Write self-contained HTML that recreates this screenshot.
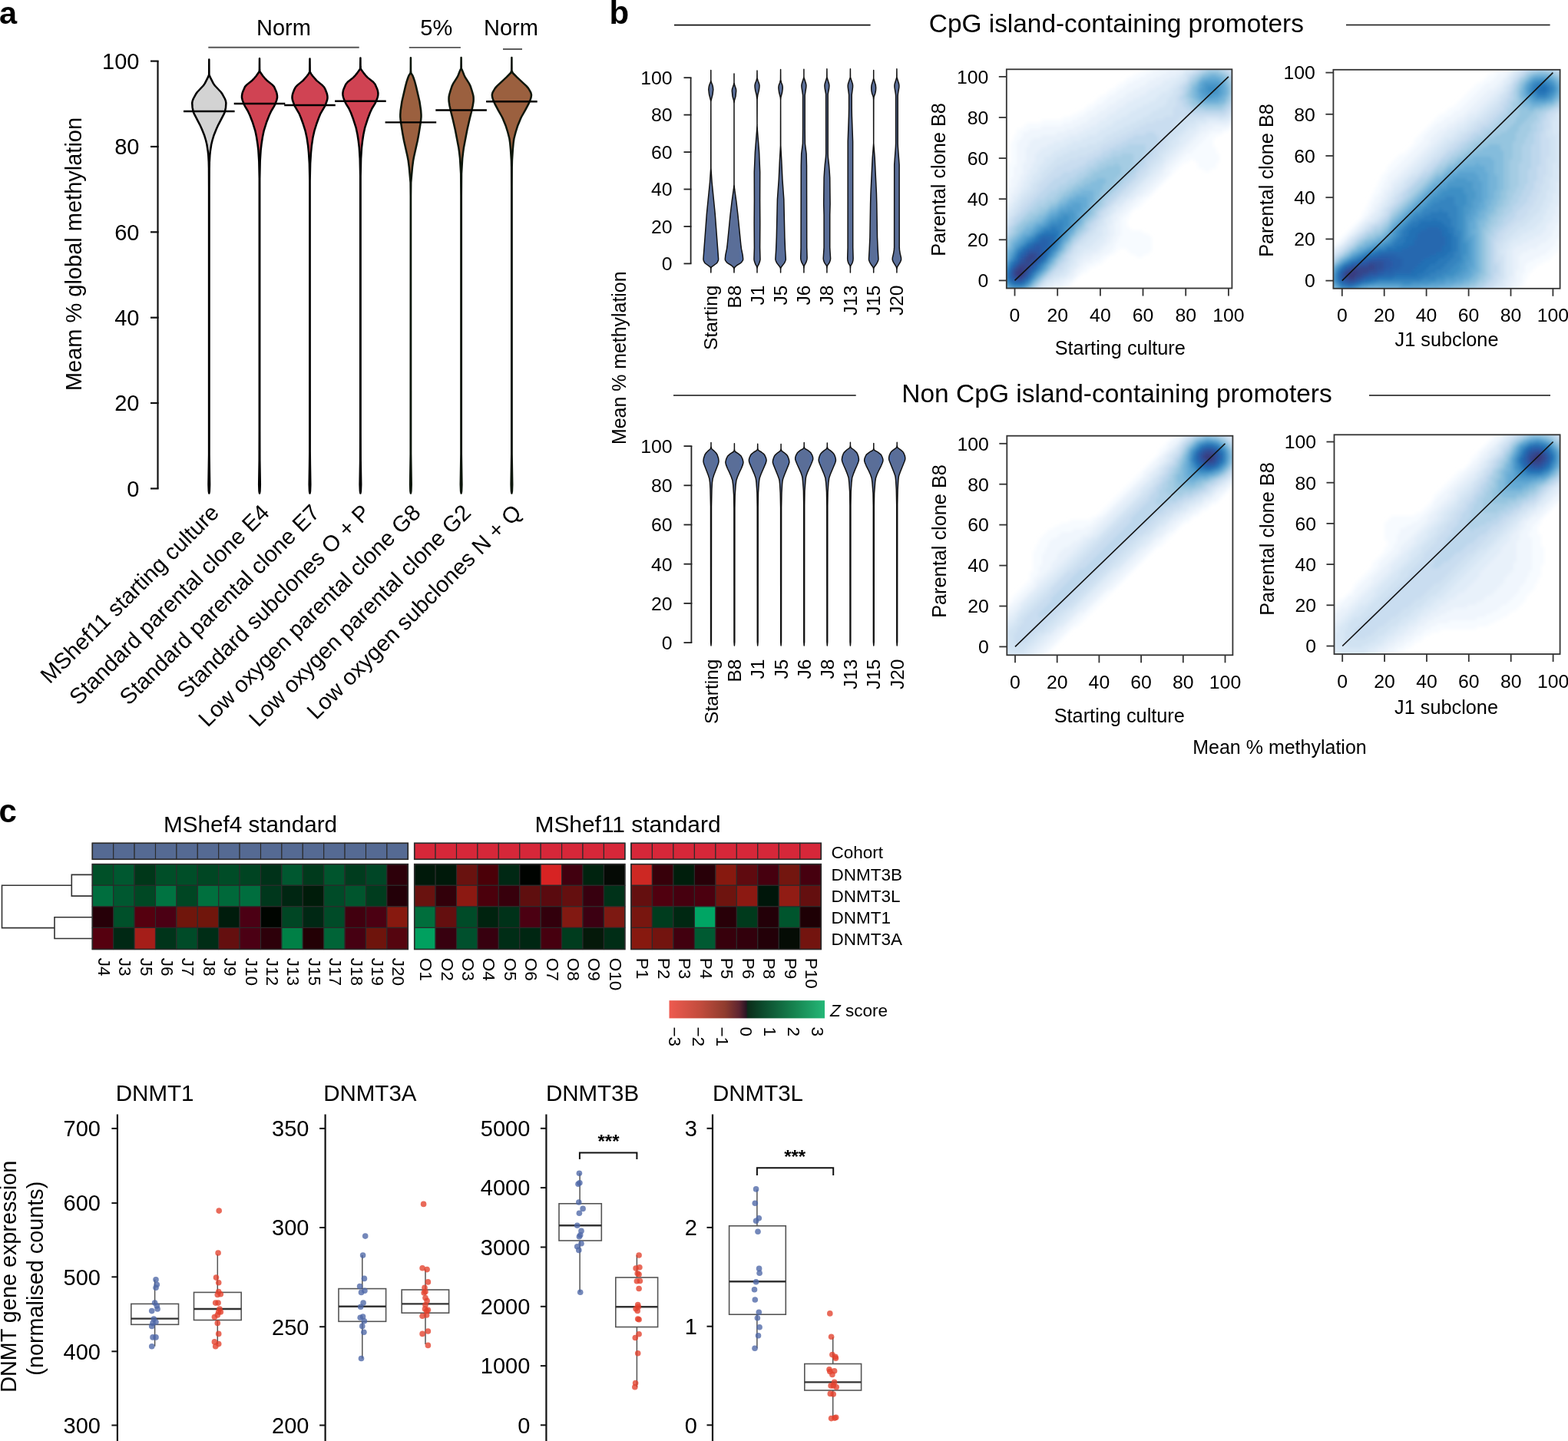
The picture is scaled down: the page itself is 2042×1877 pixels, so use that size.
<!DOCTYPE html><html><head><meta charset="utf-8"><title>Figure</title><style>html,body{margin:0;padding:0;background:#fff;}svg{display:block;}</style></head><body><svg width="2042" height="1877" viewBox="0 0 2042 1877" font-family='"Liberation Sans", Arial, Helvetica, sans-serif'><rect width="100%" height="100%" fill="#fff"/><text x="-1" y="31" font-size="41.5" font-weight="bold">a</text>
<line x1="205.5" y1="79.6" x2="205.5" y2="636.4" stroke="#111" stroke-width="2.2"/>
<line x1="196" y1="636.4" x2="206.6" y2="636.4" stroke="#111" stroke-width="2.2"/>
<text x="181.5" y="646.7" font-size="29" text-anchor="end">0</text>
<line x1="196" y1="525" x2="206.6" y2="525" stroke="#111" stroke-width="2.2"/>
<text x="181.5" y="535.3" font-size="29" text-anchor="end">20</text>
<line x1="196" y1="413.7" x2="206.6" y2="413.7" stroke="#111" stroke-width="2.2"/>
<text x="181.5" y="424" font-size="29" text-anchor="end">40</text>
<line x1="196" y1="302.3" x2="206.6" y2="302.3" stroke="#111" stroke-width="2.2"/>
<text x="181.5" y="312.6" font-size="29" text-anchor="end">60</text>
<line x1="196" y1="191" x2="206.6" y2="191" stroke="#111" stroke-width="2.2"/>
<text x="181.5" y="201.3" font-size="29" text-anchor="end">80</text>
<line x1="196" y1="79.6" x2="206.6" y2="79.6" stroke="#111" stroke-width="2.2"/>
<text x="181.5" y="89.9" font-size="29" text-anchor="end">100</text>
<text x="106" y="331" font-size="29" text-anchor="middle" transform="rotate(-90 106 331)">Meam % global methylation</text>
<line x1="271.3" y1="61.8" x2="467.7" y2="61.8" stroke="#555" stroke-width="1.9"/>
<line x1="532.8" y1="61.9" x2="599.9" y2="61.9" stroke="#555" stroke-width="1.9"/>
<line x1="655" y1="64" x2="680" y2="64" stroke="#555" stroke-width="1.9"/>
<text x="369.5" y="46.4" font-size="29" text-anchor="middle">Norm</text>
<text x="568.3" y="46.4" font-size="29" text-anchor="middle">5%</text>
<text x="665.5" y="46.4" font-size="29" text-anchor="middle">Norm</text>
<path d="M272.3,642.5 272.8,639.7 273.1,631.2 272.5,591.4 272.5,244.9 272.6,219.4 272.8,210.9 273.3,202.4 273.9,196.7 275.2,188.2 276.6,182.5 278.3,176.8 281.7,168.3 284.3,162.6 291.7,148.4 292.9,145.6 294,139.9 294.4,134.2 293.9,131.4 292.8,128.5 289.7,122.8 287.8,120 279.8,111.5 277.8,108.6 273.5,100.1 272.4,97.3 272.3,77.4 272.3,77.4 272.2,97.3 271.1,100.1 266.8,108.6 264.8,111.5 256.8,120 254.9,122.8 251.8,128.5 250.7,131.4 250.2,134.2 250.6,139.9 251.7,145.6 252.9,148.4 260.3,162.6 262.9,168.3 266.3,176.8 268,182.5 269.4,188.2 270.7,196.7 271.3,202.4 271.8,210.9 272,219.4 272.1,244.9 272.1,591.4 271.5,631.2 271.8,639.7 272.3,642.5Z" fill="#d3d3d3" stroke="#000" stroke-width="2.5" stroke-linejoin="round"/>
<line x1="239" y1="145" x2="305.6" y2="145" stroke="#000" stroke-width="2.4"/>
<path d="M338,642.5 338.5,639.7 338.8,631.1 338.3,599.8 338.2,560 338.2,232.7 338.7,210 339.6,195.7 340.6,187.2 341.9,178.7 343.7,170.1 347.3,158.7 350.6,150.2 353.3,144.5 356.7,138.8 358.2,136 359.3,133.1 360.3,130.3 361,127.4 361,124.6 360.5,121.7 359.6,118.9 357.1,113.2 354.6,110.4 347.5,104.7 344.8,101.8 342.4,99 338.4,93.3 338.1,90.4 338,76.2 338,76.2 337.9,90.4 337.6,93.3 333.6,99 331.2,101.8 328.5,104.7 321.4,110.4 318.9,113.2 316.4,118.9 315.5,121.7 315,124.6 315,127.4 315.7,130.3 316.7,133.1 317.8,136 319.3,138.8 322.7,144.5 325.4,150.2 328.7,158.7 332.3,170.1 334.1,178.7 335.4,187.2 336.4,195.7 337.3,210 337.8,232.7 337.8,560 337.7,599.8 337.2,631.1 337.5,639.7 338,642.5Z" fill="#d04353" stroke="#000" stroke-width="2.5" stroke-linejoin="round"/>
<line x1="304.7" y1="135" x2="371.3" y2="135" stroke="#000" stroke-width="2.4"/>
<path d="M403.5,642.5 404,639.7 404.3,631.1 403.9,605.5 403.7,588.5 403.6,235.8 404.1,213 405,198.8 405.8,190.3 407.5,178.9 409.4,170.4 412.1,161.8 415.2,153.3 417.6,147.6 422.6,139.1 424,136.2 426,130.5 426.5,127.7 426.4,124.9 425.8,122 423.6,116.3 422.1,113.5 419.3,110.6 412.3,104.9 407.4,99.3 405.3,96.4 403.7,93.6 403.5,76.5 403.5,76.5 403.3,93.6 401.7,96.4 399.6,99.3 394.7,104.9 387.7,110.6 384.9,113.5 383.4,116.3 381.2,122 380.6,124.9 380.5,127.7 381,130.5 383,136.2 384.4,139.1 389.4,147.6 391.8,153.3 394.9,161.8 397.6,170.4 399.5,178.9 401.2,190.3 402,198.8 402.9,213 403.4,235.8 403.3,588.5 403.1,605.5 402.7,631.1 403,639.7 403.5,642.5Z" fill="#d04353" stroke="#000" stroke-width="2.5" stroke-linejoin="round"/>
<line x1="370.2" y1="137" x2="436.8" y2="137" stroke="#000" stroke-width="2.4"/>
<path d="M469.4,642.5 469.9,639.7 470.2,631.1 469.7,599.8 469.6,562.7 469.6,229.4 470.1,206.6 471,192.3 472,183.8 473.3,175.2 475.1,166.7 478.7,155.3 481.9,146.7 484.6,141 488.1,135.3 489.6,132.5 490.7,129.6 491.7,126.8 492.3,123.9 492.4,121.1 491.9,118.2 491,115.4 488.5,109.7 486,106.8 478.9,101.1 476.2,98.3 473.8,95.4 469.8,89.7 469.5,86.9 469.4,75.5 469.4,75.5 469.2,86.9 469,89.7 465,95.4 462.6,98.3 459.9,101.1 452.8,106.8 450.3,109.7 447.8,115.4 446.9,118.2 446.4,121.1 446.5,123.9 447.1,126.8 448.1,129.6 449.2,132.5 450.7,135.3 454.2,141 456.9,146.7 460.1,155.3 463.7,166.7 465.5,175.2 466.8,183.8 467.8,192.3 468.7,206.6 469.2,229.4 469.2,562.7 469.1,599.8 468.6,631.1 468.9,639.7 469.4,642.5Z" fill="#d04353" stroke="#000" stroke-width="2.5" stroke-linejoin="round"/>
<line x1="436.1" y1="131.8" x2="502.7" y2="131.8" stroke="#000" stroke-width="2.4"/>
<path d="M534.9,642.5 535.4,639.7 535.7,631.1 535.1,591.2 535,254.9 535.2,237.8 537,217.8 538.1,209.3 539.2,203.6 543.7,183.6 545.3,175.1 548,158 548.5,152.3 548.5,149.4 548.1,143.7 546.4,132.3 541.8,112.4 540.3,106.7 538.4,101 537.2,98.1 535.3,95.3 535,92.4 534.9,75.3 534.9,75.3 534.8,92.4 534.5,95.3 532.6,98.1 531.4,101 529.5,106.7 528,112.4 523.4,132.3 521.7,143.7 521.3,149.4 521.3,152.3 521.8,158 524.5,175.1 526.1,183.6 530.6,203.6 531.7,209.3 532.8,217.8 534.6,237.8 534.8,254.9 534.7,591.2 534.1,631.1 534.4,639.7 534.9,642.5Z" fill="#9b603f" stroke="#0d160b" stroke-width="2.5" stroke-linejoin="round"/>
<line x1="501.6" y1="159.4" x2="568.2" y2="159.4" stroke="#000" stroke-width="2.4"/>
<path d="M600.6,642.5 601.1,639.7 601.4,631.1 600.8,591.2 600.8,254.7 601,226.1 602.2,206.2 603.2,197.6 604,191.9 608.4,169.1 611.6,154.9 613.8,146.3 615.7,137.7 616.6,132 616.7,129.2 616.6,126.3 616.1,123.5 614.5,117.8 612.6,112.1 611.2,109.2 605.8,100.7 604.4,97.8 602.2,92.1 600.8,89.3 600.6,75 600.6,75 600.4,89.3 599,92.1 596.8,97.8 595.4,100.7 590,109.2 588.6,112.1 586.7,117.8 585.1,123.5 584.6,126.3 584.5,129.2 584.6,132 585.5,137.7 587.4,146.3 589.6,154.9 592.8,169.1 597.2,191.9 598,197.6 599,206.2 600.2,226.1 600.4,254.7 600.4,591.2 599.8,631.1 600.1,639.7 600.6,642.5Z" fill="#9b603f" stroke="#0d160b" stroke-width="2.5" stroke-linejoin="round"/>
<line x1="567.3" y1="143.5" x2="633.9" y2="143.5" stroke="#000" stroke-width="2.4"/>
<path d="M666.4,642.5 666.9,639.7 667.2,631.1 666.6,591.2 666.6,243.3 666.7,217.6 666.9,209 667.8,194.8 668.6,186.2 669.4,180.5 671.6,172 674.3,163.4 677.8,154.9 679.2,152 684.1,143.4 688.6,134.9 690.9,129.2 691.7,126.3 692,123.5 691.3,120.6 689.8,117.8 688,114.9 685.6,112.1 673.3,100.7 667.7,95 666.5,92.1 666.4,75 666.4,75 666.2,92.1 665.1,95 659.5,100.7 647.2,112.1 644.8,114.9 643,117.8 641.5,120.6 640.8,123.5 641.1,126.3 641.9,129.2 644.2,134.9 648.7,143.4 653.6,152 655,154.9 658.5,163.4 661.2,172 663.4,180.5 664.2,186.2 665,194.8 665.9,209 666.1,217.6 666.2,243.3 666.2,591.2 665.6,631.1 665.9,639.7 666.4,642.5Z" fill="#9b603f" stroke="#0d160b" stroke-width="2.5" stroke-linejoin="round"/>
<line x1="633.1" y1="132.2" x2="699.7" y2="132.2" stroke="#000" stroke-width="2.4"/>
<text x="286.8" y="669.5" font-size="29.2" text-anchor="end" transform="rotate(-45 286.8 669.5)">MShef11 starting culture</text>
<text x="352.5" y="669.5" font-size="29.2" text-anchor="end" transform="rotate(-45 352.5 669.5)">Standard parental clone E4</text>
<text x="418" y="669.5" font-size="29.2" text-anchor="end" transform="rotate(-45 418 669.5)">Standard parental clone E7</text>
<text x="483.9" y="669.5" font-size="29.2" text-anchor="end" transform="rotate(-45 483.9 669.5)">Standard subclones O + P</text>
<text x="549.4" y="669.5" font-size="29.2" text-anchor="end" transform="rotate(-45 549.4 669.5)">Low oxygen parental clone G8</text>
<text x="615.1" y="669.5" font-size="29.2" text-anchor="end" transform="rotate(-45 615.1 669.5)">Low oxygen parental clone G2</text>
<text x="680.9" y="669.5" font-size="29.2" text-anchor="end" transform="rotate(-45 680.9 669.5)">Low oxygen subclones N + Q</text>
<defs><linearGradient id="vg" x1="0" x2="1" y1="0" y2="0"><stop offset="0" stop-color="#4f6fae"/><stop offset="0.25" stop-color="#5a6e98"/><stop offset="0.75" stop-color="#5a6e98"/><stop offset="1" stop-color="#4f6fae"/></linearGradient></defs>
<text x="793.5" y="31" font-size="42" font-weight="bold">b</text>
<line x1="878" y1="32.6" x2="1133.6" y2="32.6" stroke="#111" stroke-width="1.6"/>
<line x1="1753" y1="32.5" x2="2018.6" y2="32.5" stroke="#111" stroke-width="1.6"/>
<text x="1209.8" y="42" font-size="33.4">CpG island-containing promoters</text>
<line x1="877" y1="515" x2="1114.7" y2="515" stroke="#111" stroke-width="1.6"/>
<line x1="1783" y1="515" x2="2019" y2="515" stroke="#111" stroke-width="1.6"/>
<text x="1174.3" y="523.5" font-size="33.5">Non CpG island-containing promoters</text>
<text x="815.2" y="466.2" font-size="24.9" text-anchor="middle" transform="rotate(-90 815.2 466.2)">Mean % methylation</text>
<text x="1666.5" y="982" font-size="25" text-anchor="middle">Mean % methylation</text>
<line x1="899.6" y1="101.2" x2="899.6" y2="343.4" stroke="#222" stroke-width="1.8"/>
<line x1="890.5" y1="343.4" x2="900.5" y2="343.4" stroke="#222" stroke-width="1.8"/>
<text x="875.5" y="352.2" font-size="24.8" text-anchor="end">0</text>
<line x1="890.5" y1="295" x2="900.5" y2="295" stroke="#222" stroke-width="1.8"/>
<text x="875.5" y="303.8" font-size="24.8" text-anchor="end">20</text>
<line x1="890.5" y1="246.5" x2="900.5" y2="246.5" stroke="#222" stroke-width="1.8"/>
<text x="875.5" y="255.3" font-size="24.8" text-anchor="end">40</text>
<line x1="890.5" y1="198.1" x2="900.5" y2="198.1" stroke="#222" stroke-width="1.8"/>
<text x="875.5" y="206.9" font-size="24.8" text-anchor="end">60</text>
<line x1="890.5" y1="149.6" x2="900.5" y2="149.6" stroke="#222" stroke-width="1.8"/>
<text x="875.5" y="158.4" font-size="24.8" text-anchor="end">80</text>
<line x1="890.5" y1="101.2" x2="900.5" y2="101.2" stroke="#222" stroke-width="1.8"/>
<text x="875.5" y="110" font-size="24.8" text-anchor="end">100</text>
<path d="M925.8,355 925.9,350.2 926.1,349 926.5,347.8 933.2,343 934.2,341.8 935.3,339.4 935.6,338.1 935.6,336.9 931.2,278 927.1,237 925.9,219 925.8,132.3 926,131.1 928.1,122.7 928.8,116.7 928.4,113.1 927.8,110.7 926.3,107 925.8,104.6 925.8,91.4 925.8,91.4 925.8,104.6 925.3,107 923.8,110.7 923.2,113.1 922.8,116.7 923.5,122.7 925.6,131.1 925.8,132.3 925.7,219 924.5,237 920.4,278 916,336.9 916,338.1 916.3,339.4 917.4,341.8 918.4,343 925.1,347.8 925.5,349 925.7,350.2 925.8,355Z" fill="url(#vg)" stroke="#111" stroke-width="1.5" stroke-linejoin="round"/>
<text x="934.3" y="371.5" font-size="24.5" text-anchor="end" transform="rotate(-90 934.3 371.5)">Starting</text>
<path d="M956,355 956.1,350.3 956.4,349.1 957.1,347.9 959.8,345.5 963.8,343.2 965.3,342 967.1,339.6 967.6,338.4 967.7,337.3 967.2,332.5 965.5,324.2 965,320.7 961,280.5 958.9,262.7 956.6,246.2 956,240.2 956,134.9 956.3,131.4 958,125.5 958.7,118.4 958.5,116 956.8,111.3 956,107.7 956,95.9 956,95.9 956,107.7 955.2,111.3 953.5,116 953.3,118.4 954,125.5 955.7,131.4 956,134.9 956,240.2 955.4,246.2 953.1,262.7 951,280.5 947,320.7 946.5,324.2 944.8,332.5 944.3,337.3 944.4,338.4 944.9,339.6 946.7,342 948.2,343.2 952.2,345.5 954.9,347.9 955.6,349.1 955.9,350.3 956,355Z" fill="url(#vg)" stroke="#111" stroke-width="1.5" stroke-linejoin="round"/>
<text x="964.5" y="371.5" font-size="24.5" text-anchor="end" transform="rotate(-90 964.5 371.5)">B8</text>
<path d="M986,355 986,350.2 986.3,347.8 986.8,346.6 988.2,344.2 989.5,340.6 990,338.2 990,337 989.6,322.6 989.8,290.2 989.6,261.3 989.7,224.1 988.6,197.7 986.3,168.9 986,162.9 986.1,129.2 986.9,123.2 988.2,118.4 988.6,116 988.9,113.6 989,111.2 988.5,108.8 987.1,105.2 986.1,101.6 986,92 986,92 985.9,101.6 984.9,105.2 983.5,108.8 983,111.2 983.1,113.6 983.4,116 983.8,118.4 985.1,123.2 985.9,129.2 986,162.9 985.7,168.9 983.4,197.7 982.3,224.1 982.4,261.3 982.2,290.2 982.4,322.6 982,337 982,338.2 982.5,340.6 983.8,344.2 985.2,346.6 985.7,347.8 986,350.2 986,355Z" fill="url(#vg)" stroke="#111" stroke-width="1.5" stroke-linejoin="round"/>
<text x="994.5" y="371.5" font-size="24.5" text-anchor="end" transform="rotate(-90 994.5 371.5)">J1</text>
<path d="M1016.6,355 1016.6,351.4 1016.9,349 1017.5,347.8 1021.3,342.9 1022,341.7 1023,339.3 1023.3,338.1 1023.3,336.9 1022.6,326 1021.9,309.1 1020.8,259.6 1018.9,233.1 1017.8,208.9 1016.7,189.6 1016.6,130.4 1016.9,126.8 1018.5,120.8 1019.2,116 1019.3,113.5 1018.9,111.1 1017.5,107.5 1016.7,103.9 1016.6,90.6 1016.6,90.6 1016.5,103.9 1015.7,107.5 1014.3,111.1 1013.9,113.5 1014,116 1014.7,120.8 1016.3,126.8 1016.6,130.4 1016.5,189.6 1015.4,208.9 1014.3,233.1 1012.4,259.6 1011.3,309.1 1010.6,326 1009.9,336.9 1009.9,338.1 1010.2,339.3 1011.2,341.7 1011.9,342.9 1015.7,347.8 1016.3,349 1016.6,351.4 1016.6,355Z" fill="url(#vg)" stroke="#111" stroke-width="1.5" stroke-linejoin="round"/>
<text x="1025.1" y="371.5" font-size="24.5" text-anchor="end" transform="rotate(-90 1025.1 371.5)">J5</text>
<path d="M1046.9,355 1046.9,350.2 1047.2,346.5 1049.8,341.7 1050.9,338.1 1051.1,335.7 1050.7,322.4 1050.5,216 1050.1,200.3 1048.4,187 1048.2,167.7 1048.2,124.1 1049.7,114.5 1049.9,112.1 1049.9,110.8 1049.4,108.4 1047.1,101.2 1046.9,100 1046.9,90.3 1046.9,90.3 1046.9,100 1046.7,101.2 1044.4,108.4 1043.9,110.8 1043.9,112.1 1044.1,114.5 1045.6,124.1 1045.6,167.7 1045.4,187 1043.7,200.3 1043.3,216 1043.1,322.4 1042.7,335.7 1042.9,338.1 1044,341.7 1046.6,346.5 1046.9,350.2 1046.9,355Z" fill="url(#vg)" stroke="#111" stroke-width="1.5" stroke-linejoin="round"/>
<text x="1055.4" y="371.5" font-size="24.5" text-anchor="end" transform="rotate(-90 1055.4 371.5)">J6</text>
<path d="M1076.9,355 1076.9,350.2 1077.2,346.5 1077.9,345.3 1079.7,342.9 1080.3,341.7 1081.2,339.3 1081.6,336.8 1080.7,322.3 1080.7,279.9 1081.1,265.4 1080.7,231.5 1080.1,221.8 1079.5,214.5 1078.4,204.8 1078.2,200 1078.2,122.5 1079.6,115.2 1079.9,111.6 1079.6,109.2 1077,100.7 1076.9,89.8 1076.9,89.8 1076.8,100.7 1074.2,109.2 1073.9,111.6 1074.2,115.2 1075.6,122.5 1075.7,200 1075.4,204.8 1074.3,214.5 1073.7,221.8 1073.1,231.5 1072.7,265.4 1073.1,279.9 1073.1,322.3 1072.2,336.8 1072.6,339.3 1073.5,341.7 1074.1,342.9 1075.9,345.3 1076.6,346.5 1076.9,350.2 1076.9,355Z" fill="url(#vg)" stroke="#111" stroke-width="1.5" stroke-linejoin="round"/>
<text x="1085.4" y="371.5" font-size="24.5" text-anchor="end" transform="rotate(-90 1085.4 371.5)">J8</text>
<path d="M1107.4,355 1107.4,350.2 1107.7,346.5 1108.3,345.3 1109.8,342.9 1110.2,341.7 1110.9,339.3 1111.1,336.8 1110.7,322.3 1110.6,184.3 1109.4,151.6 1109.2,140.7 1109.2,123.7 1110.5,114 1110.6,111.6 1110.3,109.2 1107.5,100.7 1107.4,89.8 1107.4,89.8 1107.3,100.7 1104.5,109.2 1104.2,111.6 1104.3,114 1105.6,123.7 1105.6,140.7 1105.4,151.6 1104.2,184.3 1104.1,322.3 1103.7,336.8 1103.9,339.3 1104.6,341.7 1105,342.9 1106.5,345.3 1107.1,346.5 1107.4,350.2 1107.4,355Z" fill="url(#vg)" stroke="#111" stroke-width="1.5" stroke-linejoin="round"/>
<text x="1115.9" y="371.5" font-size="24.5" text-anchor="end" transform="rotate(-90 1115.9 371.5)">J13</text>
<path d="M1137.7,355 1137.7,351.4 1138,349 1138.6,347.8 1141.2,344.2 1142.6,341.8 1143.6,339.4 1143.9,338.1 1143.9,336.9 1143.2,324.9 1142.5,309.3 1141.8,265.9 1141.4,251.5 1139.2,205.7 1137.7,186.5 1137.8,129.9 1138.1,126.3 1139.8,121.5 1140.5,117.9 1140.7,114.3 1140.3,110.7 1137.7,102.2 1137.7,91.4 1137.7,91.4 1137.7,102.2 1135.1,110.7 1134.7,114.3 1134.9,117.9 1135.6,121.5 1137.3,126.3 1137.6,129.9 1137.7,186.5 1136.2,205.7 1134,251.5 1133.6,265.9 1132.9,309.3 1132.2,324.9 1131.5,336.9 1131.5,338.1 1131.8,339.4 1132.8,341.8 1134.2,344.2 1136.8,347.8 1137.4,349 1137.7,351.4 1137.7,355Z" fill="url(#vg)" stroke="#111" stroke-width="1.5" stroke-linejoin="round"/>
<text x="1146.2" y="371.5" font-size="24.5" text-anchor="end" transform="rotate(-90 1146.2 371.5)">J15</text>
<path d="M1167.9,355 1167.9,351.4 1168.2,348.9 1168.6,347.7 1172.3,341.7 1173.3,339.3 1173.6,338 1173.5,335.6 1172.3,330.8 1171.5,325.9 1171.2,322.3 1171.1,214.5 1169.4,191.5 1169.2,186.7 1169.2,124.9 1169.4,122.5 1170.8,114 1170.9,111.6 1170.6,109.2 1168,100.7 1167.9,89.8 1167.9,89.8 1167.8,100.7 1165.2,109.2 1164.9,111.6 1165,114 1166.4,122.5 1166.6,124.9 1166.6,186.7 1166.4,191.5 1164.7,214.5 1164.6,322.3 1164.3,325.9 1163.5,330.8 1162.3,335.6 1162.2,338 1162.5,339.3 1163.5,341.7 1167.2,347.7 1167.6,348.9 1167.9,351.4 1167.9,355Z" fill="url(#vg)" stroke="#111" stroke-width="1.5" stroke-linejoin="round"/>
<text x="1176.4" y="371.5" font-size="24.5" text-anchor="end" transform="rotate(-90 1176.4 371.5)">J20</text>
<line x1="900.4" y1="581.1" x2="900.4" y2="837.1" stroke="#222" stroke-width="1.8"/>
<line x1="890.5" y1="837.1" x2="901.3" y2="837.1" stroke="#222" stroke-width="1.8"/>
<text x="875.5" y="845.9" font-size="24.8" text-anchor="end">0</text>
<line x1="890.5" y1="785.9" x2="901.3" y2="785.9" stroke="#222" stroke-width="1.8"/>
<text x="875.5" y="794.7" font-size="24.8" text-anchor="end">20</text>
<line x1="890.5" y1="734.7" x2="901.3" y2="734.7" stroke="#222" stroke-width="1.8"/>
<text x="875.5" y="743.5" font-size="24.8" text-anchor="end">40</text>
<line x1="890.5" y1="683.5" x2="901.3" y2="683.5" stroke="#222" stroke-width="1.8"/>
<text x="875.5" y="692.3" font-size="24.8" text-anchor="end">60</text>
<line x1="890.5" y1="632.3" x2="901.3" y2="632.3" stroke="#222" stroke-width="1.8"/>
<text x="875.5" y="641.1" font-size="24.8" text-anchor="end">80</text>
<line x1="890.5" y1="581.1" x2="901.3" y2="581.1" stroke="#222" stroke-width="1.8"/>
<text x="875.5" y="589.9" font-size="24.8" text-anchor="end">100</text>
<path d="M926,841 926.4,836.2 926.5,659.8 927,636.9 927.5,628.4 928.2,623.6 929.7,618.8 935.3,604.3 935.9,601.9 936,600.7 935.6,597 934,592.2 932.3,589.8 930,587.4 927.1,585 926.4,583.7 926,581.3 926,576.5 926,576.5 926,581.3 925.6,583.7 924.9,585 922,587.4 919.7,589.8 918,592.2 916.4,597 916,600.7 916.1,601.9 916.7,604.3 922.3,618.8 923.8,623.6 924.5,628.4 925,636.9 925.5,659.8 925.6,836.2 926,841Z" fill="url(#vg)" stroke="#111" stroke-width="1.5" stroke-linejoin="round"/>
<text x="934.5" y="858.5" font-size="24.5" text-anchor="end" transform="rotate(-90 934.5 858.5)">Starting</text>
<path d="M956.4,841 956.8,836.2 956.9,661.9 957.2,645 958.1,631.8 958.9,625.8 960.5,621 963.1,615 965.4,610.2 967.3,605.4 967.9,602.9 967.9,601.7 967.1,598.1 965.4,594.5 964.4,593.3 961.5,590.9 957.7,588.5 956.8,587.3 956.4,584.9 956.4,577.7 956.4,577.7 956.4,584.9 956,587.3 955.1,588.5 951.3,590.9 948.4,593.3 947.4,594.5 945.7,598.1 944.9,601.7 944.9,602.9 945.5,605.4 947.4,610.2 949.7,615 952.3,621 953.9,625.8 954.7,631.8 955.6,645 955.9,661.9 956,836.2 956.4,841Z" fill="url(#vg)" stroke="#111" stroke-width="1.5" stroke-linejoin="round"/>
<text x="964.9" y="858.5" font-size="24.5" text-anchor="end" transform="rotate(-90 964.9 858.5)">B8</text>
<path d="M986.7,841 987.1,836.2 987.2,659.8 987.5,641.8 988.4,628.6 988.8,625 989.3,622.6 991,617.8 997.2,603.4 997.9,601 998.1,599.8 998,598.6 997.4,596.2 995.7,592.6 994.7,591.4 991.7,589 987.8,586.6 987,585.4 986.8,584.2 986.7,578.2 986.7,578.2 986.6,584.2 986.4,585.4 985.6,586.6 981.7,589 978.7,591.4 977.7,592.6 976,596.2 975.4,598.6 975.4,599.8 975.5,601 976.2,603.4 982.4,617.8 984.1,622.6 984.6,625 985,628.6 985.9,641.8 986.2,659.8 986.3,836.2 986.7,841Z" fill="url(#vg)" stroke="#111" stroke-width="1.5" stroke-linejoin="round"/>
<text x="995.2" y="858.5" font-size="24.5" text-anchor="end" transform="rotate(-90 995.2 858.5)">J1</text>
<path d="M1017.1,841 1017.5,836.2 1017.6,661.2 1018,642 1018.7,630 1019.1,626.4 1019.6,624 1021.3,619.3 1027.1,604.9 1027.8,602.5 1027.8,601.3 1027.5,598.9 1026.7,596.5 1025.7,594.1 1024.9,592.9 1022.4,590.5 1020.9,589.3 1019,588.1 1017.7,586.9 1017.1,584.5 1017.1,578.5 1017.1,578.5 1017.1,584.5 1016.5,586.9 1015.2,588.1 1013.3,589.3 1011.8,590.5 1009.3,592.9 1008.5,594.1 1007.5,596.5 1006.7,598.9 1006.4,601.3 1006.4,602.5 1007.1,604.9 1012.9,619.3 1014.6,624 1015.1,626.4 1015.5,630 1016.2,642 1016.6,661.2 1016.7,836.2 1017.1,841Z" fill="url(#vg)" stroke="#111" stroke-width="1.5" stroke-linejoin="round"/>
<text x="1025.6" y="858.5" font-size="24.5" text-anchor="end" transform="rotate(-90 1025.6 858.5)">J5</text>
<path d="M1047.2,841 1047.6,836.2 1047.7,657.4 1048,639.3 1049,626 1049.4,622.4 1049.9,620 1051.6,615.1 1056.5,604.3 1057.9,600.7 1058.7,598.2 1058.7,597 1058.6,595.8 1057.9,593.4 1056,589.8 1053.2,587.4 1051.5,586.2 1049.2,585 1047.7,583.7 1047.2,581.3 1047.2,576.5 1047.2,576.5 1047.2,581.3 1046.7,583.7 1045.2,585 1042.9,586.2 1041.2,587.4 1038.4,589.8 1036.5,593.4 1035.8,595.8 1035.7,597 1035.7,598.2 1036.5,600.7 1037.9,604.3 1042.8,615.1 1044.5,620 1045,622.4 1045.4,626 1046.4,639.3 1046.7,657.4 1046.8,836.2 1047.2,841Z" fill="url(#vg)" stroke="#111" stroke-width="1.5" stroke-linejoin="round"/>
<text x="1055.7" y="858.5" font-size="24.5" text-anchor="end" transform="rotate(-90 1055.7 858.5)">J6</text>
<path d="M1077.3,841 1077.7,836.2 1077.8,659 1078.1,640.9 1078.9,628.8 1079.7,622.8 1081.3,618 1087.4,603.5 1088.2,601.1 1088.4,599.9 1088.4,598.7 1088,596.3 1087.2,593.9 1086.1,591.5 1084,589.1 1081.1,586.6 1079.1,585.4 1077.9,584.2 1077.3,581.8 1077.3,577 1077.3,577 1077.3,581.8 1076.7,584.2 1075.5,585.4 1073.5,586.6 1070.6,589.1 1068.5,591.5 1067.4,593.9 1066.6,596.3 1066.2,598.7 1066.2,599.9 1066.4,601.1 1067.2,603.5 1073.3,618 1074.9,622.8 1075.7,628.8 1076.5,640.9 1076.8,659 1076.9,836.2 1077.3,841Z" fill="url(#vg)" stroke="#111" stroke-width="1.5" stroke-linejoin="round"/>
<text x="1085.8" y="858.5" font-size="24.5" text-anchor="end" transform="rotate(-90 1085.8 858.5)">J8</text>
<path d="M1107.4,841 1107.8,836.2 1107.9,658.5 1108.2,640.4 1109,628.3 1109.7,622.2 1111.3,617.4 1113.7,611.4 1115.9,606.5 1117.8,601.7 1118.4,599.3 1118.4,598.1 1117.8,594.4 1116.4,590.8 1115.7,589.6 1112.1,586 1108.6,583.6 1107.8,582.3 1107.4,579.9 1107.4,576.3 1107.4,576.3 1107.4,579.9 1107,582.3 1106.2,583.6 1102.7,586 1099.1,589.6 1098.4,590.8 1097,594.4 1096.4,598.1 1096.4,599.3 1097,601.7 1098.9,606.5 1101.1,611.4 1103.5,617.4 1105.1,622.2 1105.8,628.3 1106.6,640.4 1106.9,658.5 1107,836.2 1107.4,841Z" fill="url(#vg)" stroke="#111" stroke-width="1.5" stroke-linejoin="round"/>
<text x="1115.9" y="858.5" font-size="24.5" text-anchor="end" transform="rotate(-90 1115.9 858.5)">J13</text>
<path d="M1137.8,841 1138.2,836.2 1138.3,659.2 1138.6,642.4 1139.7,628 1140.4,623.1 1142,618.3 1144.7,612.3 1147.7,606.3 1149.2,602.7 1149.9,600.3 1149.9,599.1 1149.8,597.9 1149,595.5 1147.8,593 1146.9,591.8 1143.8,589.4 1141.9,588.2 1139.5,587 1138.2,585.8 1137.8,583.4 1137.8,577.4 1137.8,577.4 1137.8,583.4 1137.4,585.8 1136.1,587 1133.7,588.2 1131.8,589.4 1128.7,591.8 1127.8,593 1126.6,595.5 1125.8,597.9 1125.7,599.1 1125.7,600.3 1126.4,602.7 1127.9,606.3 1130.9,612.3 1133.6,618.3 1135.2,623.1 1135.9,628 1137,642.4 1137.3,659.2 1137.4,836.2 1137.8,841Z" fill="url(#vg)" stroke="#111" stroke-width="1.5" stroke-linejoin="round"/>
<text x="1146.3" y="858.5" font-size="24.5" text-anchor="end" transform="rotate(-90 1146.3 858.5)">J15</text>
<path d="M1168.2,841 1168.6,836.2 1168.7,657.3 1169.1,637.9 1169.8,625.9 1170.2,622.2 1170.6,619.8 1172.3,615 1178.1,600.5 1178.8,598.1 1178.8,596.8 1178.7,595.6 1178.2,593.2 1176.6,589.6 1175.7,588.4 1174.4,587.2 1171.4,584.8 1169.5,583.6 1168.6,582.3 1168.2,579.9 1168.2,576.3 1168.2,576.3 1168.2,579.9 1167.8,582.3 1166.9,583.6 1165,584.8 1162,587.2 1160.7,588.4 1159.8,589.6 1158.2,593.2 1157.7,595.6 1157.6,596.8 1157.6,598.1 1158.3,600.5 1164.1,615 1165.8,619.8 1166.2,622.2 1166.6,625.9 1167.3,637.9 1167.7,657.3 1167.8,836.2 1168.2,841Z" fill="url(#vg)" stroke="#111" stroke-width="1.5" stroke-linejoin="round"/>
<text x="1176.7" y="858.5" font-size="24.5" text-anchor="end" transform="rotate(-90 1176.7 858.5)">J20</text>
<defs><filter id="bl" x="-5%" y="-5%" width="110%" height="110%"><feGaussianBlur stdDeviation="2"/></filter></defs>
<clipPath id="cu1"><rect x="1310.8" y="90.3" width="293.6" height="285.2"/></clipPath><g clip-path="url(#cu1)"><g filter="url(#bl)"><path fill="#f7fbff" d="M1492 88h16v4h-16zM1484 92h16v4h-16zM1476 96h16v4h-16zM1468 100h16v4h-16zM1464 104h12v4h-12zM1456 108h12v4h-12zM1452 112h12v4h-12zM1444 116h12v4h-12zM1440 120h12v4h-12zM1432 124h12v4h-12zM1428 128h12v4h-12zM1424 132h12v4h-12zM1416 136h12v4h-12zM1412 140h12v4h-12zM1404 144h12v4h-12zM1396 148h16v4h-16zM1384 152h20v4h-20zM1356 156h40v4h-40zM1336 160h48v4h-48zM1604 160h4v4h-4zM1332 164h24v4h-24zM1600 164h8v4h-8zM1324 168h16v4h-16zM1592 168h8v4h-8zM1324 172h8v4h-8zM1576 172h16v4h-16zM1320 176h12v4h-12zM1572 176h12v4h-12zM1320 180h8v4h-8zM1568 180h12v4h-12zM1316 184h8v4h-8zM1564 184h16v4h-16zM1316 188h8v4h-8zM1560 188h20v4h-20zM1316 192h8v4h-8zM1556 192h28v4h-28zM1316 196h8v4h-8zM1552 196h32v4h-32zM1316 200h8v4h-8zM1544 200h44v4h-44zM1316 204h8v4h-8zM1540 204h48v4h-48zM1316 208h8v4h-8zM1536 208h12v4h-12zM1556 208h32v4h-32zM1312 212h12v4h-12zM1532 212h8v4h-8zM1560 212h24v4h-24zM1312 216h8v4h-8zM1528 216h8v4h-8zM1560 216h24v4h-24zM1312 220h8v4h-8zM1524 220h8v4h-8zM1568 220h8v4h-8zM1312 224h8v4h-8zM1524 224h4v4h-4zM1312 228h8v4h-8zM1520 228h4v4h-4zM1312 232h4v4h-4zM1516 232h4v4h-4zM1308 236h8v4h-8zM1512 236h4v4h-4zM1308 240h8v4h-8zM1508 240h4v4h-4zM1308 244h4v4h-4zM1504 244h4v4h-4zM1308 248h4v4h-4zM1500 248h4v4h-4zM1496 252h4v4h-4zM1488 256h8v4h-8zM1484 260h8v4h-8zM1480 264h8v4h-8zM1476 268h8v4h-8zM1472 272h4v4h-4zM1468 276h4v4h-4zM1464 280h8v4h-8zM1460 284h8v4h-8zM1460 288h8v4h-8zM1460 292h8v4h-8zM1460 296h12v4h-12zM1460 300h28v4h-28zM1460 304h36v4h-36zM1456 308h44v4h-44zM1456 312h44v4h-44zM1452 316h48v4h-48zM1452 320h48v4h-48zM1448 324h8v4h-8zM1468 324h32v4h-32zM1444 328h8v4h-8zM1472 328h24v4h-24zM1436 332h8v4h-8zM1480 332h8v4h-8zM1432 336h8v4h-8zM1424 340h12v4h-12zM1416 344h12v4h-12zM1412 348h8v4h-8zM1408 352h8v4h-8zM1404 356h4v4h-4zM1400 360h4v4h-4zM1396 364h4v4h-4zM1392 368h4v4h-4zM1384 372h8v4h-8zM1376 376h8v4h-8z"/><path fill="#f0f6fd" d="M1508 88h24v4h-24zM1500 92h20v4h-20zM1492 96h20v4h-20zM1484 100h20v4h-20zM1476 104h20v4h-20zM1468 108h24v4h-24zM1464 112h20v4h-20zM1456 116h20v4h-20zM1452 120h16v4h-16zM1444 124h20v4h-20zM1440 128h16v4h-16zM1436 132h16v4h-16zM1428 136h16v4h-16zM1424 140h16v4h-16zM1416 144h16v4h-16zM1412 148h16v4h-16zM1404 152h16v4h-16zM1396 156h20v4h-20zM1604 156h4v4h-4zM1384 160h24v4h-24zM1600 160h4v4h-4zM1356 164h44v4h-44zM1580 164h20v4h-20zM1340 168h48v4h-48zM1572 168h20v4h-20zM1332 172h44v4h-44zM1564 172h12v4h-12zM1332 176h24v4h-24zM1560 176h12v4h-12zM1328 180h16v4h-16zM1556 180h12v4h-12zM1324 184h16v4h-16zM1552 184h12v4h-12zM1324 188h16v4h-16zM1548 188h12v4h-12zM1324 192h12v4h-12zM1544 192h12v4h-12zM1324 196h12v4h-12zM1540 196h12v4h-12zM1324 200h12v4h-12zM1536 200h8v4h-8zM1324 204h12v4h-12zM1532 204h8v4h-8zM1324 208h12v4h-12zM1528 208h8v4h-8zM1324 212h8v4h-8zM1524 212h8v4h-8zM1320 216h12v4h-12zM1520 216h8v4h-8zM1320 220h12v4h-12zM1516 220h8v4h-8zM1320 224h12v4h-12zM1516 224h8v4h-8zM1320 228h8v4h-8zM1512 228h8v4h-8zM1316 232h12v4h-12zM1508 232h8v4h-8zM1316 236h8v4h-8zM1504 236h8v4h-8zM1316 240h8v4h-8zM1500 240h8v4h-8zM1312 244h8v4h-8zM1496 244h8v4h-8zM1312 248h8v4h-8zM1492 248h8v4h-8zM1308 252h8v4h-8zM1488 252h8v4h-8zM1308 256h8v4h-8zM1480 256h8v4h-8zM1308 260h4v4h-4zM1476 260h8v4h-8zM1472 264h8v4h-8zM1468 268h8v4h-8zM1464 272h8v4h-8zM1460 276h8v4h-8zM1456 280h8v4h-8zM1456 284h4v4h-4zM1452 288h8v4h-8zM1452 292h8v4h-8zM1452 296h8v4h-8zM1452 300h8v4h-8zM1452 304h8v4h-8zM1448 308h8v4h-8zM1448 312h8v4h-8zM1444 316h8v4h-8zM1440 320h12v4h-12zM1436 324h12v4h-12zM1432 328h12v4h-12zM1424 332h12v4h-12zM1420 336h12v4h-12zM1412 340h12v4h-12zM1408 344h8v4h-8zM1404 348h8v4h-8zM1400 352h8v4h-8zM1400 356h4v4h-4zM1396 360h4v4h-4zM1388 364h8v4h-8zM1384 368h8v4h-8zM1372 372h12v4h-12zM1360 376h16v4h-16z"/><path fill="#e8f1fa" d="M1532 88h12v4h-12zM1520 92h20v4h-20zM1512 96h20v4h-20zM1504 100h20v4h-20zM1496 104h20v4h-20zM1492 108h20v4h-20zM1484 112h20v4h-20zM1476 116h20v4h-20zM1468 120h24v4h-24zM1464 124h20v4h-20zM1456 128h20v4h-20zM1452 132h16v4h-16zM1444 136h20v4h-20zM1440 140h16v4h-16zM1432 144h20v4h-20zM1428 148h16v4h-16zM1420 152h20v4h-20zM1604 152h4v4h-4zM1416 156h16v4h-16zM1600 156h4v4h-4zM1408 160h20v4h-20zM1572 160h28v4h-28zM1400 164h20v4h-20zM1564 164h16v4h-16zM1388 168h24v4h-24zM1560 168h12v4h-12zM1376 172h28v4h-28zM1556 172h8v4h-8zM1356 176h36v4h-36zM1552 176h8v4h-8zM1344 180h40v4h-40zM1548 180h8v4h-8zM1340 184h32v4h-32zM1544 184h8v4h-8zM1340 188h24v4h-24zM1540 188h8v4h-8zM1336 192h20v4h-20zM1536 192h8v4h-8zM1336 196h16v4h-16zM1532 196h8v4h-8zM1336 200h12v4h-12zM1528 200h8v4h-8zM1336 204h12v4h-12zM1524 204h8v4h-8zM1336 208h12v4h-12zM1520 208h8v4h-8zM1332 212h12v4h-12zM1516 212h8v4h-8zM1332 216h12v4h-12zM1516 216h4v4h-4zM1332 220h8v4h-8zM1512 220h4v4h-4zM1332 224h8v4h-8zM1508 224h8v4h-8zM1328 228h8v4h-8zM1504 228h8v4h-8zM1328 232h8v4h-8zM1500 232h8v4h-8zM1324 236h8v4h-8zM1496 236h8v4h-8zM1324 240h8v4h-8zM1492 240h8v4h-8zM1320 244h8v4h-8zM1488 244h8v4h-8zM1320 248h8v4h-8zM1484 248h8v4h-8zM1316 252h8v4h-8zM1480 252h8v4h-8zM1316 256h4v4h-4zM1476 256h4v4h-4zM1312 260h8v4h-8zM1468 260h8v4h-8zM1308 264h8v4h-8zM1464 264h8v4h-8zM1308 268h4v4h-4zM1460 268h8v4h-8zM1308 272h4v4h-4zM1456 272h8v4h-8zM1452 276h8v4h-8zM1448 280h8v4h-8zM1448 284h8v4h-8zM1448 288h4v4h-4zM1444 292h8v4h-8zM1444 296h8v4h-8zM1444 300h8v4h-8zM1444 304h8v4h-8zM1440 308h8v4h-8zM1440 312h8v4h-8zM1436 316h8v4h-8zM1432 320h8v4h-8zM1428 324h8v4h-8zM1420 328h12v4h-12zM1412 332h12v4h-12zM1408 336h12v4h-12zM1404 340h8v4h-8zM1404 344h4v4h-4zM1400 348h4v4h-4zM1396 352h4v4h-4zM1392 356h8v4h-8zM1388 360h8v4h-8zM1380 364h8v4h-8zM1372 368h12v4h-12zM1364 372h8v4h-8zM1356 376h4v4h-4z"/><path fill="#e0ecf8" d="M1544 88h8v4h-8zM1540 92h4v4h-4zM1532 96h8v4h-8zM1524 100h12v4h-12zM1516 104h16v4h-16zM1512 108h16v4h-16zM1504 112h20v4h-20zM1496 116h24v4h-24zM1492 120h20v4h-20zM1484 124h24v4h-24zM1476 128h28v4h-28zM1468 132h28v4h-28zM1464 136h24v4h-24zM1456 140h24v4h-24zM1452 144h20v4h-20zM1444 148h24v4h-24zM1604 148h4v4h-4zM1440 152h20v4h-20zM1600 152h4v4h-4zM1432 156h20v4h-20zM1572 156h28v4h-28zM1428 160h20v4h-20zM1560 160h12v4h-12zM1420 164h20v4h-20zM1556 164h8v4h-8zM1412 168h20v4h-20zM1548 168h12v4h-12zM1404 172h24v4h-24zM1544 172h12v4h-12zM1392 176h24v4h-24zM1540 176h12v4h-12zM1384 180h24v4h-24zM1536 180h12v4h-12zM1372 184h24v4h-24zM1536 184h8v4h-8zM1364 188h24v4h-24zM1532 188h8v4h-8zM1356 192h24v4h-24zM1528 192h8v4h-8zM1352 196h20v4h-20zM1524 196h8v4h-8zM1348 200h20v4h-20zM1520 200h8v4h-8zM1348 204h12v4h-12zM1516 204h8v4h-8zM1348 208h12v4h-12zM1516 208h4v4h-4zM1344 212h12v4h-12zM1512 212h4v4h-4zM1344 216h8v4h-8zM1508 216h8v4h-8zM1340 220h12v4h-12zM1504 220h8v4h-8zM1340 224h8v4h-8zM1500 224h8v4h-8zM1336 228h8v4h-8zM1496 228h8v4h-8zM1336 232h8v4h-8zM1492 232h8v4h-8zM1332 236h8v4h-8zM1488 236h8v4h-8zM1332 240h8v4h-8zM1484 240h8v4h-8zM1328 244h8v4h-8zM1480 244h8v4h-8zM1328 248h4v4h-4zM1476 248h8v4h-8zM1324 252h4v4h-4zM1472 252h8v4h-8zM1320 256h8v4h-8zM1468 256h8v4h-8zM1320 260h4v4h-4zM1464 260h4v4h-4zM1316 264h4v4h-4zM1460 264h4v4h-4zM1312 268h8v4h-8zM1452 268h8v4h-8zM1312 272h4v4h-4zM1452 272h4v4h-4zM1308 276h4v4h-4zM1448 276h4v4h-4zM1308 280h4v4h-4zM1444 280h4v4h-4zM1440 284h8v4h-8zM1440 288h8v4h-8zM1440 292h4v4h-4zM1436 296h8v4h-8zM1436 300h8v4h-8zM1436 304h8v4h-8zM1432 308h8v4h-8zM1428 312h12v4h-12zM1424 316h12v4h-12zM1420 320h12v4h-12zM1412 324h16v4h-16zM1408 328h12v4h-12zM1404 332h8v4h-8zM1400 336h8v4h-8zM1400 340h4v4h-4zM1396 344h8v4h-8zM1392 348h8v4h-8zM1392 352h4v4h-4zM1388 356h4v4h-4zM1380 360h8v4h-8zM1372 364h8v4h-8zM1364 368h8v4h-8zM1356 372h8v4h-8zM1352 376h4v4h-4z"/><path fill="#d8e7f5" d="M1552 88h4v4h-4zM1604 88h4v4h-4zM1544 92h8v4h-8zM1540 96h4v4h-4zM1536 100h8v4h-8zM1532 104h8v4h-8zM1528 108h8v4h-8zM1524 112h8v4h-8zM1520 116h8v4h-8zM1512 120h16v4h-16zM1508 124h16v4h-16zM1504 128h16v4h-16zM1496 132h24v4h-24zM1488 136h28v4h-28zM1480 140h28v4h-28zM1472 144h28v4h-28zM1604 144h4v4h-4zM1468 148h28v4h-28zM1600 148h4v4h-4zM1460 152h28v4h-28zM1568 152h20v4h-20zM1592 152h8v4h-8zM1452 156h28v4h-28zM1556 156h16v4h-16zM1448 160h24v4h-24zM1548 160h12v4h-12zM1440 164h24v4h-24zM1544 164h12v4h-12zM1432 168h24v4h-24zM1540 168h8v4h-8zM1428 172h20v4h-20zM1536 172h8v4h-8zM1416 176h24v4h-24zM1532 176h8v4h-8zM1408 180h28v4h-28zM1528 180h8v4h-8zM1396 184h32v4h-32zM1524 184h12v4h-12zM1388 188h28v4h-28zM1524 188h8v4h-8zM1380 192h24v4h-24zM1520 192h8v4h-8zM1372 196h20v4h-20zM1516 196h8v4h-8zM1368 200h16v4h-16zM1512 200h8v4h-8zM1360 204h16v4h-16zM1512 204h4v4h-4zM1360 208h12v4h-12zM1508 208h8v4h-8zM1356 212h12v4h-12zM1504 212h8v4h-8zM1352 216h12v4h-12zM1500 216h8v4h-8zM1352 220h8v4h-8zM1496 220h8v4h-8zM1348 224h8v4h-8zM1496 224h4v4h-4zM1344 228h12v4h-12zM1492 228h4v4h-4zM1344 232h8v4h-8zM1488 232h4v4h-4zM1340 236h8v4h-8zM1484 236h4v4h-4zM1340 240h4v4h-4zM1480 240h4v4h-4zM1336 244h8v4h-8zM1476 244h4v4h-4zM1332 248h8v4h-8zM1472 248h4v4h-4zM1328 252h8v4h-8zM1468 252h4v4h-4zM1328 256h4v4h-4zM1460 256h8v4h-8zM1324 260h4v4h-4zM1456 260h8v4h-8zM1320 264h8v4h-8zM1452 264h8v4h-8zM1320 268h4v4h-4zM1448 268h4v4h-4zM1316 272h4v4h-4zM1444 272h8v4h-8zM1312 276h8v4h-8zM1444 276h4v4h-4zM1312 280h4v4h-4zM1440 280h4v4h-4zM1308 284h4v4h-4zM1436 284h4v4h-4zM1308 288h4v4h-4zM1436 288h4v4h-4zM1432 292h8v4h-8zM1428 296h8v4h-8zM1428 300h8v4h-8zM1424 304h12v4h-12zM1420 308h12v4h-12zM1416 312h12v4h-12zM1412 316h12v4h-12zM1404 320h16v4h-16zM1404 324h8v4h-8zM1400 328h8v4h-8zM1396 332h8v4h-8zM1396 336h4v4h-4zM1392 340h8v4h-8zM1392 344h4v4h-4zM1388 348h4v4h-4zM1384 352h8v4h-8zM1380 356h8v4h-8zM1372 360h8v4h-8zM1364 364h8v4h-8zM1360 368h4v4h-4z"/><path fill="#d0e2f2" d="M1556 88h4v4h-4zM1600 88h4v4h-4zM1552 92h4v4h-4zM1604 92h4v4h-4zM1544 96h4v4h-4zM1544 100h4v4h-4zM1540 104h4v4h-4zM1536 108h4v4h-4zM1532 112h4v4h-4zM1528 116h8v4h-8zM1528 120h8v4h-8zM1524 124h8v4h-8zM1520 128h12v4h-12zM1520 132h12v4h-12zM1516 136h16v4h-16zM1604 136h4v4h-4zM1508 140h20v4h-20zM1604 140h4v4h-4zM1500 144h28v4h-28zM1600 144h4v4h-4zM1496 148h32v4h-32zM1596 148h4v4h-4zM1488 152h28v4h-28zM1536 152h32v4h-32zM1588 152h4v4h-4zM1480 156h24v4h-24zM1532 156h24v4h-24zM1472 160h20v4h-20zM1528 160h20v4h-20zM1464 164h20v4h-20zM1528 164h16v4h-16zM1456 168h20v4h-20zM1524 168h16v4h-16zM1448 172h20v4h-20zM1524 172h12v4h-12zM1440 176h20v4h-20zM1520 176h12v4h-12zM1436 180h16v4h-16zM1520 180h8v4h-8zM1428 184h16v4h-16zM1516 184h8v4h-8zM1416 188h20v4h-20zM1516 188h8v4h-8zM1404 192h28v4h-28zM1512 192h8v4h-8zM1392 196h32v4h-32zM1508 196h8v4h-8zM1384 200h32v4h-32zM1508 200h4v4h-4zM1376 204h28v4h-28zM1504 204h8v4h-8zM1372 208h20v4h-20zM1500 208h8v4h-8zM1368 212h16v4h-16zM1496 212h8v4h-8zM1364 216h12v4h-12zM1496 216h4v4h-4zM1360 220h12v4h-12zM1492 220h4v4h-4zM1356 224h12v4h-12zM1488 224h8v4h-8zM1356 228h8v4h-8zM1484 228h8v4h-8zM1352 232h8v4h-8zM1480 232h8v4h-8zM1348 236h8v4h-8zM1476 236h8v4h-8zM1344 240h8v4h-8zM1472 240h8v4h-8zM1344 244h8v4h-8zM1468 244h8v4h-8zM1340 248h8v4h-8zM1464 248h8v4h-8zM1336 252h8v4h-8zM1460 252h8v4h-8zM1332 256h8v4h-8zM1456 256h4v4h-4zM1328 260h8v4h-8zM1452 260h4v4h-4zM1328 264h4v4h-4zM1448 264h4v4h-4zM1324 268h4v4h-4zM1444 268h4v4h-4zM1320 272h8v4h-8zM1440 272h4v4h-4zM1320 276h4v4h-4zM1436 276h8v4h-8zM1316 280h4v4h-4zM1436 280h4v4h-4zM1312 284h4v4h-4zM1432 284h4v4h-4zM1312 288h4v4h-4zM1428 288h8v4h-8zM1308 292h4v4h-4zM1428 292h4v4h-4zM1424 296h4v4h-4zM1420 300h8v4h-8zM1416 304h8v4h-8zM1412 308h8v4h-8zM1408 312h8v4h-8zM1404 316h8v4h-8zM1400 320h4v4h-4zM1396 324h8v4h-8zM1396 328h4v4h-4zM1392 332h4v4h-4zM1392 336h4v4h-4zM1388 340h4v4h-4zM1384 344h8v4h-8zM1384 348h4v4h-4zM1376 352h8v4h-8zM1372 356h8v4h-8zM1368 360h4v4h-4zM1360 364h4v4h-4zM1356 368h4v4h-4zM1352 372h4v4h-4zM1348 376h4v4h-4z"/><path fill="#c9ddf0" d="M1560 88h4v4h-4zM1596 88h4v4h-4zM1556 92h4v4h-4zM1600 92h4v4h-4zM1548 96h4v4h-4zM1604 96h4v4h-4zM1544 104h4v4h-4zM1540 108h4v4h-4zM1536 112h4v4h-4zM1536 116h4v4h-4zM1536 120h4v4h-4zM1532 124h4v4h-4zM1532 128h4v4h-4zM1532 132h8v4h-8zM1604 132h4v4h-4zM1532 136h8v4h-8zM1528 140h16v4h-16zM1600 140h4v4h-4zM1528 144h24v4h-24zM1596 144h4v4h-4zM1528 148h68v4h-68zM1516 152h20v4h-20zM1504 156h28v4h-28zM1492 160h36v4h-36zM1484 164h44v4h-44zM1476 168h48v4h-48zM1468 172h24v4h-24zM1504 172h20v4h-20zM1460 176h16v4h-16zM1508 176h12v4h-12zM1452 180h16v4h-16zM1508 180h12v4h-12zM1444 184h16v4h-16zM1508 184h8v4h-8zM1436 188h16v4h-16zM1504 188h12v4h-12zM1432 192h12v4h-12zM1504 192h8v4h-8zM1424 196h12v4h-12zM1500 196h8v4h-8zM1416 200h16v4h-16zM1500 200h8v4h-8zM1404 204h20v4h-20zM1496 204h8v4h-8zM1392 208h24v4h-24zM1492 208h8v4h-8zM1384 212h28v4h-28zM1492 212h4v4h-4zM1376 216h28v4h-28zM1488 216h8v4h-8zM1372 220h24v4h-24zM1484 220h8v4h-8zM1368 224h16v4h-16zM1480 224h8v4h-8zM1364 228h16v4h-16zM1480 228h4v4h-4zM1360 232h12v4h-12zM1476 232h4v4h-4zM1356 236h12v4h-12zM1472 236h4v4h-4zM1352 240h12v4h-12zM1468 240h4v4h-4zM1352 244h8v4h-8zM1464 244h4v4h-4zM1348 248h8v4h-8zM1460 248h4v4h-4zM1344 252h8v4h-8zM1456 252h4v4h-4zM1340 256h8v4h-8zM1452 256h4v4h-4zM1336 260h8v4h-8zM1448 260h4v4h-4zM1332 264h8v4h-8zM1444 264h4v4h-4zM1328 268h8v4h-8zM1440 268h4v4h-4zM1328 272h4v4h-4zM1436 272h4v4h-4zM1324 276h4v4h-4zM1432 276h4v4h-4zM1320 280h4v4h-4zM1432 280h4v4h-4zM1316 284h4v4h-4zM1428 284h4v4h-4zM1316 288h4v4h-4zM1424 288h4v4h-4zM1312 292h4v4h-4zM1420 292h8v4h-8zM1308 296h4v4h-4zM1420 296h4v4h-4zM1308 300h4v4h-4zM1416 300h4v4h-4zM1412 304h4v4h-4zM1408 308h4v4h-4zM1404 312h4v4h-4zM1400 316h4v4h-4zM1396 320h4v4h-4zM1392 328h4v4h-4zM1388 332h4v4h-4zM1388 336h4v4h-4zM1384 340h4v4h-4zM1380 344h4v4h-4zM1376 348h8v4h-8zM1372 352h4v4h-4zM1368 356h4v4h-4zM1364 360h4v4h-4zM1344 376h4v4h-4z"/><path fill="#bdd7ec" d="M1564 88h8v4h-8zM1588 88h8v4h-8zM1560 92h4v4h-4zM1596 92h4v4h-4zM1552 96h4v4h-4zM1600 96h4v4h-4zM1548 100h4v4h-4zM1604 100h4v4h-4zM1604 104h4v4h-4zM1544 108h4v4h-4zM1540 112h4v4h-4zM1540 116h4v4h-4zM1540 120h4v4h-4zM1536 124h4v4h-4zM1604 124h4v4h-4zM1536 128h8v4h-8zM1604 128h4v4h-4zM1540 132h4v4h-4zM1540 136h8v4h-8zM1600 136h4v4h-4zM1544 140h8v4h-8zM1596 140h4v4h-4zM1552 144h44v4h-44zM1492 172h12v4h-12zM1476 176h32v4h-32zM1468 180h40v4h-40zM1460 184h48v4h-48zM1452 188h16v4h-16zM1492 188h12v4h-12zM1444 192h16v4h-16zM1492 192h12v4h-12zM1436 196h12v4h-12zM1492 196h8v4h-8zM1432 200h12v4h-12zM1488 200h12v4h-12zM1424 204h12v4h-12zM1488 204h8v4h-8zM1416 208h12v4h-12zM1484 208h8v4h-8zM1412 212h12v4h-12zM1484 212h8v4h-8zM1404 216h12v4h-12zM1480 216h8v4h-8zM1396 220h16v4h-16zM1480 220h4v4h-4zM1384 224h20v4h-20zM1476 224h4v4h-4zM1380 228h20v4h-20zM1472 228h8v4h-8zM1372 232h20v4h-20zM1468 232h8v4h-8zM1368 236h20v4h-20zM1464 236h8v4h-8zM1364 240h16v4h-16zM1460 240h8v4h-8zM1360 244h16v4h-16zM1456 244h8v4h-8zM1356 248h12v4h-12zM1452 248h8v4h-8zM1352 252h12v4h-12zM1448 252h8v4h-8zM1348 256h12v4h-12zM1444 256h8v4h-8zM1344 260h8v4h-8zM1440 260h8v4h-8zM1340 264h8v4h-8zM1440 264h4v4h-4zM1336 268h8v4h-8zM1436 268h4v4h-4zM1332 272h8v4h-8zM1432 272h4v4h-4zM1328 276h8v4h-8zM1428 276h4v4h-4zM1324 280h8v4h-8zM1428 280h4v4h-4zM1320 284h8v4h-8zM1424 284h4v4h-4zM1320 288h4v4h-4zM1420 288h4v4h-4zM1316 292h4v4h-4zM1416 292h4v4h-4zM1312 296h4v4h-4zM1416 296h4v4h-4zM1312 300h4v4h-4zM1412 300h4v4h-4zM1308 304h4v4h-4zM1408 304h4v4h-4zM1404 308h4v4h-4zM1400 312h4v4h-4zM1396 316h4v4h-4zM1392 324h4v4h-4zM1388 328h4v4h-4zM1384 332h4v4h-4zM1384 336h4v4h-4zM1380 340h4v4h-4zM1376 344h4v4h-4zM1372 348h4v4h-4zM1368 352h4v4h-4zM1364 356h4v4h-4zM1360 360h4v4h-4zM1356 364h4v4h-4zM1352 368h4v4h-4zM1348 372h4v4h-4z"/><path fill="#b1d2e8" d="M1572 88h16v4h-16zM1564 92h4v4h-4zM1592 92h4v4h-4zM1556 96h4v4h-4zM1552 100h4v4h-4zM1600 100h4v4h-4zM1548 104h4v4h-4zM1604 108h4v4h-4zM1544 112h4v4h-4zM1604 112h4v4h-4zM1544 116h4v4h-4zM1604 116h4v4h-4zM1604 120h4v4h-4zM1540 124h4v4h-4zM1544 128h4v4h-4zM1544 132h4v4h-4zM1600 132h4v4h-4zM1548 136h4v4h-4zM1596 136h4v4h-4zM1552 140h16v4h-16zM1592 140h4v4h-4zM1468 188h24v4h-24zM1460 192h32v4h-32zM1448 196h44v4h-44zM1444 200h16v4h-16zM1476 200h12v4h-12zM1436 204h12v4h-12zM1476 204h12v4h-12zM1428 208h12v4h-12zM1476 208h8v4h-8zM1424 212h8v4h-8zM1476 212h8v4h-8zM1416 216h12v4h-12zM1472 216h8v4h-8zM1412 220h8v4h-8zM1472 220h8v4h-8zM1404 224h12v4h-12zM1468 224h8v4h-8zM1400 228h12v4h-12zM1464 228h8v4h-8zM1392 232h12v4h-12zM1460 232h8v4h-8zM1388 236h12v4h-12zM1460 236h4v4h-4zM1380 240h12v4h-12zM1456 240h4v4h-4zM1376 244h12v4h-12zM1452 244h4v4h-4zM1368 248h12v4h-12zM1448 248h4v4h-4zM1364 252h12v4h-12zM1444 252h4v4h-4zM1360 256h12v4h-12zM1440 256h4v4h-4zM1352 260h12v4h-12zM1436 260h4v4h-4zM1348 264h12v4h-12zM1436 264h4v4h-4zM1344 268h8v4h-8zM1432 268h4v4h-4zM1340 272h8v4h-8zM1428 272h4v4h-4zM1336 276h4v4h-4zM1332 280h4v4h-4zM1424 280h4v4h-4zM1328 284h4v4h-4zM1420 284h4v4h-4zM1324 288h4v4h-4zM1416 288h4v4h-4zM1320 292h4v4h-4zM1412 292h4v4h-4zM1316 296h4v4h-4zM1412 296h4v4h-4zM1316 300h4v4h-4zM1408 300h4v4h-4zM1312 304h4v4h-4zM1404 304h4v4h-4zM1308 308h4v4h-4zM1400 308h4v4h-4zM1396 312h4v4h-4zM1392 320h4v4h-4zM1388 324h4v4h-4zM1380 336h4v4h-4zM1376 340h4v4h-4zM1340 376h4v4h-4z"/><path fill="#a4cce3" d="M1568 92h4v4h-4zM1588 92h4v4h-4zM1560 96h4v4h-4zM1596 96h4v4h-4zM1556 100h4v4h-4zM1552 104h4v4h-4zM1600 104h4v4h-4zM1548 108h4v4h-4zM1548 112h4v4h-4zM1544 120h4v4h-4zM1544 124h4v4h-4zM1600 124h4v4h-4zM1548 128h4v4h-4zM1600 128h4v4h-4zM1548 132h4v4h-4zM1596 132h4v4h-4zM1552 136h8v4h-8zM1592 136h4v4h-4zM1568 140h24v4h-24zM1460 200h16v4h-16zM1448 204h28v4h-28zM1440 208h36v4h-36zM1432 212h20v4h-20zM1456 212h20v4h-20zM1428 216h12v4h-12zM1460 216h12v4h-12zM1420 220h12v4h-12zM1460 220h12v4h-12zM1416 224h8v4h-8zM1460 224h8v4h-8zM1412 228h8v4h-8zM1456 228h8v4h-8zM1404 232h8v4h-8zM1452 232h8v4h-8zM1400 236h8v4h-8zM1452 236h8v4h-8zM1392 240h8v4h-8zM1448 240h8v4h-8zM1388 244h8v4h-8zM1444 244h8v4h-8zM1380 248h8v4h-8zM1440 248h8v4h-8zM1376 252h8v4h-8zM1436 252h8v4h-8zM1372 256h8v4h-8zM1436 256h4v4h-4zM1364 260h12v4h-12zM1432 260h4v4h-4zM1360 264h8v4h-8zM1432 264h4v4h-4zM1352 268h12v4h-12zM1428 268h4v4h-4zM1348 272h8v4h-8zM1424 272h4v4h-4zM1340 276h12v4h-12zM1424 276h4v4h-4zM1336 280h8v4h-8zM1420 280h4v4h-4zM1332 284h8v4h-8zM1416 284h4v4h-4zM1328 288h4v4h-4zM1412 288h4v4h-4zM1324 292h4v4h-4zM1320 296h4v4h-4zM1408 296h4v4h-4zM1320 300h4v4h-4zM1404 300h4v4h-4zM1316 304h4v4h-4zM1400 304h4v4h-4zM1312 308h4v4h-4zM1396 308h4v4h-4zM1308 312h4v4h-4zM1308 316h4v4h-4zM1392 316h4v4h-4zM1388 320h4v4h-4zM1384 328h4v4h-4zM1380 332h4v4h-4zM1376 336h4v4h-4zM1372 344h4v4h-4zM1368 348h4v4h-4zM1364 352h4v4h-4zM1360 356h4v4h-4zM1356 360h4v4h-4zM1352 364h4v4h-4zM1348 368h4v4h-4zM1344 372h4v4h-4z"/><path fill="#95c5df" d="M1572 92h16v4h-16zM1564 96h4v4h-4zM1592 96h4v4h-4zM1560 100h4v4h-4zM1596 100h4v4h-4zM1556 104h4v4h-4zM1552 108h4v4h-4zM1600 108h4v4h-4zM1600 112h4v4h-4zM1548 116h4v4h-4zM1600 116h4v4h-4zM1548 120h4v4h-4zM1600 120h4v4h-4zM1548 124h4v4h-4zM1552 128h4v4h-4zM1596 128h4v4h-4zM1552 132h8v4h-8zM1560 136h32v4h-32zM1452 212h4v4h-4zM1440 216h20v4h-20zM1432 220h28v4h-28zM1424 224h36v4h-36zM1420 228h36v4h-36zM1412 232h16v4h-16zM1440 232h12v4h-12zM1408 236h12v4h-12zM1440 236h12v4h-12zM1400 240h12v4h-12zM1436 240h12v4h-12zM1396 244h8v4h-8zM1436 244h8v4h-8zM1388 248h8v4h-8zM1432 248h8v4h-8zM1384 252h8v4h-8zM1432 252h4v4h-4zM1380 256h4v4h-4zM1428 256h8v4h-8zM1376 260h4v4h-4zM1428 260h4v4h-4zM1368 264h8v4h-8zM1424 264h8v4h-8zM1364 268h4v4h-4zM1424 268h4v4h-4zM1356 272h8v4h-8zM1420 272h4v4h-4zM1352 276h8v4h-8zM1420 276h4v4h-4zM1344 280h8v4h-8zM1416 280h4v4h-4zM1340 284h8v4h-8zM1412 284h4v4h-4zM1332 288h8v4h-8zM1328 292h8v4h-8zM1408 292h4v4h-4zM1324 296h8v4h-8zM1404 296h4v4h-4zM1324 300h4v4h-4zM1400 300h4v4h-4zM1320 304h4v4h-4zM1316 308h4v4h-4zM1312 312h4v4h-4zM1392 312h4v4h-4zM1312 316h4v4h-4zM1388 316h4v4h-4zM1308 320h4v4h-4zM1384 324h4v4h-4zM1380 328h4v4h-4zM1372 340h4v4h-4zM1368 344h4v4h-4zM1308 376h4v4h-4zM1336 376h4v4h-4z"/><path fill="#84bcdc" d="M1568 96h8v4h-8zM1584 96h8v4h-8zM1592 100h4v4h-4zM1596 104h4v4h-4zM1556 108h4v4h-4zM1596 108h4v4h-4zM1552 112h4v4h-4zM1552 116h4v4h-4zM1552 120h4v4h-4zM1552 124h4v4h-4zM1596 124h4v4h-4zM1556 128h4v4h-4zM1560 132h8v4h-8zM1588 132h8v4h-8zM1428 232h12v4h-12zM1420 236h20v4h-20zM1412 240h24v4h-24zM1404 244h32v4h-32zM1396 248h12v4h-12zM1424 248h8v4h-8zM1392 252h8v4h-8zM1424 252h8v4h-8zM1384 256h8v4h-8zM1424 256h4v4h-4zM1380 260h8v4h-8zM1424 260h4v4h-4zM1376 264h4v4h-4zM1420 264h4v4h-4zM1368 268h8v4h-8zM1420 268h4v4h-4zM1364 272h4v4h-4zM1416 272h4v4h-4zM1360 276h4v4h-4zM1416 276h4v4h-4zM1352 280h8v4h-8zM1412 280h4v4h-4zM1348 284h8v4h-8zM1408 284h4v4h-4zM1340 288h8v4h-8zM1408 288h4v4h-4zM1336 292h8v4h-8zM1404 292h4v4h-4zM1332 296h4v4h-4zM1400 296h4v4h-4zM1328 300h4v4h-4zM1324 304h4v4h-4zM1396 304h4v4h-4zM1320 308h4v4h-4zM1392 308h4v4h-4zM1316 312h4v4h-4zM1312 320h4v4h-4zM1384 320h4v4h-4zM1308 324h4v4h-4zM1308 328h4v4h-4zM1376 332h4v4h-4zM1372 336h4v4h-4zM1364 348h4v4h-4zM1360 352h4v4h-4zM1356 356h4v4h-4zM1352 360h4v4h-4zM1348 364h4v4h-4zM1344 368h4v4h-4zM1340 372h4v4h-4zM1312 376h4v4h-4zM1332 376h4v4h-4z"/><path fill="#74b3d8" d="M1576 96h8v4h-8zM1564 100h8v4h-8zM1588 100h4v4h-4zM1560 104h4v4h-4zM1592 104h4v4h-4zM1556 112h4v4h-4zM1596 112h4v4h-4zM1556 116h4v4h-4zM1596 116h4v4h-4zM1556 120h4v4h-4zM1596 120h4v4h-4zM1556 124h4v4h-4zM1592 124h4v4h-4zM1560 128h4v4h-4zM1588 128h8v4h-8zM1568 132h20v4h-20zM1408 248h16v4h-16zM1400 252h24v4h-24zM1392 256h8v4h-8zM1416 256h8v4h-8zM1388 260h4v4h-4zM1416 260h8v4h-8zM1380 264h8v4h-8zM1416 264h4v4h-4zM1376 268h4v4h-4zM1416 268h4v4h-4zM1368 272h8v4h-8zM1412 272h4v4h-4zM1364 276h4v4h-4zM1412 276h4v4h-4zM1360 280h4v4h-4zM1408 280h4v4h-4zM1356 284h4v4h-4zM1348 288h8v4h-8zM1404 288h4v4h-4zM1344 292h4v4h-4zM1400 292h4v4h-4zM1336 296h8v4h-8zM1332 300h8v4h-8zM1396 300h4v4h-4zM1328 304h4v4h-4zM1392 304h4v4h-4zM1324 308h4v4h-4zM1320 312h4v4h-4zM1388 312h4v4h-4zM1316 316h4v4h-4zM1384 316h4v4h-4zM1316 320h4v4h-4zM1312 324h4v4h-4zM1380 324h4v4h-4zM1376 328h4v4h-4zM1308 332h4v4h-4zM1308 336h4v4h-4zM1368 340h4v4h-4zM1364 344h4v4h-4zM1308 372h4v4h-4zM1316 376h4v4h-4zM1328 376h4v4h-4z"/><path fill="#65aad4" d="M1572 100h16v4h-16zM1564 104h4v4h-4zM1588 104h4v4h-4zM1560 108h4v4h-4zM1592 108h4v4h-4zM1560 112h4v4h-4zM1592 112h4v4h-4zM1592 116h4v4h-4zM1560 120h4v4h-4zM1592 120h4v4h-4zM1560 124h4v4h-4zM1588 124h4v4h-4zM1564 128h24v4h-24zM1400 256h16v4h-16zM1392 260h24v4h-24zM1388 264h8v4h-8zM1408 264h8v4h-8zM1380 268h8v4h-8zM1408 268h8v4h-8zM1376 272h4v4h-4zM1408 272h4v4h-4zM1368 276h8v4h-8zM1404 276h8v4h-8zM1364 280h4v4h-4zM1404 280h4v4h-4zM1360 284h4v4h-4zM1404 284h4v4h-4zM1356 288h4v4h-4zM1400 288h4v4h-4zM1348 292h4v4h-4zM1344 296h4v4h-4zM1396 296h4v4h-4zM1340 300h4v4h-4zM1392 300h4v4h-4zM1332 304h8v4h-8zM1328 308h4v4h-4zM1388 308h4v4h-4zM1324 312h4v4h-4zM1384 312h4v4h-4zM1320 316h4v4h-4zM1380 320h4v4h-4zM1316 324h4v4h-4zM1312 328h4v4h-4zM1312 332h4v4h-4zM1372 332h4v4h-4zM1368 336h4v4h-4zM1308 340h4v4h-4zM1360 348h4v4h-4zM1356 352h4v4h-4zM1352 356h4v4h-4zM1348 360h4v4h-4zM1344 364h4v4h-4zM1336 372h4v4h-4zM1320 376h8v4h-8z"/><path fill="#58a1cf" d="M1568 104h20v4h-20zM1564 108h4v4h-4zM1588 108h4v4h-4zM1564 112h4v4h-4zM1588 112h4v4h-4zM1560 116h4v4h-4zM1588 116h4v4h-4zM1564 120h4v4h-4zM1588 120h4v4h-4zM1564 124h8v4h-8zM1580 124h8v4h-8zM1396 264h12v4h-12zM1388 268h20v4h-20zM1380 272h12v4h-12zM1396 272h12v4h-12zM1376 276h4v4h-4zM1400 276h4v4h-4zM1368 280h8v4h-8zM1400 280h4v4h-4zM1364 284h4v4h-4zM1400 284h4v4h-4zM1360 288h4v4h-4zM1396 288h4v4h-4zM1352 292h8v4h-8zM1396 292h4v4h-4zM1348 296h4v4h-4zM1392 296h4v4h-4zM1344 300h4v4h-4zM1388 300h4v4h-4zM1340 304h4v4h-4zM1388 304h4v4h-4zM1332 308h4v4h-4zM1384 308h4v4h-4zM1328 312h4v4h-4zM1324 316h4v4h-4zM1380 316h4v4h-4zM1320 320h4v4h-4zM1376 324h4v4h-4zM1316 328h4v4h-4zM1372 328h4v4h-4zM1312 336h4v4h-4zM1364 340h4v4h-4zM1308 344h4v4h-4zM1360 344h4v4h-4zM1308 368h4v4h-4zM1340 368h4v4h-4zM1312 372h4v4h-4z"/><path fill="#4b98c9" d="M1568 108h20v4h-20zM1568 112h4v4h-4zM1584 112h4v4h-4zM1564 116h8v4h-8zM1584 116h4v4h-4zM1568 120h20v4h-20zM1572 124h8v4h-8zM1392 272h4v4h-4zM1380 276h20v4h-20zM1376 280h8v4h-8zM1392 280h8v4h-8zM1368 284h8v4h-8zM1392 284h8v4h-8zM1364 288h4v4h-4zM1392 288h4v4h-4zM1360 292h4v4h-4zM1392 292h4v4h-4zM1352 296h4v4h-4zM1388 296h4v4h-4zM1348 300h4v4h-4zM1344 304h4v4h-4zM1384 304h4v4h-4zM1336 308h4v4h-4zM1332 312h4v4h-4zM1380 312h4v4h-4zM1328 316h4v4h-4zM1324 320h4v4h-4zM1376 320h4v4h-4zM1320 324h4v4h-4zM1316 332h4v4h-4zM1368 332h4v4h-4zM1364 336h4v4h-4zM1356 348h4v4h-4zM1352 352h4v4h-4zM1348 356h4v4h-4zM1316 372h4v4h-4zM1332 372h4v4h-4z"/><path fill="#3e8ec4" d="M1572 112h12v4h-12zM1572 116h12v4h-12zM1384 280h8v4h-8zM1376 284h16v4h-16zM1368 288h12v4h-12zM1384 288h8v4h-8zM1364 292h4v4h-4zM1384 292h8v4h-8zM1356 296h4v4h-4zM1384 296h4v4h-4zM1352 300h4v4h-4zM1384 300h4v4h-4zM1380 304h4v4h-4zM1340 308h4v4h-4zM1380 308h4v4h-4zM1336 312h4v4h-4zM1332 316h4v4h-4zM1376 316h4v4h-4zM1372 324h4v4h-4zM1320 328h4v4h-4zM1368 328h4v4h-4zM1316 336h4v4h-4zM1312 340h4v4h-4zM1360 340h4v4h-4zM1356 344h4v4h-4zM1308 348h4v4h-4zM1308 352h4v4h-4zM1344 360h4v4h-4zM1308 364h4v4h-4zM1340 364h4v4h-4zM1312 368h4v4h-4zM1336 368h4v4h-4zM1320 372h12v4h-12z"/><path fill="#3484bf" d="M1380 288h4v4h-4zM1368 292h16v4h-16zM1360 296h8v4h-8zM1376 296h8v4h-8zM1356 300h4v4h-4zM1380 300h4v4h-4zM1348 304h4v4h-4zM1344 308h4v4h-4zM1376 308h4v4h-4zM1340 312h4v4h-4zM1376 312h4v4h-4zM1328 320h4v4h-4zM1372 320h4v4h-4zM1324 324h4v4h-4zM1368 324h4v4h-4zM1320 332h4v4h-4zM1364 332h4v4h-4zM1312 344h4v4h-4zM1352 348h4v4h-4zM1348 352h4v4h-4zM1308 356h4v4h-4zM1344 356h4v4h-4zM1308 360h4v4h-4z"/><path fill="#2979b9" d="M1368 296h8v4h-8zM1360 300h20v4h-20zM1352 304h4v4h-4zM1376 304h4v4h-4zM1348 308h4v4h-4zM1344 312h4v4h-4zM1372 312h4v4h-4zM1336 316h4v4h-4zM1372 316h4v4h-4zM1332 320h4v4h-4zM1368 320h4v4h-4zM1328 324h4v4h-4zM1324 328h4v4h-4zM1364 328h4v4h-4zM1320 336h4v4h-4zM1360 336h4v4h-4zM1316 340h4v4h-4zM1356 340h4v4h-4zM1352 344h4v4h-4zM1312 348h4v4h-4zM1340 360h4v4h-4zM1312 364h4v4h-4zM1336 364h4v4h-4zM1316 368h4v4h-4zM1332 368h4v4h-4z"/><path fill="#226fb4" d="M1356 304h20v4h-20zM1352 308h4v4h-4zM1372 308h4v4h-4zM1348 312h4v4h-4zM1340 316h4v4h-4zM1368 316h4v4h-4zM1336 320h4v4h-4zM1364 324h4v4h-4zM1324 332h4v4h-4zM1360 332h4v4h-4zM1316 344h4v4h-4zM1348 348h4v4h-4zM1312 352h4v4h-4zM1344 352h4v4h-4zM1312 360h4v4h-4zM1320 368h12v4h-12z"/><path fill="#2568af" d="M1356 308h16v4h-16zM1352 312h4v4h-4zM1364 312h8v4h-8zM1344 316h4v4h-4zM1364 316h4v4h-4zM1340 320h4v4h-4zM1364 320h4v4h-4zM1332 324h4v4h-4zM1360 324h4v4h-4zM1328 328h4v4h-4zM1360 328h4v4h-4zM1324 336h4v4h-4zM1356 336h4v4h-4zM1320 340h4v4h-4zM1352 340h4v4h-4zM1348 344h4v4h-4zM1312 356h4v4h-4zM1340 356h4v4h-4zM1316 364h4v4h-4zM1332 364h4v4h-4z"/><path fill="#2761aa" d="M1356 312h8v4h-8zM1348 316h16v4h-16zM1344 320h4v4h-4zM1356 320h8v4h-8zM1336 324h4v4h-4zM1356 324h4v4h-4zM1332 328h4v4h-4zM1356 328h4v4h-4zM1328 332h4v4h-4zM1356 332h4v4h-4zM1352 336h4v4h-4zM1324 340h4v4h-4zM1320 344h4v4h-4zM1316 348h4v4h-4zM1344 348h4v4h-4zM1340 352h4v4h-4zM1336 360h4v4h-4zM1320 364h4v4h-4z"/><path fill="#2b59a5" d="M1348 320h8v4h-8zM1340 324h16v4h-16zM1336 328h4v4h-4zM1352 328h4v4h-4zM1332 332h4v4h-4zM1352 332h4v4h-4zM1328 336h4v4h-4zM1348 340h4v4h-4zM1344 344h4v4h-4zM1340 348h4v4h-4zM1316 352h4v4h-4zM1316 356h4v4h-4zM1336 356h4v4h-4zM1316 360h4v4h-4zM1332 360h4v4h-4zM1324 364h8v4h-8z"/><path fill="#2f4f98" d="M1340 328h12v4h-12zM1336 332h4v4h-4zM1348 332h4v4h-4zM1332 336h4v4h-4zM1344 336h8v4h-8zM1328 340h8v4h-8zM1340 340h8v4h-8zM1324 344h4v4h-4zM1340 344h4v4h-4zM1320 348h4v4h-4zM1336 352h4v4h-4zM1320 360h4v4h-4z"/><path fill="#34458b" d="M1340 332h8v4h-8zM1336 336h8v4h-8zM1336 340h4v4h-4zM1328 344h12v4h-12zM1324 348h4v4h-4zM1332 348h8v4h-8zM1320 352h4v4h-4zM1332 352h4v4h-4zM1320 356h4v4h-4zM1332 356h4v4h-4zM1324 360h8v4h-8z"/><path fill="#383b7e" d="M1328 348h4v4h-4zM1324 352h8v4h-8zM1324 356h8v4h-8z"/></g></g>
<rect x="1310.8" y="90.3" width="293.6" height="285.2" fill="none" stroke="#333" stroke-width="1.8"/>
<line x1="1321.5" y1="365.4" x2="1599.9" y2="99.9" stroke="#111" stroke-width="1.6"/>
<line x1="1321.5" y1="375.5" x2="1321.5" y2="385.5" stroke="#333" stroke-width="1.8"/>
<line x1="1300.8" y1="365.4" x2="1310.8" y2="365.4" stroke="#333" stroke-width="1.8"/>
<text x="1321.5" y="419.3" font-size="24.8" text-anchor="middle">0</text>
<text x="1287.3" y="374.2" font-size="24.8" text-anchor="end">0</text>
<line x1="1377.2" y1="375.5" x2="1377.2" y2="385.5" stroke="#333" stroke-width="1.8"/>
<line x1="1300.8" y1="312.3" x2="1310.8" y2="312.3" stroke="#333" stroke-width="1.8"/>
<text x="1377.2" y="419.3" font-size="24.8" text-anchor="middle">20</text>
<text x="1287.3" y="321.1" font-size="24.8" text-anchor="end">20</text>
<line x1="1432.9" y1="375.5" x2="1432.9" y2="385.5" stroke="#333" stroke-width="1.8"/>
<line x1="1300.8" y1="259.2" x2="1310.8" y2="259.2" stroke="#333" stroke-width="1.8"/>
<text x="1432.9" y="419.3" font-size="24.8" text-anchor="middle">40</text>
<text x="1287.3" y="268" font-size="24.8" text-anchor="end">40</text>
<line x1="1488.5" y1="375.5" x2="1488.5" y2="385.5" stroke="#333" stroke-width="1.8"/>
<line x1="1300.8" y1="206.1" x2="1310.8" y2="206.1" stroke="#333" stroke-width="1.8"/>
<text x="1488.5" y="419.3" font-size="24.8" text-anchor="middle">60</text>
<text x="1287.3" y="214.9" font-size="24.8" text-anchor="end">60</text>
<line x1="1544.2" y1="375.5" x2="1544.2" y2="385.5" stroke="#333" stroke-width="1.8"/>
<line x1="1300.8" y1="153" x2="1310.8" y2="153" stroke="#333" stroke-width="1.8"/>
<text x="1544.2" y="419.3" font-size="24.8" text-anchor="middle">80</text>
<text x="1287.3" y="161.8" font-size="24.8" text-anchor="end">80</text>
<line x1="1599.9" y1="375.5" x2="1599.9" y2="385.5" stroke="#333" stroke-width="1.8"/>
<line x1="1300.8" y1="99.9" x2="1310.8" y2="99.9" stroke="#333" stroke-width="1.8"/>
<text x="1599.9" y="419.3" font-size="24.8" text-anchor="middle">100</text>
<text x="1287.3" y="108.7" font-size="24.8" text-anchor="end">100</text>
<text x="1230.5" y="234" font-size="25.3" text-anchor="middle" transform="rotate(-90 1230.5 234)">Parental clone B8</text>
<text x="1458.8" y="462.3" font-size="25.3" text-anchor="middle">Starting culture</text>
<clipPath id="cu2"><rect x="1736.4" y="90.8" width="295.2" height="285"/></clipPath><g clip-path="url(#cu2)"><g filter="url(#bl)"><path fill="#f7fbff" d="M1950 88h12v4h-12zM1946 92h12v4h-12zM1938 96h12v4h-12zM1934 100h12v4h-12zM1930 104h12v4h-12zM1922 108h12v4h-12zM1918 112h12v4h-12zM1914 116h12v4h-12zM1910 120h12v4h-12zM1906 124h12v4h-12zM1902 128h12v4h-12zM1898 132h12v4h-12zM1894 136h12v4h-12zM1886 140h16v4h-16zM1882 144h12v4h-12zM1874 148h16v4h-16zM1870 152h12v4h-12zM1866 156h12v4h-12zM1862 160h8v4h-8zM1858 164h8v4h-8zM1854 168h8v4h-8zM1850 172h8v4h-8zM1846 176h8v4h-8zM1842 180h12v4h-12zM1842 184h8v4h-8zM1838 188h8v4h-8zM1834 192h8v4h-8zM1830 196h8v4h-8zM1822 200h12v4h-12zM1818 204h12v4h-12zM1814 208h12v4h-12zM1810 212h12v4h-12zM1806 216h12v4h-12zM1806 220h8v4h-8zM1802 224h8v4h-8zM1798 228h8v4h-8zM1798 232h8v4h-8zM1794 236h8v4h-8zM1794 240h8v4h-8zM1790 244h8v4h-8zM1790 248h8v4h-8zM1786 252h8v4h-8zM1786 256h4v4h-4zM1782 260h8v4h-8zM1782 264h4v4h-4zM1778 268h8v4h-8zM1778 272h4v4h-4zM1774 276h8v4h-8zM1774 280h4v4h-4zM1770 284h4v4h-4zM1766 288h4v4h-4zM1762 292h4v4h-4zM1758 296h4v4h-4zM1754 300h4v4h-4zM1750 304h4v4h-4zM1746 308h4v4h-4zM2030 308h4v4h-4zM1742 312h4v4h-4zM2026 312h8v4h-8zM1738 316h4v4h-4zM2026 316h8v4h-8zM2022 320h12v4h-12zM2018 324h12v4h-12zM2014 328h12v4h-12zM2006 332h16v4h-16zM1998 336h20v4h-20zM1990 340h20v4h-20zM1986 344h16v4h-16zM1986 348h12v4h-12zM1986 352h8v4h-8zM1982 356h8v4h-8zM1982 360h8v4h-8zM1982 364h4v4h-4zM1978 368h8v4h-8zM1978 372h4v4h-4zM1974 376h8v4h-8z"/><path fill="#f0f6fd" d="M1962 88h8v4h-8zM1958 92h8v4h-8zM1950 96h12v4h-12zM1946 100h12v4h-12zM1942 104h12v4h-12zM1934 108h16v4h-16zM1930 112h16v4h-16zM1926 116h12v4h-12zM1922 120h12v4h-12zM1918 124h12v4h-12zM1914 128h12v4h-12zM1910 132h12v4h-12zM1906 136h12v4h-12zM1902 140h12v4h-12zM1894 144h16v4h-16zM1890 148h16v4h-16zM1882 152h16v4h-16zM1878 156h16v4h-16zM1870 160h16v4h-16zM1866 164h16v4h-16zM1862 168h12v4h-12zM1858 172h12v4h-12zM1854 176h12v4h-12zM1854 180h8v4h-8zM1850 184h12v4h-12zM1846 188h12v4h-12zM1842 192h12v4h-12zM1838 196h12v4h-12zM1834 200h12v4h-12zM1830 204h12v4h-12zM1826 208h12v4h-12zM1822 212h12v4h-12zM1818 216h12v4h-12zM1814 220h12v4h-12zM1810 224h12v4h-12zM1806 228h12v4h-12zM1806 232h8v4h-8zM1802 236h8v4h-8zM1802 240h8v4h-8zM1798 244h8v4h-8zM1798 248h4v4h-4zM1794 252h8v4h-8zM1790 256h8v4h-8zM1790 260h8v4h-8zM1786 264h8v4h-8zM1786 268h4v4h-4zM1782 272h8v4h-8zM1782 276h4v4h-4zM1778 280h4v4h-4zM1774 284h4v4h-4zM2030 284h4v4h-4zM1770 288h4v4h-4zM2030 288h4v4h-4zM1766 292h4v4h-4zM2026 292h8v4h-8zM1762 296h4v4h-4zM2026 296h8v4h-8zM1758 300h4v4h-4zM2022 300h12v4h-12zM1754 304h4v4h-4zM2022 304h12v4h-12zM1750 308h4v4h-4zM2018 308h12v4h-12zM1746 312h4v4h-4zM2014 312h12v4h-12zM1742 316h4v4h-4zM2006 316h20v4h-20zM1734 320h8v4h-8zM2002 320h20v4h-20zM1990 324h28v4h-28zM1982 328h32v4h-32zM1978 332h28v4h-28zM1978 336h20v4h-20zM1978 340h12v4h-12zM1978 344h8v4h-8zM1978 348h8v4h-8zM1974 352h12v4h-12zM1974 356h8v4h-8zM1974 360h8v4h-8zM1974 364h8v4h-8zM1970 368h8v4h-8zM1970 372h8v4h-8zM1966 376h8v4h-8z"/><path fill="#e8f1fa" d="M1970 88h8v4h-8zM1966 92h4v4h-4zM1962 96h4v4h-4zM1958 100h4v4h-4zM1954 104h4v4h-4zM1950 108h8v4h-8zM1946 112h8v4h-8zM1938 116h12v4h-12zM1934 120h12v4h-12zM1930 124h12v4h-12zM1926 128h12v4h-12zM1922 132h12v4h-12zM1918 136h12v4h-12zM1914 140h12v4h-12zM1910 144h12v4h-12zM1906 148h8v4h-8zM1898 152h12v4h-12zM1894 156h12v4h-12zM1886 160h12v4h-12zM1882 164h12v4h-12zM1874 168h12v4h-12zM1870 172h12v4h-12zM1866 176h12v4h-12zM1862 180h12v4h-12zM1862 184h8v4h-8zM1858 188h8v4h-8zM1854 192h8v4h-8zM1850 196h8v4h-8zM1846 200h8v4h-8zM1842 204h8v4h-8zM1838 208h8v4h-8zM1834 212h8v4h-8zM1830 216h8v4h-8zM1826 220h8v4h-8zM1822 224h8v4h-8zM1818 228h8v4h-8zM1814 232h8v4h-8zM1810 236h8v4h-8zM1810 240h4v4h-4zM1806 244h8v4h-8zM1802 248h8v4h-8zM1802 252h4v4h-4zM1798 256h8v4h-8zM2030 256h4v4h-4zM1798 260h4v4h-4zM2030 260h4v4h-4zM1794 264h4v4h-4zM2030 264h4v4h-4zM1790 268h8v4h-8zM2026 268h8v4h-8zM1790 272h4v4h-4zM2026 272h8v4h-8zM1786 276h4v4h-4zM2026 276h8v4h-8zM1782 280h4v4h-4zM2022 280h12v4h-12zM1778 284h8v4h-8zM2022 284h8v4h-8zM1774 288h4v4h-4zM2018 288h12v4h-12zM1770 292h4v4h-4zM2014 292h12v4h-12zM1766 296h4v4h-4zM2014 296h12v4h-12zM1762 300h4v4h-4zM2010 300h12v4h-12zM1758 304h4v4h-4zM2006 304h16v4h-16zM1754 308h4v4h-4zM1998 308h20v4h-20zM1750 312h4v4h-4zM1990 312h24v4h-24zM1746 316h4v4h-4zM1982 316h24v4h-24zM1974 320h28v4h-28zM1734 324h4v4h-4zM1970 324h20v4h-20zM1970 328h12v4h-12zM1970 332h8v4h-8zM1970 336h8v4h-8zM1970 340h8v4h-8zM1970 344h8v4h-8zM1970 348h8v4h-8zM1970 352h4v4h-4zM1970 356h4v4h-4zM1966 360h8v4h-8zM1966 364h8v4h-8zM1962 368h8v4h-8zM1962 372h8v4h-8zM1958 376h8v4h-8z"/><path fill="#e0ecf8" d="M1978 88h4v4h-4zM1970 92h4v4h-4zM1966 96h4v4h-4zM1962 100h4v4h-4zM1958 104h8v4h-8zM1958 108h4v4h-4zM1954 112h4v4h-4zM1950 116h8v4h-8zM1946 120h8v4h-8zM1942 124h8v4h-8zM1938 128h8v4h-8zM1934 132h8v4h-8zM1930 136h8v4h-8zM1926 140h8v4h-8zM1922 144h8v4h-8zM1914 148h12v4h-12zM2030 148h4v4h-4zM1910 152h12v4h-12zM2030 152h4v4h-4zM1906 156h8v4h-8zM2030 156h4v4h-4zM1898 160h12v4h-12zM2030 160h4v4h-4zM1894 164h12v4h-12zM2030 164h4v4h-4zM1886 168h12v4h-12zM2030 168h4v4h-4zM1882 172h12v4h-12zM1878 176h12v4h-12zM1874 180h8v4h-8zM1870 184h8v4h-8zM1866 188h8v4h-8zM1862 192h8v4h-8zM1858 196h8v4h-8zM1854 200h8v4h-8zM1850 204h8v4h-8zM1846 208h8v4h-8zM1842 212h8v4h-8zM1838 216h8v4h-8zM1834 220h8v4h-8zM2030 220h4v4h-4zM1830 224h8v4h-8zM2030 224h4v4h-4zM1826 228h8v4h-8zM2030 228h4v4h-4zM1822 232h8v4h-8zM2030 232h4v4h-4zM1818 236h8v4h-8zM2026 236h8v4h-8zM1814 240h8v4h-8zM2026 240h8v4h-8zM1814 244h4v4h-4zM2026 244h8v4h-8zM1810 248h4v4h-4zM2026 248h8v4h-8zM1806 252h8v4h-8zM2022 252h12v4h-12zM1806 256h4v4h-4zM2022 256h8v4h-8zM1802 260h4v4h-4zM2022 260h8v4h-8zM1798 264h8v4h-8zM2018 264h12v4h-12zM1798 268h4v4h-4zM2018 268h8v4h-8zM1794 272h4v4h-4zM2014 272h12v4h-12zM1790 276h8v4h-8zM2014 276h12v4h-12zM1786 280h8v4h-8zM2010 280h12v4h-12zM1786 284h4v4h-4zM2010 284h12v4h-12zM1778 288h4v4h-4zM2006 288h12v4h-12zM1774 292h4v4h-4zM2002 292h12v4h-12zM1770 296h4v4h-4zM1998 296h16v4h-16zM1766 300h4v4h-4zM1990 300h20v4h-20zM1762 304h4v4h-4zM1982 304h24v4h-24zM1978 308h20v4h-20zM1970 312h20v4h-20zM1966 316h16v4h-16zM1742 320h4v4h-4zM1966 320h8v4h-8zM1738 324h4v4h-4zM1962 324h8v4h-8zM1734 328h4v4h-4zM1962 328h8v4h-8zM1962 332h8v4h-8zM1962 336h8v4h-8zM1962 340h8v4h-8zM1962 344h8v4h-8zM1962 348h8v4h-8zM1962 352h8v4h-8zM1962 356h8v4h-8zM1962 360h4v4h-4zM1958 364h8v4h-8zM1958 368h4v4h-4zM1954 372h8v4h-8zM1950 376h8v4h-8z"/><path fill="#d8e7f5" d="M1982 88h4v4h-4zM2030 88h4v4h-4zM1974 92h4v4h-4zM1970 96h4v4h-4zM1966 100h4v4h-4zM1966 104h4v4h-4zM1962 108h4v4h-4zM1958 112h4v4h-4zM1958 116h4v4h-4zM1954 120h4v4h-4zM1950 124h4v4h-4zM1946 128h8v4h-8zM1942 132h8v4h-8zM1938 136h8v4h-8zM1934 140h8v4h-8zM1930 144h8v4h-8zM2030 144h4v4h-4zM1926 148h8v4h-8zM2026 148h4v4h-4zM1922 152h8v4h-8zM2026 152h4v4h-4zM1914 156h8v4h-8zM2022 156h8v4h-8zM1910 160h8v4h-8zM2022 160h8v4h-8zM1906 164h8v4h-8zM2022 164h8v4h-8zM1898 168h12v4h-12zM2022 168h8v4h-8zM1894 172h8v4h-8zM2022 172h12v4h-12zM1890 176h8v4h-8zM2026 176h8v4h-8zM1882 180h12v4h-12zM2026 180h8v4h-8zM1878 184h8v4h-8zM2026 184h8v4h-8zM1874 188h8v4h-8zM2026 188h8v4h-8zM1870 192h8v4h-8zM2026 192h8v4h-8zM1866 196h8v4h-8zM2026 196h8v4h-8zM1862 200h8v4h-8zM2026 200h8v4h-8zM1858 204h8v4h-8zM2026 204h8v4h-8zM1854 208h8v4h-8zM2026 208h8v4h-8zM1850 212h8v4h-8zM2022 212h12v4h-12zM1846 216h8v4h-8zM2022 216h12v4h-12zM1842 220h8v4h-8zM2022 220h8v4h-8zM1838 224h8v4h-8zM2022 224h8v4h-8zM1834 228h4v4h-4zM2022 228h8v4h-8zM1830 232h4v4h-4zM2018 232h12v4h-12zM1826 236h4v4h-4zM2018 236h8v4h-8zM1822 240h8v4h-8zM2018 240h8v4h-8zM1818 244h8v4h-8zM2018 244h8v4h-8zM1814 248h8v4h-8zM2014 248h12v4h-12zM1814 252h4v4h-4zM2014 252h8v4h-8zM1810 256h4v4h-4zM2014 256h8v4h-8zM1806 260h8v4h-8zM2010 260h12v4h-12zM1806 264h4v4h-4zM2010 264h8v4h-8zM1802 268h4v4h-4zM2006 268h12v4h-12zM1798 272h4v4h-4zM2006 272h8v4h-8zM1798 276h4v4h-4zM2002 276h12v4h-12zM1794 280h4v4h-4zM1998 280h12v4h-12zM1790 284h4v4h-4zM1994 284h16v4h-16zM1782 288h8v4h-8zM1990 288h16v4h-16zM1778 292h4v4h-4zM1986 292h16v4h-16zM1774 296h4v4h-4zM1978 296h20v4h-20zM1770 300h4v4h-4zM1974 300h16v4h-16zM1970 304h12v4h-12zM1758 308h4v4h-4zM1966 308h12v4h-12zM1754 312h4v4h-4zM1962 312h8v4h-8zM1750 316h4v4h-4zM1958 316h8v4h-8zM1746 320h4v4h-4zM1958 320h8v4h-8zM1742 324h4v4h-4zM1954 324h8v4h-8zM1738 328h4v4h-4zM1954 328h8v4h-8zM1958 332h4v4h-4zM1958 336h4v4h-4zM1958 340h4v4h-4zM1958 344h4v4h-4zM1958 348h4v4h-4zM1958 352h4v4h-4zM1958 356h4v4h-4zM1958 360h4v4h-4zM1954 364h4v4h-4zM1950 368h8v4h-8zM1946 372h8v4h-8zM1942 376h8v4h-8z"/><path fill="#d0e2f2" d="M1986 88h4v4h-4zM2026 88h4v4h-4zM1978 92h4v4h-4zM1974 96h4v4h-4zM1970 100h4v4h-4zM1966 108h4v4h-4zM1962 112h4v4h-4zM1962 116h4v4h-4zM1958 120h4v4h-4zM1954 124h8v4h-8zM1954 128h4v4h-4zM1950 132h4v4h-4zM1946 136h8v4h-8zM1942 140h8v4h-8zM2030 140h4v4h-4zM1938 144h8v4h-8zM2026 144h4v4h-4zM1934 148h8v4h-8zM2022 148h4v4h-4zM1930 152h8v4h-8zM2018 152h8v4h-8zM1922 156h12v4h-12zM2018 156h4v4h-4zM1918 160h8v4h-8zM2018 160h4v4h-4zM1914 164h8v4h-8zM2018 164h4v4h-4zM1910 168h8v4h-8zM2014 168h8v4h-8zM1902 172h8v4h-8zM2014 172h8v4h-8zM1898 176h8v4h-8zM2014 176h12v4h-12zM1894 180h8v4h-8zM2018 180h8v4h-8zM1886 184h8v4h-8zM2018 184h8v4h-8zM1882 188h8v4h-8zM2018 188h8v4h-8zM1878 192h8v4h-8zM2018 192h8v4h-8zM1874 196h8v4h-8zM2018 196h8v4h-8zM1870 200h8v4h-8zM2018 200h8v4h-8zM1866 204h8v4h-8zM2014 204h12v4h-12zM1862 208h4v4h-4zM2014 208h12v4h-12zM1858 212h4v4h-4zM2014 212h8v4h-8zM1854 216h4v4h-4zM2014 216h8v4h-8zM1850 220h4v4h-4zM2014 220h8v4h-8zM1846 224h4v4h-4zM2014 224h8v4h-8zM1838 228h8v4h-8zM2010 228h12v4h-12zM1834 232h8v4h-8zM2010 232h8v4h-8zM1830 236h8v4h-8zM2010 236h8v4h-8zM1830 240h4v4h-4zM2006 240h12v4h-12zM1826 244h4v4h-4zM2006 244h12v4h-12zM1822 248h4v4h-4zM2006 248h8v4h-8zM1818 252h4v4h-4zM2002 252h12v4h-12zM1814 256h4v4h-4zM2002 256h12v4h-12zM1814 260h4v4h-4zM1998 260h12v4h-12zM1810 264h4v4h-4zM1998 264h12v4h-12zM1806 268h4v4h-4zM1994 268h12v4h-12zM1802 272h4v4h-4zM1990 272h16v4h-16zM1802 276h4v4h-4zM1990 276h12v4h-12zM1798 280h4v4h-4zM1986 280h12v4h-12zM1794 284h4v4h-4zM1982 284h12v4h-12zM1790 288h4v4h-4zM1974 288h16v4h-16zM1782 292h4v4h-4zM1970 292h16v4h-16zM1778 296h4v4h-4zM1966 296h12v4h-12zM1774 300h4v4h-4zM1962 300h12v4h-12zM1766 304h4v4h-4zM1958 304h12v4h-12zM1762 308h4v4h-4zM1958 308h8v4h-8zM1758 312h4v4h-4zM1954 312h8v4h-8zM1754 316h4v4h-4zM1950 316h8v4h-8zM1750 320h4v4h-4zM1950 320h8v4h-8zM1746 324h4v4h-4zM1950 324h4v4h-4zM1950 328h4v4h-4zM1734 332h4v4h-4zM1950 332h8v4h-8zM1950 336h8v4h-8zM1954 340h4v4h-4zM1954 344h4v4h-4zM1954 348h4v4h-4zM1954 352h4v4h-4zM1954 356h4v4h-4zM1950 360h8v4h-8zM1950 364h4v4h-4zM1946 368h4v4h-4zM1942 372h4v4h-4zM1938 376h4v4h-4z"/><path fill="#c9ddf0" d="M1990 88h8v4h-8zM2022 88h4v4h-4zM1982 92h4v4h-4zM2030 92h4v4h-4zM1978 96h4v4h-4zM1974 100h4v4h-4zM1970 104h4v4h-4zM1966 112h4v4h-4zM1966 116h4v4h-4zM1962 120h4v4h-4zM1962 124h4v4h-4zM1958 128h4v4h-4zM1954 132h8v4h-8zM1954 136h4v4h-4zM1950 140h8v4h-8zM2026 140h4v4h-4zM1946 144h8v4h-8zM2018 144h8v4h-8zM1942 148h8v4h-8zM2014 148h8v4h-8zM1938 152h8v4h-8zM2014 152h4v4h-4zM1934 156h8v4h-8zM2010 156h8v4h-8zM1926 160h12v4h-12zM2010 160h8v4h-8zM1922 164h8v4h-8zM2010 164h8v4h-8zM1918 168h8v4h-8zM2010 168h4v4h-4zM1910 172h8v4h-8zM2006 172h8v4h-8zM1906 176h8v4h-8zM2006 176h8v4h-8zM1902 180h8v4h-8zM2006 180h12v4h-12zM1894 184h8v4h-8zM2006 184h12v4h-12zM1890 188h8v4h-8zM2006 188h12v4h-12zM1886 192h8v4h-8zM2006 192h12v4h-12zM1882 196h4v4h-4zM2006 196h12v4h-12zM1878 200h4v4h-4zM2006 200h12v4h-12zM1874 204h4v4h-4zM2006 204h8v4h-8zM1866 208h8v4h-8zM2006 208h8v4h-8zM1862 212h8v4h-8zM2006 212h8v4h-8zM1858 216h8v4h-8zM2002 216h12v4h-12zM1854 220h8v4h-8zM2002 220h12v4h-12zM1850 224h4v4h-4zM2002 224h12v4h-12zM1846 228h4v4h-4zM2002 228h8v4h-8zM1842 232h4v4h-4zM2002 232h8v4h-8zM1838 236h4v4h-4zM1998 236h12v4h-12zM1834 240h4v4h-4zM1998 240h8v4h-8zM1830 244h4v4h-4zM1998 244h8v4h-8zM1826 248h4v4h-4zM1994 248h12v4h-12zM1822 252h4v4h-4zM1994 252h8v4h-8zM1818 256h8v4h-8zM1990 256h12v4h-12zM1818 260h4v4h-4zM1990 260h8v4h-8zM1814 264h4v4h-4zM1986 264h12v4h-12zM1810 268h4v4h-4zM1982 268h12v4h-12zM1806 272h4v4h-4zM1978 272h12v4h-12zM1806 276h4v4h-4zM1974 276h16v4h-16zM1802 280h4v4h-4zM1974 280h12v4h-12zM1798 284h4v4h-4zM1970 284h12v4h-12zM1794 288h4v4h-4zM1966 288h8v4h-8zM1786 292h4v4h-4zM1962 292h8v4h-8zM1782 296h4v4h-4zM1958 296h8v4h-8zM1954 300h8v4h-8zM1770 304h4v4h-4zM1950 304h8v4h-8zM1766 308h4v4h-4zM1950 308h8v4h-8zM1762 312h4v4h-4zM1946 312h8v4h-8zM1758 316h4v4h-4zM1946 316h4v4h-4zM1946 320h4v4h-4zM1946 324h4v4h-4zM1742 328h4v4h-4zM1946 328h4v4h-4zM1738 332h4v4h-4zM1946 332h4v4h-4zM1734 336h4v4h-4zM1946 336h4v4h-4zM1946 340h8v4h-8zM1950 344h4v4h-4zM1950 348h4v4h-4zM1950 352h4v4h-4zM1946 356h8v4h-8zM1946 360h4v4h-4zM1942 364h8v4h-8zM1938 368h8v4h-8zM1934 372h8v4h-8zM1930 376h8v4h-8z"/><path fill="#bdd7ec" d="M1998 88h24v4h-24zM1986 92h4v4h-4zM2026 92h4v4h-4zM1982 96h4v4h-4zM1974 104h4v4h-4zM1970 108h4v4h-4zM1970 112h4v4h-4zM1966 120h4v4h-4zM1966 124h4v4h-4zM1962 128h8v4h-8zM1962 132h4v4h-4zM1958 136h8v4h-8zM2030 136h4v4h-4zM1958 140h4v4h-4zM2022 140h4v4h-4zM1954 144h8v4h-8zM2014 144h4v4h-4zM1950 148h8v4h-8zM2010 148h4v4h-4zM1946 152h8v4h-8zM2006 152h8v4h-8zM1942 156h8v4h-8zM2006 156h4v4h-4zM1938 160h8v4h-8zM2002 160h8v4h-8zM1930 164h12v4h-12zM2002 164h8v4h-8zM1926 168h8v4h-8zM2002 168h8v4h-8zM1918 172h12v4h-12zM1998 172h8v4h-8zM1914 176h8v4h-8zM1998 176h8v4h-8zM1910 180h8v4h-8zM1998 180h8v4h-8zM1902 184h8v4h-8zM1998 184h8v4h-8zM1898 188h8v4h-8zM1994 188h12v4h-12zM1894 192h8v4h-8zM1994 192h12v4h-12zM1886 196h8v4h-8zM1994 196h12v4h-12zM1882 200h8v4h-8zM1994 200h12v4h-12zM1878 204h8v4h-8zM1994 204h12v4h-12zM1874 208h4v4h-4zM1994 208h12v4h-12zM1870 212h4v4h-4zM1994 212h12v4h-12zM1866 216h4v4h-4zM1994 216h8v4h-8zM1862 220h4v4h-4zM1990 220h12v4h-12zM1854 224h8v4h-8zM1990 224h12v4h-12zM1850 228h8v4h-8zM1990 228h12v4h-12zM1846 232h4v4h-4zM1990 232h12v4h-12zM1842 236h4v4h-4zM1990 236h8v4h-8zM1838 240h4v4h-4zM1986 240h12v4h-12zM1834 244h4v4h-4zM1986 244h12v4h-12zM1830 248h4v4h-4zM1982 248h12v4h-12zM1826 252h8v4h-8zM1982 252h12v4h-12zM1826 256h4v4h-4zM1978 256h12v4h-12zM1822 260h4v4h-4zM1978 260h12v4h-12zM1818 264h4v4h-4zM1974 264h12v4h-12zM1814 268h4v4h-4zM1970 268h12v4h-12zM1810 272h4v4h-4zM1970 272h8v4h-8zM1966 276h8v4h-8zM1806 280h4v4h-4zM1962 280h12v4h-12zM1802 284h4v4h-4zM1958 284h12v4h-12zM1798 288h4v4h-4zM1958 288h8v4h-8zM1790 292h8v4h-8zM1954 292h8v4h-8zM1786 296h4v4h-4zM1950 296h8v4h-8zM1778 300h8v4h-8zM1946 300h8v4h-8zM1774 304h4v4h-4zM1946 304h4v4h-4zM1770 308h4v4h-4zM1942 308h8v4h-8zM1942 312h4v4h-4zM1942 316h4v4h-4zM1754 320h4v4h-4zM1942 320h4v4h-4zM1750 324h4v4h-4zM1942 324h4v4h-4zM1746 328h4v4h-4zM1942 328h4v4h-4zM1942 332h4v4h-4zM1942 336h4v4h-4zM1942 340h4v4h-4zM1942 344h8v4h-8zM1942 348h8v4h-8zM1942 352h8v4h-8zM1942 356h4v4h-4zM1942 360h4v4h-4zM1938 364h4v4h-4zM1934 368h4v4h-4zM1930 372h4v4h-4zM1922 376h8v4h-8z"/><path fill="#b1d2e8" d="M1990 92h4v4h-4zM2022 92h4v4h-4zM2030 96h4v4h-4zM1978 100h4v4h-4zM1974 108h4v4h-4zM1970 116h4v4h-4zM1970 120h4v4h-4zM1970 124h4v4h-4zM1970 128h4v4h-4zM1966 132h4v4h-4zM2030 132h4v4h-4zM1966 136h4v4h-4zM2026 136h4v4h-4zM1962 140h8v4h-8zM2018 140h4v4h-4zM1962 144h4v4h-4zM2006 144h8v4h-8zM1958 148h8v4h-8zM2002 148h8v4h-8zM1954 152h8v4h-8zM2002 152h4v4h-4zM1950 156h8v4h-8zM1998 156h8v4h-8zM1946 160h8v4h-8zM1994 160h8v4h-8zM1942 164h8v4h-8zM1994 164h8v4h-8zM1934 168h12v4h-12zM1994 168h8v4h-8zM1930 172h8v4h-8zM1990 172h8v4h-8zM1922 176h12v4h-12zM1990 176h8v4h-8zM1918 180h8v4h-8zM1986 180h12v4h-12zM1910 184h8v4h-8zM1986 184h12v4h-12zM1906 188h8v4h-8zM1982 188h12v4h-12zM1902 192h8v4h-8zM1982 192h12v4h-12zM1894 196h8v4h-8zM1982 196h12v4h-12zM1890 200h8v4h-8zM1982 200h12v4h-12zM1886 204h4v4h-4zM1982 204h12v4h-12zM1878 208h8v4h-8zM1982 208h12v4h-12zM1874 212h8v4h-8zM1978 212h16v4h-16zM1870 216h4v4h-4zM1978 216h16v4h-16zM1866 220h4v4h-4zM1978 220h12v4h-12zM1862 224h4v4h-4zM1978 224h12v4h-12zM1858 228h4v4h-4zM1978 228h12v4h-12zM1850 232h8v4h-8zM1978 232h12v4h-12zM1846 236h8v4h-8zM1978 236h12v4h-12zM1842 240h8v4h-8zM1978 240h8v4h-8zM1838 244h8v4h-8zM1974 244h12v4h-12zM1834 248h8v4h-8zM1974 248h8v4h-8zM1834 252h4v4h-4zM1970 252h12v4h-12zM1830 256h4v4h-4zM1970 256h8v4h-8zM1826 260h4v4h-4zM1966 260h12v4h-12zM1822 264h4v4h-4zM1966 264h8v4h-8zM1818 268h4v4h-4zM1962 268h8v4h-8zM1814 272h4v4h-4zM1958 272h12v4h-12zM1810 276h4v4h-4zM1958 276h8v4h-8zM1954 280h8v4h-8zM1806 284h4v4h-4zM1950 284h8v4h-8zM1802 288h4v4h-4zM1950 288h8v4h-8zM1798 292h4v4h-4zM1946 292h8v4h-8zM1790 296h8v4h-8zM1942 296h8v4h-8zM1786 300h4v4h-4zM1942 300h4v4h-4zM1778 304h4v4h-4zM1938 304h8v4h-8zM1774 308h4v4h-4zM1938 308h4v4h-4zM1766 312h4v4h-4zM1938 312h4v4h-4zM1762 316h4v4h-4zM1938 316h4v4h-4zM1758 320h4v4h-4zM1938 320h4v4h-4zM1754 324h4v4h-4zM1938 324h4v4h-4zM1938 328h4v4h-4zM1742 332h4v4h-4zM1938 332h4v4h-4zM1738 336h4v4h-4zM1938 336h4v4h-4zM1734 340h4v4h-4zM1938 340h4v4h-4zM1938 344h4v4h-4zM1938 348h4v4h-4zM1938 352h4v4h-4zM1938 356h4v4h-4zM1934 360h8v4h-8zM1934 364h4v4h-4zM1926 368h8v4h-8zM1922 372h8v4h-8zM1910 376h12v4h-12z"/><path fill="#a4cce3" d="M1994 92h8v4h-8zM2014 92h8v4h-8zM1986 96h4v4h-4zM2026 96h4v4h-4zM1982 100h4v4h-4zM2030 100h4v4h-4zM1978 104h4v4h-4zM1974 112h4v4h-4zM1974 116h4v4h-4zM1974 120h4v4h-4zM1974 124h4v4h-4zM1974 128h4v4h-4zM1970 132h8v4h-8zM2026 132h4v4h-4zM1970 136h8v4h-8zM2022 136h4v4h-4zM1970 140h8v4h-8zM2010 140h8v4h-8zM1966 144h12v4h-12zM1998 144h8v4h-8zM1966 148h12v4h-12zM1994 148h8v4h-8zM1962 152h12v4h-12zM1990 152h12v4h-12zM1958 156h16v4h-16zM1986 156h12v4h-12zM1954 160h16v4h-16zM1982 160h12v4h-12zM1950 164h16v4h-16zM1978 164h16v4h-16zM1946 168h16v4h-16zM1978 168h16v4h-16zM1938 172h16v4h-16zM1974 172h16v4h-16zM1934 176h12v4h-12zM1974 176h16v4h-16zM1926 180h12v4h-12zM1974 180h12v4h-12zM1918 184h12v4h-12zM1970 184h16v4h-16zM1914 188h8v4h-8zM1970 188h12v4h-12zM1910 192h8v4h-8zM1970 192h12v4h-12zM1902 196h8v4h-8zM1970 196h12v4h-12zM1898 200h8v4h-8zM1970 200h12v4h-12zM1890 204h8v4h-8zM1970 204h12v4h-12zM1886 208h8v4h-8zM1966 208h16v4h-16zM1882 212h4v4h-4zM1966 212h12v4h-12zM1874 216h8v4h-8zM1966 216h12v4h-12zM1870 220h8v4h-8zM1966 220h12v4h-12zM1866 224h4v4h-4zM1966 224h12v4h-12zM1862 228h4v4h-4zM1966 228h12v4h-12zM1858 232h4v4h-4zM1966 232h12v4h-12zM1854 236h4v4h-4zM1966 236h12v4h-12zM1850 240h4v4h-4zM1966 240h12v4h-12zM1846 244h4v4h-4zM1966 244h8v4h-8zM1842 248h4v4h-4zM1962 248h12v4h-12zM1838 252h4v4h-4zM1962 252h8v4h-8zM1834 256h4v4h-4zM1962 256h8v4h-8zM1830 260h4v4h-4zM1958 260h8v4h-8zM1826 264h4v4h-4zM1958 264h8v4h-8zM1822 268h4v4h-4zM1954 268h8v4h-8zM1818 272h4v4h-4zM1950 272h8v4h-8zM1814 276h4v4h-4zM1950 276h8v4h-8zM1810 280h4v4h-4zM1946 280h8v4h-8zM1942 284h8v4h-8zM1806 288h4v4h-4zM1942 288h8v4h-8zM1802 292h4v4h-4zM1938 292h8v4h-8zM1798 296h4v4h-4zM1938 296h4v4h-4zM1790 300h8v4h-8zM1934 300h8v4h-8zM1782 304h8v4h-8zM1934 304h4v4h-4zM1778 308h4v4h-4zM1934 308h4v4h-4zM1770 312h4v4h-4zM1934 312h4v4h-4zM1766 316h4v4h-4zM1934 316h4v4h-4zM1762 320h4v4h-4zM1934 320h4v4h-4zM1934 324h4v4h-4zM1750 328h4v4h-4zM1934 328h4v4h-4zM1746 332h4v4h-4zM1934 332h4v4h-4zM1934 336h4v4h-4zM1934 340h4v4h-4zM1934 344h4v4h-4zM1934 348h4v4h-4zM1934 352h4v4h-4zM1934 356h4v4h-4zM1930 360h4v4h-4zM1926 364h8v4h-8zM1922 368h4v4h-4zM1914 372h8v4h-8zM1734 376h4v4h-4zM1898 376h12v4h-12z"/><path fill="#95c5df" d="M2002 92h12v4h-12zM1990 96h4v4h-4zM2022 96h4v4h-4zM1986 100h4v4h-4zM1982 104h4v4h-4zM1978 108h4v4h-4zM1978 112h4v4h-4zM1978 128h4v4h-4zM2030 128h4v4h-4zM1978 132h4v4h-4zM1978 136h4v4h-4zM2014 136h8v4h-8zM1978 140h12v4h-12zM1998 140h12v4h-12zM1978 144h20v4h-20zM1978 148h16v4h-16zM1974 152h16v4h-16zM1974 156h12v4h-12zM1970 160h12v4h-12zM1966 164h12v4h-12zM1962 168h16v4h-16zM1954 172h20v4h-20zM1946 176h28v4h-28zM1938 180h36v4h-36zM1930 184h40v4h-40zM1922 188h16v4h-16zM1954 188h16v4h-16zM1918 192h12v4h-12zM1954 192h16v4h-16zM1910 196h12v4h-12zM1958 196h12v4h-12zM1906 200h8v4h-8zM1958 200h12v4h-12zM1898 204h8v4h-8zM1958 204h12v4h-12zM1894 208h4v4h-4zM1958 208h8v4h-8zM1886 212h8v4h-8zM1958 212h8v4h-8zM1882 216h4v4h-4zM1958 216h8v4h-8zM1878 220h4v4h-4zM1958 220h8v4h-8zM1870 224h8v4h-8zM1958 224h8v4h-8zM1866 228h4v4h-4zM1958 228h8v4h-8zM1862 232h4v4h-4zM1958 232h8v4h-8zM1858 236h4v4h-4zM1958 236h8v4h-8zM1854 240h4v4h-4zM1958 240h8v4h-8zM1850 244h4v4h-4zM1958 244h8v4h-8zM1846 248h4v4h-4zM1954 248h8v4h-8zM1842 252h4v4h-4zM1954 252h8v4h-8zM1838 256h4v4h-4zM1954 256h8v4h-8zM1834 260h4v4h-4zM1950 260h8v4h-8zM1830 264h4v4h-4zM1950 264h8v4h-8zM1826 268h4v4h-4zM1946 268h8v4h-8zM1822 272h4v4h-4zM1946 272h4v4h-4zM1818 276h4v4h-4zM1942 276h8v4h-8zM1814 280h4v4h-4zM1938 280h8v4h-8zM1810 284h4v4h-4zM1938 284h4v4h-4zM1934 288h8v4h-8zM1806 292h4v4h-4zM1934 292h4v4h-4zM1802 296h4v4h-4zM1930 296h8v4h-8zM1798 300h4v4h-4zM1930 300h4v4h-4zM1790 304h8v4h-8zM1930 304h4v4h-4zM1782 308h8v4h-8zM1930 308h4v4h-4zM1774 312h4v4h-4zM1930 312h4v4h-4zM1770 316h4v4h-4zM1930 316h4v4h-4zM1930 320h4v4h-4zM1758 324h4v4h-4zM1930 324h4v4h-4zM1754 328h4v4h-4zM1930 328h4v4h-4zM1930 332h4v4h-4zM1742 336h4v4h-4zM1930 336h4v4h-4zM1738 340h4v4h-4zM1930 340h4v4h-4zM1734 344h4v4h-4zM1930 344h4v4h-4zM1930 348h4v4h-4zM1930 352h4v4h-4zM1926 356h8v4h-8zM1926 360h4v4h-4zM1922 364h4v4h-4zM1914 368h8v4h-8zM1902 372h12v4h-12zM1790 376h4v4h-4zM1882 376h16v4h-16z"/><path fill="#84bcdc" d="M1994 96h4v4h-4zM2018 96h4v4h-4zM2026 100h4v4h-4zM2030 104h4v4h-4zM1982 108h4v4h-4zM1978 116h4v4h-4zM1978 120h4v4h-4zM1978 124h4v4h-4zM2030 124h4v4h-4zM1982 128h4v4h-4zM2026 128h4v4h-4zM1982 132h4v4h-4zM2022 132h4v4h-4zM1982 136h12v4h-12zM2006 136h8v4h-8zM1990 140h8v4h-8zM1938 188h16v4h-16zM1930 192h24v4h-24zM1922 196h36v4h-36zM1914 200h44v4h-44zM1906 204h12v4h-12zM1942 204h16v4h-16zM1898 208h12v4h-12zM1946 208h12v4h-12zM1894 212h8v4h-8zM1946 212h12v4h-12zM1886 216h8v4h-8zM1946 216h12v4h-12zM1882 220h4v4h-4zM1946 220h12v4h-12zM1878 224h4v4h-4zM1946 224h12v4h-12zM1870 228h8v4h-8zM1950 228h8v4h-8zM1866 232h4v4h-4zM1950 232h8v4h-8zM1862 236h4v4h-4zM1950 236h8v4h-8zM1858 240h4v4h-4zM1950 240h8v4h-8zM1854 244h4v4h-4zM1950 244h8v4h-8zM1850 248h4v4h-4zM1946 248h8v4h-8zM1846 252h4v4h-4zM1946 252h8v4h-8zM1842 256h4v4h-4zM1946 256h8v4h-8zM1838 260h4v4h-4zM1942 260h8v4h-8zM1834 264h4v4h-4zM1942 264h8v4h-8zM1830 268h4v4h-4zM1938 268h8v4h-8zM1826 272h4v4h-4zM1938 272h8v4h-8zM1822 276h4v4h-4zM1934 276h8v4h-8zM1818 280h4v4h-4zM1934 280h4v4h-4zM1814 284h4v4h-4zM1930 284h8v4h-8zM1810 288h4v4h-4zM1926 288h8v4h-8zM1926 292h8v4h-8zM1806 296h4v4h-4zM1926 296h4v4h-4zM1802 300h4v4h-4zM1926 300h4v4h-4zM1798 304h4v4h-4zM1926 304h4v4h-4zM1790 308h4v4h-4zM1926 308h4v4h-4zM1778 312h8v4h-8zM1926 312h4v4h-4zM1774 316h4v4h-4zM1926 316h4v4h-4zM1766 320h4v4h-4zM1926 320h4v4h-4zM1762 324h4v4h-4zM1926 324h4v4h-4zM1926 328h4v4h-4zM1750 332h4v4h-4zM1926 332h4v4h-4zM1926 336h4v4h-4zM1926 340h4v4h-4zM1926 344h4v4h-4zM1926 348h4v4h-4zM1926 352h4v4h-4zM1922 356h4v4h-4zM1918 360h8v4h-8zM1914 364h8v4h-8zM1906 368h8v4h-8zM1734 372h4v4h-4zM1890 372h12v4h-12zM1738 376h4v4h-4zM1778 376h12v4h-12zM1794 376h28v4h-28zM1854 376h28v4h-28z"/><path fill="#74b3d8" d="M1998 96h20v4h-20zM1990 100h4v4h-4zM2022 100h4v4h-4zM1986 104h4v4h-4zM2026 104h4v4h-4zM2030 108h4v4h-4zM1982 112h4v4h-4zM2030 112h4v4h-4zM1982 116h4v4h-4zM2030 116h4v4h-4zM1982 120h4v4h-4zM2030 120h4v4h-4zM1982 124h4v4h-4zM2026 124h4v4h-4zM1986 128h4v4h-4zM2022 128h4v4h-4zM1986 132h8v4h-8zM2014 132h8v4h-8zM1994 136h12v4h-12zM1918 204h24v4h-24zM1910 208h36v4h-36zM1902 212h20v4h-20zM1926 212h20v4h-20zM1894 216h12v4h-12zM1934 216h12v4h-12zM1886 220h12v4h-12zM1934 220h12v4h-12zM1882 224h8v4h-8zM1938 224h8v4h-8zM1878 228h4v4h-4zM1938 228h12v4h-12zM1870 232h8v4h-8zM1938 232h12v4h-12zM1866 236h8v4h-8zM1938 236h12v4h-12zM1862 240h4v4h-4zM1938 240h12v4h-12zM1858 244h4v4h-4zM1938 244h12v4h-12zM1854 248h4v4h-4zM1938 248h8v4h-8zM1850 252h4v4h-4zM1938 252h8v4h-8zM1846 256h4v4h-4zM1938 256h8v4h-8zM1842 260h4v4h-4zM1934 260h8v4h-8zM1838 264h4v4h-4zM1934 264h8v4h-8zM1834 268h4v4h-4zM1934 268h4v4h-4zM1830 272h4v4h-4zM1930 272h8v4h-8zM1826 276h4v4h-4zM1926 276h8v4h-8zM1822 280h4v4h-4zM1926 280h8v4h-8zM1818 284h4v4h-4zM1922 284h8v4h-8zM1814 288h4v4h-4zM1922 288h4v4h-4zM1810 292h4v4h-4zM1922 292h4v4h-4zM1922 296h4v4h-4zM1806 300h4v4h-4zM1918 300h8v4h-8zM1802 304h4v4h-4zM1922 304h4v4h-4zM1794 308h8v4h-8zM1922 308h4v4h-4zM1786 312h8v4h-8zM1922 312h4v4h-4zM1778 316h8v4h-8zM1922 316h4v4h-4zM1770 320h8v4h-8zM1922 320h4v4h-4zM1766 324h4v4h-4zM1922 324h4v4h-4zM1758 328h4v4h-4zM1922 328h4v4h-4zM1754 332h4v4h-4zM1922 332h4v4h-4zM1746 336h4v4h-4zM1922 336h4v4h-4zM1742 340h4v4h-4zM1922 340h4v4h-4zM1922 344h4v4h-4zM1734 348h4v4h-4zM1922 348h4v4h-4zM1918 352h8v4h-8zM1918 356h4v4h-4zM1914 360h4v4h-4zM1906 364h8v4h-8zM1894 368h12v4h-12zM1874 372h16v4h-16zM1742 376h4v4h-4zM1770 376h8v4h-8zM1822 376h32v4h-32z"/><path fill="#65aad4" d="M1994 100h4v4h-4zM2018 100h4v4h-4zM1990 104h4v4h-4zM1986 108h4v4h-4zM2026 108h4v4h-4zM2026 120h4v4h-4zM1986 124h4v4h-4zM1990 128h4v4h-4zM1994 132h20v4h-20zM1922 212h4v4h-4zM1906 216h28v4h-28zM1898 220h36v4h-36zM1890 224h8v4h-8zM1922 224h16v4h-16zM1882 228h8v4h-8zM1926 228h12v4h-12zM1878 232h8v4h-8zM1926 232h12v4h-12zM1874 236h4v4h-4zM1930 236h8v4h-8zM1866 240h8v4h-8zM1930 240h8v4h-8zM1862 244h8v4h-8zM1930 244h8v4h-8zM1858 248h4v4h-4zM1930 248h8v4h-8zM1854 252h4v4h-4zM1930 252h8v4h-8zM1850 256h4v4h-4zM1930 256h8v4h-8zM1846 260h4v4h-4zM1930 260h4v4h-4zM1842 264h4v4h-4zM1926 264h8v4h-8zM1838 268h4v4h-4zM1926 268h8v4h-8zM1834 272h4v4h-4zM1922 272h8v4h-8zM1830 276h4v4h-4zM1922 276h4v4h-4zM1826 280h4v4h-4zM1918 280h8v4h-8zM1822 284h4v4h-4zM1918 284h4v4h-4zM1818 288h4v4h-4zM1914 288h8v4h-8zM1814 292h4v4h-4zM1914 292h8v4h-8zM1810 296h4v4h-4zM1914 296h8v4h-8zM1914 300h4v4h-4zM1806 304h4v4h-4zM1914 304h8v4h-8zM1802 308h4v4h-4zM1918 308h4v4h-4zM1794 312h8v4h-8zM1918 312h4v4h-4zM1786 316h4v4h-4zM1918 316h4v4h-4zM1778 320h4v4h-4zM1918 320h4v4h-4zM1770 324h4v4h-4zM1918 324h4v4h-4zM1762 328h4v4h-4zM1918 328h4v4h-4zM1918 332h4v4h-4zM1750 336h4v4h-4zM1918 336h4v4h-4zM1918 340h4v4h-4zM1738 344h4v4h-4zM1918 344h4v4h-4zM1914 348h8v4h-8zM1734 352h4v4h-4zM1914 352h4v4h-4zM1910 356h8v4h-8zM1906 360h8v4h-8zM1898 364h8v4h-8zM1734 368h4v4h-4zM1882 368h12v4h-12zM1738 372h4v4h-4zM1782 372h40v4h-40zM1850 372h24v4h-24zM1766 376h4v4h-4z"/><path fill="#58a1cf" d="M1998 100h8v4h-8zM2010 100h8v4h-8zM2022 104h4v4h-4zM1986 112h4v4h-4zM2026 112h4v4h-4zM1986 116h4v4h-4zM2026 116h4v4h-4zM1986 120h4v4h-4zM1990 124h4v4h-4zM2022 124h4v4h-4zM1994 128h4v4h-4zM2014 128h8v4h-8zM1898 224h24v4h-24zM1890 228h36v4h-36zM1886 232h8v4h-8zM1910 232h16v4h-16zM1878 236h8v4h-8zM1918 236h12v4h-12zM1874 240h8v4h-8zM1918 240h12v4h-12zM1870 244h4v4h-4zM1918 244h12v4h-12zM1862 248h8v4h-8zM1922 248h8v4h-8zM1858 252h8v4h-8zM1922 252h8v4h-8zM1854 256h8v4h-8zM1922 256h8v4h-8zM1850 260h8v4h-8zM1918 260h12v4h-12zM1846 264h8v4h-8zM1918 264h8v4h-8zM1842 268h4v4h-4zM1918 268h8v4h-8zM1838 272h4v4h-4zM1914 272h8v4h-8zM1834 276h4v4h-4zM1914 276h8v4h-8zM1830 280h4v4h-4zM1910 280h8v4h-8zM1826 284h4v4h-4zM1910 284h8v4h-8zM1822 288h4v4h-4zM1910 288h4v4h-4zM1818 292h4v4h-4zM1910 292h4v4h-4zM1814 296h4v4h-4zM1910 296h4v4h-4zM1810 300h4v4h-4zM1910 300h4v4h-4zM1810 304h4v4h-4zM1910 304h4v4h-4zM1806 308h4v4h-4zM1910 308h8v4h-8zM1802 312h4v4h-4zM1914 312h4v4h-4zM1790 316h8v4h-8zM1914 316h4v4h-4zM1782 320h4v4h-4zM1914 320h4v4h-4zM1774 324h4v4h-4zM1914 324h4v4h-4zM1766 328h4v4h-4zM1914 328h4v4h-4zM1758 332h4v4h-4zM1914 332h4v4h-4zM1914 336h4v4h-4zM1746 340h4v4h-4zM1910 340h8v4h-8zM1910 344h8v4h-8zM1910 348h4v4h-4zM1906 352h8v4h-8zM1734 356h4v4h-4zM1902 356h8v4h-8zM1734 360h4v4h-4zM1894 360h12v4h-12zM1734 364h4v4h-4zM1882 364h16v4h-16zM1862 368h20v4h-20zM1774 372h8v4h-8zM1822 372h28v4h-28zM1746 376h8v4h-8zM1758 376h8v4h-8z"/><path fill="#4b98c9" d="M2006 100h4v4h-4zM1994 104h4v4h-4zM2018 104h4v4h-4zM1990 108h4v4h-4zM2022 108h4v4h-4zM1990 112h4v4h-4zM1990 120h4v4h-4zM2022 120h4v4h-4zM1994 124h4v4h-4zM2018 124h4v4h-4zM1998 128h16v4h-16zM1894 232h16v4h-16zM1886 236h32v4h-32zM1882 240h36v4h-36zM1874 244h12v4h-12zM1906 244h12v4h-12zM1870 248h8v4h-8zM1906 248h16v4h-16zM1866 252h8v4h-8zM1910 252h12v4h-12zM1862 256h4v4h-4zM1910 256h12v4h-12zM1858 260h4v4h-4zM1910 260h8v4h-8zM1854 264h4v4h-4zM1910 264h8v4h-8zM1846 268h8v4h-8zM1906 268h12v4h-12zM1842 272h8v4h-8zM1906 272h8v4h-8zM1838 276h4v4h-4zM1906 276h8v4h-8zM1834 280h4v4h-4zM1906 280h4v4h-4zM1830 284h4v4h-4zM1906 284h4v4h-4zM1826 288h4v4h-4zM1906 288h4v4h-4zM1822 292h4v4h-4zM1906 292h4v4h-4zM1818 296h4v4h-4zM1906 296h4v4h-4zM1814 300h4v4h-4zM1906 300h4v4h-4zM1814 304h4v4h-4zM1906 304h4v4h-4zM1810 308h4v4h-4zM1906 308h4v4h-4zM1806 312h4v4h-4zM1906 312h8v4h-8zM1798 316h4v4h-4zM1910 316h4v4h-4zM1786 320h8v4h-8zM1910 320h4v4h-4zM1778 324h4v4h-4zM1910 324h4v4h-4zM1770 328h4v4h-4zM1910 328h4v4h-4zM1762 332h4v4h-4zM1906 332h8v4h-8zM1754 336h4v4h-4zM1906 336h8v4h-8zM1906 340h4v4h-4zM1742 344h4v4h-4zM1902 344h8v4h-8zM1738 348h4v4h-4zM1902 348h8v4h-8zM1898 352h8v4h-8zM1894 356h8v4h-8zM1882 360h12v4h-12zM1870 364h12v4h-12zM1738 368h4v4h-4zM1790 368h36v4h-36zM1838 368h24v4h-24zM1742 372h4v4h-4zM1770 372h4v4h-4zM1754 376h4v4h-4z"/><path fill="#3e8ec4" d="M1998 104h20v4h-20zM1994 108h4v4h-4zM2018 108h4v4h-4zM2022 112h4v4h-4zM1990 116h4v4h-4zM2022 116h4v4h-4zM1994 120h4v4h-4zM2018 120h4v4h-4zM1998 124h4v4h-4zM2014 124h4v4h-4zM1886 244h20v4h-20zM1878 248h28v4h-28zM1874 252h36v4h-36zM1866 256h16v4h-16zM1894 256h16v4h-16zM1862 260h12v4h-12zM1894 260h16v4h-16zM1858 264h8v4h-8zM1894 264h16v4h-16zM1854 268h8v4h-8zM1898 268h8v4h-8zM1850 272h4v4h-4zM1898 272h8v4h-8zM1842 276h8v4h-8zM1898 276h8v4h-8zM1838 280h4v4h-4zM1898 280h8v4h-8zM1834 284h4v4h-4zM1898 284h8v4h-8zM1830 288h4v4h-4zM1898 288h8v4h-8zM1826 292h4v4h-4zM1898 292h8v4h-8zM1822 296h4v4h-4zM1898 296h8v4h-8zM1818 300h4v4h-4zM1902 300h4v4h-4zM1818 304h4v4h-4zM1902 304h4v4h-4zM1814 308h4v4h-4zM1902 308h4v4h-4zM1810 312h4v4h-4zM1902 312h4v4h-4zM1802 316h8v4h-8zM1902 316h8v4h-8zM1794 320h8v4h-8zM1902 320h8v4h-8zM1782 324h8v4h-8zM1902 324h8v4h-8zM1774 328h4v4h-4zM1902 328h8v4h-8zM1766 332h4v4h-4zM1902 332h4v4h-4zM1758 336h4v4h-4zM1902 336h4v4h-4zM1750 340h4v4h-4zM1898 340h8v4h-8zM1894 344h8v4h-8zM1890 348h12v4h-12zM1738 352h4v4h-4zM1886 352h12v4h-12zM1878 356h16v4h-16zM1870 360h12v4h-12zM1850 364h20v4h-20zM1782 368h8v4h-8zM1826 368h12v4h-12zM1766 372h4v4h-4z"/><path fill="#3484bf" d="M1998 108h4v4h-4zM2014 108h4v4h-4zM1994 112h4v4h-4zM2018 112h4v4h-4zM1994 116h4v4h-4zM2018 116h4v4h-4zM1998 120h4v4h-4zM2014 120h4v4h-4zM2002 124h12v4h-12zM1882 256h12v4h-12zM1874 260h20v4h-20zM1866 264h28v4h-28zM1862 268h36v4h-36zM1854 272h20v4h-20zM1878 272h20v4h-20zM1850 276h12v4h-12zM1886 276h12v4h-12zM1842 280h12v4h-12zM1886 280h12v4h-12zM1838 284h8v4h-8zM1890 284h8v4h-8zM1834 288h4v4h-4zM1890 288h8v4h-8zM1830 292h4v4h-4zM1890 292h8v4h-8zM1826 296h4v4h-4zM1894 296h4v4h-4zM1822 300h4v4h-4zM1894 300h8v4h-8zM1822 304h4v4h-4zM1894 304h8v4h-8zM1818 308h4v4h-4zM1898 308h4v4h-4zM1814 312h4v4h-4zM1898 312h4v4h-4zM1810 316h4v4h-4zM1898 316h4v4h-4zM1802 320h4v4h-4zM1898 320h4v4h-4zM1790 324h4v4h-4zM1898 324h4v4h-4zM1778 328h4v4h-4zM1894 328h8v4h-8zM1770 332h4v4h-4zM1894 332h8v4h-8zM1762 336h4v4h-4zM1890 336h12v4h-12zM1754 340h4v4h-4zM1886 340h12v4h-12zM1746 344h4v4h-4zM1882 344h12v4h-12zM1742 348h4v4h-4zM1878 348h12v4h-12zM1870 352h16v4h-16zM1738 356h4v4h-4zM1862 356h16v4h-16zM1738 360h4v4h-4zM1854 360h16v4h-16zM1738 364h4v4h-4zM1794 364h56v4h-56zM1742 368h4v4h-4zM1774 368h8v4h-8zM1746 372h8v4h-8zM1762 372h4v4h-4z"/><path fill="#2979b9" d="M2002 108h12v4h-12zM1998 112h8v4h-8zM2014 112h4v4h-4zM1998 116h4v4h-4zM2014 116h4v4h-4zM2002 120h12v4h-12zM1874 272h4v4h-4zM1862 276h24v4h-24zM1854 280h32v4h-32zM1846 284h20v4h-20zM1870 284h20v4h-20zM1838 288h12v4h-12zM1878 288h12v4h-12zM1834 292h12v4h-12zM1882 292h8v4h-8zM1830 296h8v4h-8zM1886 296h8v4h-8zM1826 300h8v4h-8zM1886 300h8v4h-8zM1826 304h8v4h-8zM1890 304h4v4h-4zM1822 308h8v4h-8zM1890 308h8v4h-8zM1818 312h12v4h-12zM1890 312h8v4h-8zM1814 316h12v4h-12zM1890 316h8v4h-8zM1806 320h12v4h-12zM1890 320h8v4h-8zM1794 324h12v4h-12zM1890 324h8v4h-8zM1782 328h8v4h-8zM1886 328h8v4h-8zM1774 332h4v4h-4zM1882 332h12v4h-12zM1766 336h4v4h-4zM1874 336h16v4h-16zM1870 340h16v4h-16zM1862 344h20v4h-20zM1858 348h20v4h-20zM1854 352h16v4h-16zM1846 356h16v4h-16zM1814 360h40v4h-40zM1786 364h8v4h-8zM1770 368h4v4h-4zM1754 372h8v4h-8z"/><path fill="#226fb4" d="M2006 112h8v4h-8zM2002 116h12v4h-12zM1866 284h4v4h-4zM1850 288h28v4h-28zM1846 292h36v4h-36zM1838 296h20v4h-20zM1874 296h12v4h-12zM1834 300h16v4h-16zM1878 300h8v4h-8zM1834 304h12v4h-12zM1878 304h12v4h-12zM1830 308h16v4h-16zM1882 308h8v4h-8zM1830 312h12v4h-12zM1882 312h8v4h-8zM1826 316h16v4h-16zM1882 316h8v4h-8zM1818 320h16v4h-16zM1878 320h12v4h-12zM1806 324h20v4h-20zM1878 324h12v4h-12zM1790 328h8v4h-8zM1870 328h16v4h-16zM1778 332h8v4h-8zM1862 332h20v4h-20zM1770 336h4v4h-4zM1854 336h20v4h-20zM1758 340h4v4h-4zM1850 340h20v4h-20zM1750 344h4v4h-4zM1846 344h16v4h-16zM1746 348h4v4h-4zM1842 348h16v4h-16zM1742 352h4v4h-4zM1838 352h16v4h-16zM1818 356h28v4h-28zM1794 360h20v4h-20zM1742 364h4v4h-4zM1778 364h8v4h-8zM1746 368h4v4h-4zM1766 368h4v4h-4z"/><path fill="#2568af" d="M1858 296h16v4h-16zM1850 300h28v4h-28zM1846 304h32v4h-32zM1846 308h36v4h-36zM1842 312h40v4h-40zM1842 316h40v4h-40zM1834 320h44v4h-44zM1826 324h52v4h-52zM1798 328h72v4h-72zM1786 332h8v4h-8zM1818 332h44v4h-44zM1774 336h4v4h-4zM1826 336h28v4h-28zM1762 340h8v4h-8zM1826 340h24v4h-24zM1754 344h4v4h-4zM1826 344h20v4h-20zM1822 348h20v4h-20zM1814 352h24v4h-24zM1742 356h4v4h-4zM1802 356h16v4h-16zM1742 360h4v4h-4zM1786 360h8v4h-8zM1774 364h4v4h-4zM1750 368h4v4h-4zM1762 368h4v4h-4z"/><path fill="#2761aa" d="M1794 332h24v4h-24zM1778 336h8v4h-8zM1810 336h16v4h-16zM1770 340h4v4h-4zM1814 340h12v4h-12zM1758 344h4v4h-4zM1814 344h12v4h-12zM1750 348h4v4h-4zM1810 348h12v4h-12zM1746 352h4v4h-4zM1802 352h12v4h-12zM1794 356h8v4h-8zM1778 360h8v4h-8zM1746 364h4v4h-4zM1770 364h4v4h-4zM1754 368h8v4h-8z"/><path fill="#2b59a5" d="M1786 336h24v4h-24zM1774 340h8v4h-8zM1802 340h12v4h-12zM1762 344h8v4h-8zM1802 344h12v4h-12zM1754 348h4v4h-4zM1802 348h8v4h-8zM1794 352h8v4h-8zM1746 356h4v4h-4zM1782 356h12v4h-12zM1746 360h4v4h-4zM1774 360h4v4h-4zM1750 364h4v4h-4zM1766 364h4v4h-4z"/><path fill="#2f4f98" d="M1782 340h20v4h-20zM1770 344h12v4h-12zM1790 344h12v4h-12zM1758 348h4v4h-4zM1790 348h12v4h-12zM1750 352h4v4h-4zM1782 352h12v4h-12zM1774 356h8v4h-8zM1750 360h4v4h-4zM1766 360h8v4h-8zM1754 364h12v4h-12z"/><path fill="#34458b" d="M1782 344h8v4h-8zM1762 348h28v4h-28zM1754 352h8v4h-8zM1766 352h16v4h-16zM1750 356h4v4h-4zM1766 356h8v4h-8zM1754 360h4v4h-4zM1762 360h4v4h-4z"/><path fill="#383b7e" d="M1762 352h4v4h-4zM1754 356h12v4h-12zM1758 360h4v4h-4z"/></g></g>
<rect x="1736.4" y="90.8" width="295.2" height="285" fill="none" stroke="#333" stroke-width="1.8"/>
<line x1="1747.8" y1="365.6" x2="2022.4" y2="94.6" stroke="#111" stroke-width="1.6"/>
<line x1="1747.8" y1="375.8" x2="1747.8" y2="385.8" stroke="#333" stroke-width="1.8"/>
<line x1="1726.4" y1="365.6" x2="1736.4" y2="365.6" stroke="#333" stroke-width="1.8"/>
<text x="1747.8" y="419.3" font-size="24.8" text-anchor="middle">0</text>
<text x="1712.9" y="374.4" font-size="24.8" text-anchor="end">0</text>
<line x1="1802.7" y1="375.8" x2="1802.7" y2="385.8" stroke="#333" stroke-width="1.8"/>
<line x1="1726.4" y1="311.4" x2="1736.4" y2="311.4" stroke="#333" stroke-width="1.8"/>
<text x="1802.7" y="419.3" font-size="24.8" text-anchor="middle">20</text>
<text x="1712.9" y="320.2" font-size="24.8" text-anchor="end">20</text>
<line x1="1857.6" y1="375.8" x2="1857.6" y2="385.8" stroke="#333" stroke-width="1.8"/>
<line x1="1726.4" y1="257.2" x2="1736.4" y2="257.2" stroke="#333" stroke-width="1.8"/>
<text x="1857.6" y="419.3" font-size="24.8" text-anchor="middle">40</text>
<text x="1712.9" y="266" font-size="24.8" text-anchor="end">40</text>
<line x1="1912.6" y1="375.8" x2="1912.6" y2="385.8" stroke="#333" stroke-width="1.8"/>
<line x1="1726.4" y1="203" x2="1736.4" y2="203" stroke="#333" stroke-width="1.8"/>
<text x="1912.6" y="419.3" font-size="24.8" text-anchor="middle">60</text>
<text x="1712.9" y="211.8" font-size="24.8" text-anchor="end">60</text>
<line x1="1967.5" y1="375.8" x2="1967.5" y2="385.8" stroke="#333" stroke-width="1.8"/>
<line x1="1726.4" y1="148.8" x2="1736.4" y2="148.8" stroke="#333" stroke-width="1.8"/>
<text x="1967.5" y="419.3" font-size="24.8" text-anchor="middle">80</text>
<text x="1712.9" y="157.6" font-size="24.8" text-anchor="end">80</text>
<line x1="2022.4" y1="375.8" x2="2022.4" y2="385.8" stroke="#333" stroke-width="1.8"/>
<line x1="1726.4" y1="94.6" x2="1736.4" y2="94.6" stroke="#333" stroke-width="1.8"/>
<text x="2022.4" y="419.3" font-size="24.8" text-anchor="middle">100</text>
<text x="1712.9" y="103.4" font-size="24.8" text-anchor="end">100</text>
<text x="1657.5" y="235" font-size="25.3" text-anchor="middle" transform="rotate(-90 1657.5 235)">Parental clone B8</text>
<text x="1884" y="450.5" font-size="25.3" text-anchor="middle">J1 subclone</text>
<clipPath id="cl1"><rect x="1311.3" y="567.7" width="294.1" height="285.6"/></clipPath><g clip-path="url(#cl1)"><g filter="url(#bl)"><path fill="#f7fbff" d="M1529 565h4v4h-4zM1525 569h4v4h-4zM1521 573h4v4h-4zM1517 577h4v4h-4zM1513 581h8v4h-8zM1509 585h8v4h-8zM1509 589h4v4h-4zM1505 593h4v4h-4zM1501 597h4v4h-4zM1497 601h4v4h-4zM1493 605h4v4h-4zM1489 609h4v4h-4zM1485 613h4v4h-4zM1481 617h8v4h-8zM1477 621h8v4h-8zM1473 625h8v4h-8zM1469 629h8v4h-8zM1605 629h4v4h-4zM1465 633h8v4h-8zM1601 633h4v4h-4zM1461 637h8v4h-8zM1597 637h4v4h-4zM1457 641h8v4h-8zM1593 641h4v4h-4zM1453 645h8v4h-8zM1589 645h4v4h-4zM1449 649h8v4h-8zM1585 649h4v4h-4zM1445 653h8v4h-8zM1577 653h8v4h-8zM1441 657h8v4h-8zM1573 657h4v4h-4zM1437 661h8v4h-8zM1565 661h8v4h-8zM1433 665h8v4h-8zM1561 665h4v4h-4zM1429 669h8v4h-8zM1553 669h8v4h-8zM1421 673h8v4h-8zM1549 673h4v4h-4zM1393 677h32v4h-32zM1541 677h8v4h-8zM1381 681h40v4h-40zM1537 681h4v4h-4zM1373 685h40v4h-40zM1533 685h4v4h-4zM1365 689h32v4h-32zM1529 689h4v4h-4zM1361 693h20v4h-20zM1521 693h8v4h-8zM1357 697h20v4h-20zM1517 697h8v4h-8zM1353 701h16v4h-16zM1513 701h8v4h-8zM1353 705h12v4h-12zM1509 705h8v4h-8zM1349 709h16v4h-16zM1505 709h8v4h-8zM1349 713h12v4h-12zM1501 713h4v4h-4zM1345 717h16v4h-16zM1497 717h4v4h-4zM1345 721h12v4h-12zM1493 721h4v4h-4zM1345 725h12v4h-12zM1489 725h4v4h-4zM1345 729h12v4h-12zM1485 729h4v4h-4zM1345 733h12v4h-12zM1481 733h4v4h-4zM1345 737h8v4h-8zM1477 737h4v4h-4zM1345 741h8v4h-8zM1473 741h4v4h-4zM1341 745h12v4h-12zM1469 745h4v4h-4zM1341 749h8v4h-8zM1465 749h4v4h-4zM1341 753h4v4h-4zM1461 753h4v4h-4zM1337 757h8v4h-8zM1457 757h4v4h-4zM1333 761h8v4h-8zM1453 761h4v4h-4zM1329 765h8v4h-8zM1449 765h4v4h-4zM1325 769h8v4h-8zM1441 769h8v4h-8zM1321 773h8v4h-8zM1437 773h8v4h-8zM1317 777h8v4h-8zM1433 777h8v4h-8zM1317 781h4v4h-4zM1429 781h8v4h-8zM1313 785h4v4h-4zM1425 785h8v4h-8zM1309 789h4v4h-4zM1421 789h8v4h-8zM1417 793h8v4h-8zM1413 797h8v4h-8zM1409 801h8v4h-8zM1405 805h8v4h-8zM1401 809h8v4h-8zM1397 813h8v4h-8zM1393 817h4v4h-4zM1389 821h4v4h-4zM1385 825h4v4h-4zM1381 829h4v4h-4zM1377 833h4v4h-4zM1373 837h4v4h-4zM1369 841h4v4h-4zM1365 845h4v4h-4zM1361 849h4v4h-4zM1357 853h4v4h-4z"/><path fill="#f0f6fd" d="M1533 565h8v4h-8zM1529 569h8v4h-8zM1525 573h8v4h-8zM1521 577h8v4h-8zM1521 581h4v4h-4zM1517 585h4v4h-4zM1513 589h4v4h-4zM1509 593h4v4h-4zM1505 597h4v4h-4zM1501 601h8v4h-8zM1497 605h8v4h-8zM1493 609h8v4h-8zM1489 613h8v4h-8zM1489 617h4v4h-4zM1485 621h4v4h-4zM1481 625h4v4h-4zM1605 625h4v4h-4zM1477 629h4v4h-4zM1601 629h4v4h-4zM1473 633h4v4h-4zM1597 633h4v4h-4zM1469 637h4v4h-4zM1593 637h4v4h-4zM1465 641h4v4h-4zM1585 641h8v4h-8zM1461 645h4v4h-4zM1581 645h8v4h-8zM1457 649h4v4h-4zM1577 649h8v4h-8zM1453 653h4v4h-4zM1569 653h8v4h-8zM1449 657h4v4h-4zM1565 657h8v4h-8zM1445 661h4v4h-4zM1557 661h8v4h-8zM1441 665h4v4h-4zM1553 665h8v4h-8zM1437 669h4v4h-4zM1545 669h8v4h-8zM1429 673h8v4h-8zM1541 673h8v4h-8zM1425 677h8v4h-8zM1533 677h8v4h-8zM1421 681h8v4h-8zM1529 681h8v4h-8zM1413 685h12v4h-12zM1525 685h8v4h-8zM1397 689h24v4h-24zM1521 689h8v4h-8zM1381 693h36v4h-36zM1517 693h4v4h-4zM1377 697h32v4h-32zM1513 697h4v4h-4zM1369 701h36v4h-36zM1505 701h8v4h-8zM1365 705h32v4h-32zM1501 705h8v4h-8zM1365 709h28v4h-28zM1497 709h8v4h-8zM1361 713h24v4h-24zM1493 713h8v4h-8zM1361 717h20v4h-20zM1489 717h8v4h-8zM1357 721h20v4h-20zM1485 721h8v4h-8zM1357 725h20v4h-20zM1481 725h8v4h-8zM1357 729h16v4h-16zM1477 729h8v4h-8zM1357 733h12v4h-12zM1473 733h8v4h-8zM1353 737h16v4h-16zM1469 737h8v4h-8zM1353 741h12v4h-12zM1465 741h8v4h-8zM1353 745h8v4h-8zM1461 745h8v4h-8zM1349 749h8v4h-8zM1457 749h8v4h-8zM1345 753h8v4h-8zM1453 753h8v4h-8zM1345 757h4v4h-4zM1449 757h8v4h-8zM1341 761h8v4h-8zM1445 761h8v4h-8zM1337 765h8v4h-8zM1441 765h8v4h-8zM1333 769h8v4h-8zM1437 769h4v4h-4zM1329 773h8v4h-8zM1433 773h4v4h-4zM1325 777h8v4h-8zM1429 777h4v4h-4zM1321 781h8v4h-8zM1425 781h4v4h-4zM1317 785h8v4h-8zM1421 785h4v4h-4zM1313 789h8v4h-8zM1417 789h4v4h-4zM1309 793h8v4h-8zM1413 793h4v4h-4zM1309 797h4v4h-4zM1405 797h8v4h-8zM1401 801h8v4h-8zM1397 805h8v4h-8zM1393 809h8v4h-8zM1389 813h8v4h-8zM1385 817h8v4h-8zM1381 821h8v4h-8zM1377 825h8v4h-8zM1373 829h8v4h-8zM1369 833h8v4h-8zM1365 837h8v4h-8zM1361 841h8v4h-8zM1357 845h8v4h-8zM1353 849h8v4h-8zM1349 853h8v4h-8z"/><path fill="#e8f1fa" d="M1541 565h4v4h-4zM1605 565h4v4h-4zM1537 569h4v4h-4zM1533 573h4v4h-4zM1529 577h4v4h-4zM1525 581h4v4h-4zM1521 585h4v4h-4zM1517 589h4v4h-4zM1513 593h4v4h-4zM1509 597h8v4h-8zM1509 601h4v4h-4zM1505 605h4v4h-4zM1501 609h4v4h-4zM1497 613h4v4h-4zM1493 617h4v4h-4zM1489 621h8v4h-8zM1605 621h4v4h-4zM1485 625h8v4h-8zM1601 625h4v4h-4zM1481 629h8v4h-8zM1597 629h4v4h-4zM1477 633h8v4h-8zM1589 633h8v4h-8zM1473 637h8v4h-8zM1585 637h8v4h-8zM1469 641h8v4h-8zM1581 641h4v4h-4zM1465 645h8v4h-8zM1577 645h4v4h-4zM1461 649h8v4h-8zM1569 649h8v4h-8zM1457 653h8v4h-8zM1565 653h4v4h-4zM1453 657h8v4h-8zM1557 657h8v4h-8zM1449 661h8v4h-8zM1549 661h8v4h-8zM1445 665h8v4h-8zM1545 665h8v4h-8zM1441 669h8v4h-8zM1537 669h8v4h-8zM1437 673h8v4h-8zM1533 673h8v4h-8zM1433 677h8v4h-8zM1525 677h8v4h-8zM1429 681h8v4h-8zM1521 681h8v4h-8zM1425 685h8v4h-8zM1517 685h8v4h-8zM1421 689h8v4h-8zM1513 689h8v4h-8zM1417 693h8v4h-8zM1509 693h8v4h-8zM1409 697h12v4h-12zM1505 697h8v4h-8zM1405 701h8v4h-8zM1501 701h4v4h-4zM1397 705h12v4h-12zM1497 705h4v4h-4zM1393 709h12v4h-12zM1493 709h4v4h-4zM1385 713h16v4h-16zM1485 713h8v4h-8zM1381 717h16v4h-16zM1481 717h8v4h-8zM1377 721h16v4h-16zM1477 721h8v4h-8zM1377 725h12v4h-12zM1473 725h8v4h-8zM1373 729h12v4h-12zM1469 729h8v4h-8zM1369 733h12v4h-12zM1465 733h8v4h-8zM1369 737h8v4h-8zM1461 737h8v4h-8zM1365 741h8v4h-8zM1457 741h8v4h-8zM1361 745h8v4h-8zM1453 745h8v4h-8zM1357 749h8v4h-8zM1449 749h8v4h-8zM1353 753h8v4h-8zM1445 753h8v4h-8zM1349 757h8v4h-8zM1441 757h8v4h-8zM1349 761h4v4h-4zM1437 761h8v4h-8zM1345 765h4v4h-4zM1433 765h8v4h-8zM1341 769h4v4h-4zM1429 769h8v4h-8zM1337 773h4v4h-4zM1425 773h8v4h-8zM1333 777h4v4h-4zM1421 777h8v4h-8zM1329 781h4v4h-4zM1417 781h8v4h-8zM1325 785h4v4h-4zM1413 785h8v4h-8zM1321 789h8v4h-8zM1409 789h8v4h-8zM1317 793h8v4h-8zM1405 793h8v4h-8zM1313 797h8v4h-8zM1401 797h4v4h-4zM1309 801h8v4h-8zM1397 801h4v4h-4zM1309 805h4v4h-4zM1393 805h4v4h-4zM1389 809h4v4h-4zM1385 813h4v4h-4zM1377 817h8v4h-8zM1373 821h8v4h-8zM1369 825h8v4h-8zM1365 829h8v4h-8zM1361 833h8v4h-8zM1357 837h8v4h-8zM1353 841h8v4h-8zM1349 845h8v4h-8zM1345 849h8v4h-8zM1341 853h8v4h-8z"/><path fill="#e0ecf8" d="M1545 565h4v4h-4zM1601 565h4v4h-4zM1605 569h4v4h-4zM1533 577h4v4h-4zM1529 581h4v4h-4zM1525 585h4v4h-4zM1521 589h4v4h-4zM1517 593h4v4h-4zM1517 597h4v4h-4zM1513 601h4v4h-4zM1509 605h4v4h-4zM1505 609h4v4h-4zM1501 613h8v4h-8zM1497 617h8v4h-8zM1605 617h4v4h-4zM1497 621h4v4h-4zM1601 621h4v4h-4zM1493 625h4v4h-4zM1597 625h4v4h-4zM1489 629h4v4h-4zM1593 629h4v4h-4zM1485 633h4v4h-4zM1585 633h4v4h-4zM1481 637h4v4h-4zM1581 637h4v4h-4zM1477 641h8v4h-8zM1577 641h4v4h-4zM1473 645h8v4h-8zM1569 645h8v4h-8zM1469 649h8v4h-8zM1565 649h4v4h-4zM1465 653h8v4h-8zM1557 653h8v4h-8zM1461 657h8v4h-8zM1549 657h8v4h-8zM1457 661h8v4h-8zM1545 661h4v4h-4zM1453 665h8v4h-8zM1537 665h8v4h-8zM1449 669h8v4h-8zM1529 669h8v4h-8zM1445 673h8v4h-8zM1525 673h8v4h-8zM1441 677h8v4h-8zM1521 677h4v4h-4zM1437 681h8v4h-8zM1517 681h4v4h-4zM1433 685h8v4h-8zM1509 685h8v4h-8zM1429 689h8v4h-8zM1505 689h8v4h-8zM1425 693h8v4h-8zM1501 693h8v4h-8zM1421 697h8v4h-8zM1497 697h8v4h-8zM1413 701h8v4h-8zM1493 701h8v4h-8zM1409 705h8v4h-8zM1489 705h8v4h-8zM1405 709h8v4h-8zM1485 709h8v4h-8zM1401 713h8v4h-8zM1481 713h4v4h-4zM1397 717h8v4h-8zM1477 717h4v4h-4zM1393 721h8v4h-8zM1473 721h4v4h-4zM1389 725h8v4h-8zM1469 725h4v4h-4zM1385 729h8v4h-8zM1465 729h4v4h-4zM1381 733h8v4h-8zM1461 733h4v4h-4zM1377 737h8v4h-8zM1457 737h4v4h-4zM1373 741h8v4h-8zM1449 741h8v4h-8zM1369 745h8v4h-8zM1445 745h8v4h-8zM1365 749h8v4h-8zM1441 749h8v4h-8zM1361 753h8v4h-8zM1437 753h8v4h-8zM1357 757h8v4h-8zM1433 757h8v4h-8zM1353 761h8v4h-8zM1429 761h8v4h-8zM1349 765h8v4h-8zM1425 765h8v4h-8zM1345 769h8v4h-8zM1421 769h8v4h-8zM1341 773h8v4h-8zM1417 773h8v4h-8zM1337 777h8v4h-8zM1413 777h8v4h-8zM1333 781h8v4h-8zM1409 781h8v4h-8zM1329 785h8v4h-8zM1405 785h8v4h-8zM1329 789h4v4h-4zM1401 789h8v4h-8zM1325 793h4v4h-4zM1397 793h8v4h-8zM1321 797h4v4h-4zM1393 797h8v4h-8zM1317 801h8v4h-8zM1389 801h8v4h-8zM1313 805h8v4h-8zM1385 805h8v4h-8zM1309 809h8v4h-8zM1381 809h8v4h-8zM1309 813h4v4h-4zM1377 813h8v4h-8zM1373 817h4v4h-4zM1369 821h4v4h-4zM1361 825h8v4h-8zM1357 829h8v4h-8zM1353 833h8v4h-8zM1349 837h8v4h-8zM1345 841h8v4h-8zM1341 845h8v4h-8zM1309 849h4v4h-4zM1337 849h8v4h-8zM1309 853h32v4h-32z"/><path fill="#d8e7f5" d="M1549 565h4v4h-4zM1597 565h4v4h-4zM1541 569h4v4h-4zM1537 573h4v4h-4zM1529 585h4v4h-4zM1525 589h4v4h-4zM1521 593h4v4h-4zM1521 597h4v4h-4zM1517 601h4v4h-4zM1513 605h4v4h-4zM1509 609h4v4h-4zM1509 613h4v4h-4zM1505 617h4v4h-4zM1501 621h4v4h-4zM1497 625h4v4h-4zM1593 625h4v4h-4zM1493 629h8v4h-8zM1589 629h4v4h-4zM1489 633h8v4h-8zM1581 633h4v4h-4zM1485 637h8v4h-8zM1577 637h4v4h-4zM1485 641h4v4h-4zM1573 641h4v4h-4zM1481 645h4v4h-4zM1565 645h4v4h-4zM1477 649h4v4h-4zM1557 649h8v4h-8zM1473 653h4v4h-4zM1549 653h8v4h-8zM1469 657h4v4h-4zM1541 657h8v4h-8zM1465 661h4v4h-4zM1537 661h8v4h-8zM1461 665h4v4h-4zM1529 665h8v4h-8zM1457 669h4v4h-4zM1525 669h4v4h-4zM1453 673h4v4h-4zM1517 673h8v4h-8zM1449 677h4v4h-4zM1513 677h8v4h-8zM1445 681h4v4h-4zM1509 681h8v4h-8zM1441 685h4v4h-4zM1505 685h4v4h-4zM1437 689h4v4h-4zM1501 689h4v4h-4zM1433 693h4v4h-4zM1497 693h4v4h-4zM1429 697h4v4h-4zM1489 697h8v4h-8zM1421 701h8v4h-8zM1485 701h8v4h-8zM1417 705h8v4h-8zM1481 705h8v4h-8zM1413 709h8v4h-8zM1477 709h8v4h-8zM1409 713h8v4h-8zM1473 713h8v4h-8zM1405 717h8v4h-8zM1469 717h8v4h-8zM1401 721h8v4h-8zM1465 721h8v4h-8zM1397 725h8v4h-8zM1461 725h8v4h-8zM1393 729h8v4h-8zM1457 729h8v4h-8zM1389 733h8v4h-8zM1453 733h8v4h-8zM1385 737h8v4h-8zM1449 737h8v4h-8zM1381 741h8v4h-8zM1445 741h4v4h-4zM1377 745h8v4h-8zM1441 745h4v4h-4zM1373 749h8v4h-8zM1437 749h4v4h-4zM1369 753h8v4h-8zM1433 753h4v4h-4zM1365 757h8v4h-8zM1429 757h4v4h-4zM1361 761h8v4h-8zM1425 761h4v4h-4zM1357 765h8v4h-8zM1421 765h4v4h-4zM1353 769h8v4h-8zM1417 769h4v4h-4zM1349 773h8v4h-8zM1413 773h4v4h-4zM1345 777h8v4h-8zM1409 777h4v4h-4zM1341 781h8v4h-8zM1405 781h4v4h-4zM1337 785h8v4h-8zM1401 785h4v4h-4zM1333 789h8v4h-8zM1397 789h4v4h-4zM1329 793h8v4h-8zM1389 793h8v4h-8zM1325 797h8v4h-8zM1385 797h8v4h-8zM1325 801h4v4h-4zM1381 801h8v4h-8zM1321 805h4v4h-4zM1377 805h8v4h-8zM1317 809h8v4h-8zM1373 809h8v4h-8zM1313 813h8v4h-8zM1369 813h8v4h-8zM1309 817h8v4h-8zM1365 817h8v4h-8zM1309 821h4v4h-4zM1361 821h8v4h-8zM1309 825h4v4h-4zM1353 825h8v4h-8zM1309 829h4v4h-4zM1349 829h8v4h-8zM1309 833h4v4h-4zM1345 833h8v4h-8zM1309 837h4v4h-4zM1341 837h8v4h-8zM1309 841h4v4h-4zM1337 841h8v4h-8zM1309 845h8v4h-8zM1333 845h8v4h-8zM1313 849h24v4h-24z"/><path fill="#d0e2f2" d="M1553 565h4v4h-4zM1593 565h4v4h-4zM1545 569h4v4h-4zM1601 569h4v4h-4zM1541 573h4v4h-4zM1605 573h4v4h-4zM1537 577h4v4h-4zM1533 581h4v4h-4zM1533 585h4v4h-4zM1529 589h4v4h-4zM1525 593h4v4h-4zM1525 597h4v4h-4zM1521 601h4v4h-4zM1517 605h4v4h-4zM1513 609h4v4h-4zM1513 613h4v4h-4zM1605 613h4v4h-4zM1509 617h4v4h-4zM1601 617h4v4h-4zM1505 621h4v4h-4zM1597 621h4v4h-4zM1501 625h8v4h-8zM1589 625h4v4h-4zM1501 629h4v4h-4zM1585 629h4v4h-4zM1497 633h4v4h-4zM1577 633h4v4h-4zM1493 637h4v4h-4zM1573 637h4v4h-4zM1489 641h8v4h-8zM1565 641h8v4h-8zM1485 645h8v4h-8zM1557 645h8v4h-8zM1481 649h8v4h-8zM1549 649h8v4h-8zM1477 653h8v4h-8zM1541 653h8v4h-8zM1473 657h8v4h-8zM1537 657h4v4h-4zM1469 661h8v4h-8zM1529 661h8v4h-8zM1465 665h8v4h-8zM1521 665h8v4h-8zM1461 669h8v4h-8zM1517 669h8v4h-8zM1457 673h8v4h-8zM1509 673h8v4h-8zM1453 677h8v4h-8zM1505 677h8v4h-8zM1449 681h8v4h-8zM1501 681h8v4h-8zM1445 685h8v4h-8zM1497 685h8v4h-8zM1441 689h8v4h-8zM1493 689h8v4h-8zM1437 693h8v4h-8zM1489 693h8v4h-8zM1433 697h8v4h-8zM1481 697h8v4h-8zM1429 701h8v4h-8zM1477 701h8v4h-8zM1425 705h8v4h-8zM1473 705h8v4h-8zM1421 709h8v4h-8zM1469 709h8v4h-8zM1417 713h8v4h-8zM1465 713h8v4h-8zM1413 717h8v4h-8zM1461 717h8v4h-8zM1409 721h8v4h-8zM1457 721h8v4h-8zM1405 725h8v4h-8zM1453 725h8v4h-8zM1401 729h8v4h-8zM1449 729h8v4h-8zM1397 733h8v4h-8zM1445 733h8v4h-8zM1393 737h8v4h-8zM1441 737h8v4h-8zM1389 741h8v4h-8zM1437 741h8v4h-8zM1385 745h4v4h-4zM1433 745h8v4h-8zM1381 749h4v4h-4zM1429 749h8v4h-8zM1377 753h4v4h-4zM1425 753h8v4h-8zM1373 757h4v4h-4zM1421 757h8v4h-8zM1369 761h4v4h-4zM1417 761h8v4h-8zM1365 765h4v4h-4zM1413 765h8v4h-8zM1361 769h8v4h-8zM1409 769h8v4h-8zM1357 773h8v4h-8zM1405 773h8v4h-8zM1353 777h8v4h-8zM1401 777h8v4h-8zM1349 781h8v4h-8zM1397 781h8v4h-8zM1345 785h8v4h-8zM1393 785h8v4h-8zM1341 789h8v4h-8zM1389 789h8v4h-8zM1337 793h8v4h-8zM1381 793h8v4h-8zM1333 797h8v4h-8zM1377 797h8v4h-8zM1329 801h8v4h-8zM1373 801h8v4h-8zM1325 805h8v4h-8zM1369 805h8v4h-8zM1325 809h8v4h-8zM1365 809h8v4h-8zM1321 813h8v4h-8zM1361 813h8v4h-8zM1317 817h8v4h-8zM1357 817h8v4h-8zM1313 821h12v4h-12zM1349 821h12v4h-12zM1313 825h8v4h-8zM1345 825h8v4h-8zM1313 829h8v4h-8zM1341 829h8v4h-8zM1313 833h8v4h-8zM1337 833h8v4h-8zM1313 837h12v4h-12zM1329 837h12v4h-12zM1313 841h24v4h-24zM1317 845h16v4h-16z"/><path fill="#c9ddf0" d="M1589 565h4v4h-4zM1549 569h4v4h-4zM1597 569h4v4h-4zM1601 573h4v4h-4zM1605 577h4v4h-4zM1537 581h4v4h-4zM1533 589h4v4h-4zM1529 593h4v4h-4zM1525 601h4v4h-4zM1521 605h4v4h-4zM1517 609h4v4h-4zM1605 609h4v4h-4zM1517 613h4v4h-4zM1601 613h4v4h-4zM1513 617h4v4h-4zM1597 617h4v4h-4zM1509 621h4v4h-4zM1593 621h4v4h-4zM1509 625h4v4h-4zM1585 625h4v4h-4zM1505 629h4v4h-4zM1581 629h4v4h-4zM1501 633h4v4h-4zM1573 633h4v4h-4zM1497 637h8v4h-8zM1569 637h4v4h-4zM1497 641h4v4h-4zM1561 641h4v4h-4zM1493 645h4v4h-4zM1553 645h4v4h-4zM1489 649h8v4h-8zM1541 649h8v4h-8zM1485 653h8v4h-8zM1533 653h8v4h-8zM1481 657h8v4h-8zM1525 657h12v4h-12zM1477 661h8v4h-8zM1517 661h12v4h-12zM1473 665h8v4h-8zM1513 665h8v4h-8zM1469 669h8v4h-8zM1505 669h12v4h-12zM1465 673h8v4h-8zM1501 673h8v4h-8zM1461 677h12v4h-12zM1497 677h8v4h-8zM1457 681h12v4h-12zM1493 681h8v4h-8zM1453 685h12v4h-12zM1485 685h12v4h-12zM1449 689h12v4h-12zM1481 689h12v4h-12zM1445 693h12v4h-12zM1477 693h12v4h-12zM1441 697h12v4h-12zM1473 697h8v4h-8zM1437 701h12v4h-12zM1465 701h12v4h-12zM1433 705h12v4h-12zM1461 705h12v4h-12zM1429 709h12v4h-12zM1457 709h12v4h-12zM1425 713h12v4h-12zM1453 713h12v4h-12zM1421 717h12v4h-12zM1449 717h12v4h-12zM1417 721h12v4h-12zM1445 721h12v4h-12zM1413 725h12v4h-12zM1441 725h12v4h-12zM1409 729h12v4h-12zM1437 729h12v4h-12zM1405 733h12v4h-12zM1433 733h12v4h-12zM1401 737h12v4h-12zM1429 737h12v4h-12zM1397 741h8v4h-8zM1425 741h12v4h-12zM1389 745h12v4h-12zM1421 745h12v4h-12zM1385 749h12v4h-12zM1417 749h12v4h-12zM1381 753h12v4h-12zM1413 753h12v4h-12zM1377 757h12v4h-12zM1409 757h12v4h-12zM1373 761h12v4h-12zM1405 761h12v4h-12zM1369 765h12v4h-12zM1401 765h12v4h-12zM1369 769h8v4h-8zM1397 769h12v4h-12zM1365 773h8v4h-8zM1393 773h12v4h-12zM1361 777h8v4h-8zM1389 777h12v4h-12zM1357 781h12v4h-12zM1385 781h12v4h-12zM1353 785h12v4h-12zM1381 785h12v4h-12zM1349 789h12v4h-12zM1373 789h16v4h-16zM1345 793h12v4h-12zM1369 793h12v4h-12zM1341 797h12v4h-12zM1365 797h12v4h-12zM1337 801h16v4h-16zM1357 801h16v4h-16zM1333 805h36v4h-36zM1333 809h32v4h-32zM1329 813h32v4h-32zM1325 817h32v4h-32zM1325 821h24v4h-24zM1321 825h24v4h-24zM1321 829h20v4h-20zM1321 833h16v4h-16zM1325 837h4v4h-4z"/><path fill="#bdd7ec" d="M1557 565h8v4h-8zM1585 565h4v4h-4zM1545 573h4v4h-4zM1541 577h4v4h-4zM1605 581h4v4h-4zM1537 585h4v4h-4zM1533 593h4v4h-4zM1529 597h4v4h-4zM1529 601h4v4h-4zM1525 605h4v4h-4zM1605 605h4v4h-4zM1521 609h4v4h-4zM1521 613h4v4h-4zM1517 617h4v4h-4zM1513 621h8v4h-8zM1589 621h4v4h-4zM1513 625h4v4h-4zM1581 625h4v4h-4zM1509 629h4v4h-4zM1573 629h8v4h-8zM1505 633h8v4h-8zM1569 633h4v4h-4zM1505 637h4v4h-4zM1561 637h8v4h-8zM1501 641h8v4h-8zM1553 641h8v4h-8zM1497 645h12v4h-12zM1541 645h12v4h-12zM1497 649h8v4h-8zM1533 649h8v4h-8zM1493 653h12v4h-12zM1521 653h12v4h-12zM1489 657h36v4h-36zM1485 661h32v4h-32zM1481 665h32v4h-32zM1477 669h28v4h-28zM1473 673h28v4h-28zM1473 677h24v4h-24zM1469 681h24v4h-24zM1465 685h20v4h-20zM1461 689h20v4h-20zM1457 693h20v4h-20zM1453 697h20v4h-20zM1449 701h16v4h-16zM1445 705h16v4h-16zM1441 709h16v4h-16zM1437 713h16v4h-16zM1433 717h16v4h-16zM1429 721h16v4h-16zM1425 725h16v4h-16zM1421 729h16v4h-16zM1417 733h16v4h-16zM1413 737h16v4h-16zM1405 741h20v4h-20zM1401 745h20v4h-20zM1397 749h20v4h-20zM1393 753h20v4h-20zM1389 757h20v4h-20zM1385 761h20v4h-20zM1381 765h20v4h-20zM1377 769h20v4h-20zM1373 773h20v4h-20zM1369 777h20v4h-20zM1369 781h16v4h-16zM1365 785h16v4h-16zM1361 789h12v4h-12zM1357 793h12v4h-12zM1353 797h12v4h-12zM1353 801h4v4h-4z"/><path fill="#b1d2e8" d="M1565 565h4v4h-4zM1577 565h8v4h-8zM1553 569h4v4h-4zM1593 569h4v4h-4zM1549 573h4v4h-4zM1597 573h4v4h-4zM1545 577h4v4h-4zM1601 577h4v4h-4zM1541 581h4v4h-4zM1605 585h4v4h-4zM1537 589h4v4h-4zM1533 597h4v4h-4zM1605 601h4v4h-4zM1529 605h4v4h-4zM1525 609h4v4h-4zM1601 609h4v4h-4zM1525 613h4v4h-4zM1597 613h4v4h-4zM1521 617h4v4h-4zM1593 617h4v4h-4zM1521 621h4v4h-4zM1585 621h4v4h-4zM1517 625h4v4h-4zM1577 625h4v4h-4zM1513 629h8v4h-8zM1569 629h4v4h-4zM1513 633h8v4h-8zM1565 633h4v4h-4zM1509 637h8v4h-8zM1553 637h8v4h-8zM1509 641h12v4h-12zM1541 641h12v4h-12zM1509 645h32v4h-32zM1505 649h28v4h-28zM1505 653h16v4h-16z"/><path fill="#a4cce3" d="M1569 565h8v4h-8zM1557 569h4v4h-4zM1589 569h4v4h-4zM1601 581h4v4h-4zM1541 585h4v4h-4zM1605 589h4v4h-4zM1537 593h4v4h-4zM1605 593h4v4h-4zM1605 597h4v4h-4zM1533 601h4v4h-4zM1533 605h4v4h-4zM1601 605h4v4h-4zM1529 609h4v4h-4zM1529 613h4v4h-4zM1525 617h4v4h-4zM1589 617h4v4h-4zM1525 621h4v4h-4zM1581 621h4v4h-4zM1521 625h8v4h-8zM1573 625h4v4h-4zM1521 629h8v4h-8zM1565 629h4v4h-4zM1521 633h8v4h-8zM1557 633h8v4h-8zM1517 637h36v4h-36zM1521 641h20v4h-20z"/><path fill="#95c5df" d="M1561 569h4v4h-4zM1585 569h4v4h-4zM1553 573h4v4h-4zM1593 573h4v4h-4zM1549 577h4v4h-4zM1597 577h4v4h-4zM1545 581h4v4h-4zM1541 589h4v4h-4zM1537 597h4v4h-4zM1537 601h4v4h-4zM1533 609h4v4h-4zM1597 609h4v4h-4zM1533 613h4v4h-4zM1593 613h4v4h-4zM1529 617h4v4h-4zM1529 621h4v4h-4zM1577 621h4v4h-4zM1529 625h4v4h-4zM1565 625h8v4h-8zM1529 629h8v4h-8zM1557 629h8v4h-8zM1529 633h28v4h-28z"/><path fill="#84bcdc" d="M1565 569h4v4h-4zM1577 569h8v4h-8zM1589 573h4v4h-4zM1545 585h4v4h-4zM1601 585h4v4h-4zM1601 589h4v4h-4zM1541 593h4v4h-4zM1541 597h4v4h-4zM1601 597h4v4h-4zM1601 601h4v4h-4zM1537 605h4v4h-4zM1537 609h4v4h-4zM1537 613h4v4h-4zM1533 617h8v4h-8zM1585 617h4v4h-4zM1533 621h8v4h-8zM1573 621h4v4h-4zM1533 625h12v4h-12zM1557 625h8v4h-8zM1537 629h20v4h-20z"/><path fill="#74b3d8" d="M1569 569h8v4h-8zM1557 573h4v4h-4zM1553 577h4v4h-4zM1593 577h4v4h-4zM1549 581h4v4h-4zM1597 581h4v4h-4zM1545 589h4v4h-4zM1601 593h4v4h-4zM1541 601h4v4h-4zM1541 605h4v4h-4zM1597 605h4v4h-4zM1541 609h4v4h-4zM1593 609h4v4h-4zM1541 613h4v4h-4zM1589 613h4v4h-4zM1541 617h4v4h-4zM1581 617h4v4h-4zM1541 621h8v4h-8zM1561 621h12v4h-12zM1545 625h12v4h-12z"/><path fill="#65aad4" d="M1561 573h4v4h-4zM1585 573h4v4h-4zM1597 585h4v4h-4zM1545 593h4v4h-4zM1545 597h4v4h-4zM1545 601h4v4h-4zM1597 601h4v4h-4zM1545 605h4v4h-4zM1545 609h4v4h-4zM1545 613h4v4h-4zM1585 613h4v4h-4zM1545 617h8v4h-8zM1573 617h8v4h-8zM1549 621h12v4h-12z"/><path fill="#58a1cf" d="M1565 573h4v4h-4zM1581 573h4v4h-4zM1557 577h4v4h-4zM1589 577h4v4h-4zM1553 581h4v4h-4zM1593 581h4v4h-4zM1549 585h4v4h-4zM1597 589h4v4h-4zM1597 593h4v4h-4zM1597 597h4v4h-4zM1593 605h4v4h-4zM1549 609h4v4h-4zM1589 609h4v4h-4zM1549 613h8v4h-8zM1581 613h4v4h-4zM1553 617h20v4h-20z"/><path fill="#4b98c9" d="M1569 573h12v4h-12zM1549 589h4v4h-4zM1549 593h4v4h-4zM1549 601h4v4h-4zM1549 605h4v4h-4zM1553 609h4v4h-4zM1557 613h4v4h-4zM1577 613h4v4h-4z"/><path fill="#3e8ec4" d="M1561 577h4v4h-4zM1585 577h4v4h-4zM1557 581h4v4h-4zM1589 581h4v4h-4zM1553 585h4v4h-4zM1593 585h4v4h-4zM1549 597h4v4h-4zM1593 601h4v4h-4zM1553 605h4v4h-4zM1589 605h4v4h-4zM1585 609h4v4h-4zM1561 613h16v4h-16z"/><path fill="#3484bf" d="M1565 577h4v4h-4zM1581 577h4v4h-4zM1553 589h4v4h-4zM1593 589h4v4h-4zM1593 593h4v4h-4zM1593 597h4v4h-4zM1553 601h4v4h-4zM1557 609h4v4h-4zM1581 609h4v4h-4z"/><path fill="#2979b9" d="M1569 577h12v4h-12zM1561 581h4v4h-4zM1585 581h4v4h-4zM1557 585h4v4h-4zM1589 585h4v4h-4zM1553 593h4v4h-4zM1553 597h4v4h-4zM1589 601h4v4h-4zM1557 605h4v4h-4zM1585 605h4v4h-4zM1561 609h8v4h-8zM1577 609h4v4h-4z"/><path fill="#226fb4" d="M1589 589h4v4h-4zM1589 597h4v4h-4zM1557 601h4v4h-4zM1561 605h4v4h-4zM1569 609h8v4h-8z"/><path fill="#2568af" d="M1565 581h8v4h-8zM1577 581h8v4h-8zM1561 585h4v4h-4zM1585 585h4v4h-4zM1557 589h4v4h-4zM1557 593h4v4h-4zM1589 593h4v4h-4zM1557 597h4v4h-4zM1585 601h4v4h-4zM1565 605h4v4h-4zM1581 605h4v4h-4z"/><path fill="#2761aa" d="M1573 581h4v4h-4zM1585 589h4v4h-4zM1585 597h4v4h-4zM1561 601h4v4h-4zM1569 605h12v4h-12z"/><path fill="#2b59a5" d="M1565 585h4v4h-4zM1581 585h4v4h-4zM1561 589h4v4h-4zM1561 593h4v4h-4zM1585 593h4v4h-4zM1561 597h4v4h-4zM1565 601h4v4h-4zM1581 601h4v4h-4z"/><path fill="#2f4f98" d="M1569 585h12v4h-12zM1565 589h4v4h-4zM1581 589h4v4h-4zM1581 593h4v4h-4zM1565 597h4v4h-4zM1581 597h4v4h-4zM1569 601h12v4h-12z"/><path fill="#34458b" d="M1569 589h12v4h-12zM1565 593h4v4h-4zM1569 597h4v4h-4zM1577 597h4v4h-4z"/><path fill="#383b7e" d="M1569 593h12v4h-12zM1573 597h4v4h-4z"/></g></g>
<rect x="1311.3" y="567.7" width="294.1" height="285.6" fill="none" stroke="#333" stroke-width="1.8"/>
<line x1="1322" y1="842.4" x2="1595.5" y2="577.8" stroke="#111" stroke-width="1.6"/>
<line x1="1322" y1="853.3" x2="1322" y2="863.3" stroke="#333" stroke-width="1.8"/>
<line x1="1301.3" y1="842.4" x2="1311.3" y2="842.4" stroke="#333" stroke-width="1.8"/>
<text x="1322" y="897" font-size="24.8" text-anchor="middle">0</text>
<text x="1287.8" y="851.2" font-size="24.8" text-anchor="end">0</text>
<line x1="1376.7" y1="853.3" x2="1376.7" y2="863.3" stroke="#333" stroke-width="1.8"/>
<line x1="1301.3" y1="789.5" x2="1311.3" y2="789.5" stroke="#333" stroke-width="1.8"/>
<text x="1376.7" y="897" font-size="24.8" text-anchor="middle">20</text>
<text x="1287.8" y="798.3" font-size="24.8" text-anchor="end">20</text>
<line x1="1431.4" y1="853.3" x2="1431.4" y2="863.3" stroke="#333" stroke-width="1.8"/>
<line x1="1301.3" y1="736.6" x2="1311.3" y2="736.6" stroke="#333" stroke-width="1.8"/>
<text x="1431.4" y="897" font-size="24.8" text-anchor="middle">40</text>
<text x="1287.8" y="745.4" font-size="24.8" text-anchor="end">40</text>
<line x1="1486.1" y1="853.3" x2="1486.1" y2="863.3" stroke="#333" stroke-width="1.8"/>
<line x1="1301.3" y1="683.6" x2="1311.3" y2="683.6" stroke="#333" stroke-width="1.8"/>
<text x="1486.1" y="897" font-size="24.8" text-anchor="middle">60</text>
<text x="1287.8" y="692.4" font-size="24.8" text-anchor="end">60</text>
<line x1="1540.8" y1="853.3" x2="1540.8" y2="863.3" stroke="#333" stroke-width="1.8"/>
<line x1="1301.3" y1="630.7" x2="1311.3" y2="630.7" stroke="#333" stroke-width="1.8"/>
<text x="1540.8" y="897" font-size="24.8" text-anchor="middle">80</text>
<text x="1287.8" y="639.5" font-size="24.8" text-anchor="end">80</text>
<line x1="1595.5" y1="853.3" x2="1595.5" y2="863.3" stroke="#333" stroke-width="1.8"/>
<line x1="1301.3" y1="577.8" x2="1311.3" y2="577.8" stroke="#333" stroke-width="1.8"/>
<text x="1595.5" y="897" font-size="24.8" text-anchor="middle">100</text>
<text x="1287.8" y="586.6" font-size="24.8" text-anchor="end">100</text>
<text x="1231.5" y="705" font-size="25.3" text-anchor="middle" transform="rotate(-90 1231.5 705)">Parental clone B8</text>
<text x="1457.8" y="941" font-size="25.3" text-anchor="middle">Starting culture</text>
<clipPath id="cl2"><rect x="1737.5" y="566.3" width="294.1" height="285.7"/></clipPath><g clip-path="url(#cl2)"><g filter="url(#bl)"><path fill="#f7fbff" d="M1947 564h8v4h-8zM1943 568h4v4h-4zM1939 572h4v4h-4zM1935 576h4v4h-4zM1931 580h4v4h-4zM1927 584h4v4h-4zM1923 588h4v4h-4zM1919 592h8v4h-8zM1915 596h8v4h-8zM1915 600h4v4h-4zM1911 604h4v4h-4zM1907 608h4v4h-4zM1899 612h8v4h-8zM1895 616h8v4h-8zM1891 620h8v4h-8zM1887 624h8v4h-8zM1883 628h8v4h-8zM1879 632h8v4h-8zM1875 636h8v4h-8zM1871 640h8v4h-8zM1867 644h8v4h-8zM2031 644h4v4h-4zM1867 648h4v4h-4zM2031 648h4v4h-4zM1863 652h4v4h-4zM2027 652h4v4h-4zM1859 656h8v4h-8zM2023 656h4v4h-4zM1855 660h8v4h-8zM2019 660h4v4h-4zM1851 664h8v4h-8zM2015 664h4v4h-4zM1843 668h12v4h-12zM2011 668h4v4h-4zM1811 672h40v4h-40zM2007 672h4v4h-4zM1807 676h40v4h-40zM2003 676h4v4h-4zM1803 680h36v4h-36zM1999 680h8v4h-8zM1803 684h28v4h-28zM1995 684h8v4h-8zM1803 688h20v4h-20zM1995 688h8v4h-8zM1803 692h20v4h-20zM1991 692h12v4h-12zM1803 696h16v4h-16zM1991 696h16v4h-16zM1803 700h16v4h-16zM1995 700h12v4h-12zM1807 704h12v4h-12zM1995 704h12v4h-12zM1807 708h8v4h-8zM1995 708h12v4h-12zM1803 712h12v4h-12zM1995 712h16v4h-16zM1803 716h8v4h-8zM1995 716h16v4h-16zM1799 720h8v4h-8zM1995 720h16v4h-16zM1795 724h8v4h-8zM1995 724h16v4h-16zM1791 728h8v4h-8zM1995 728h16v4h-16zM1787 732h8v4h-8zM1995 732h16v4h-16zM1787 736h8v4h-8zM1995 736h12v4h-12zM1783 740h8v4h-8zM1995 740h12v4h-12zM1779 744h8v4h-8zM1991 744h16v4h-16zM1775 748h8v4h-8zM1991 748h16v4h-16zM1771 752h8v4h-8zM1987 752h16v4h-16zM1767 756h8v4h-8zM1987 756h16v4h-16zM1763 760h8v4h-8zM1983 760h16v4h-16zM1763 764h4v4h-4zM1979 764h20v4h-20zM1759 768h4v4h-4zM1979 768h16v4h-16zM1755 772h8v4h-8zM1975 772h16v4h-16zM1751 776h4v4h-4zM1971 776h16v4h-16zM1743 780h8v4h-8zM1967 780h20v4h-20zM1739 784h8v4h-8zM1963 784h20v4h-20zM1735 788h8v4h-8zM1955 788h24v4h-24zM1735 792h4v4h-4zM1951 792h24v4h-24zM1943 796h24v4h-24zM1935 800h28v4h-28zM1923 804h32v4h-32zM1887 808h60v4h-60zM1871 812h68v4h-68zM1863 816h60v4h-60zM1855 820h20v4h-20zM1851 824h12v4h-12zM1843 828h12v4h-12zM1839 832h12v4h-12zM1831 836h12v4h-12zM1827 840h12v4h-12zM1819 844h12v4h-12zM1815 848h8v4h-8zM1807 852h12v4h-12z"/><path fill="#f0f6fd" d="M1955 564h4v4h-4zM1947 568h8v4h-8zM1943 572h8v4h-8zM1939 576h8v4h-8zM1935 580h8v4h-8zM1931 584h8v4h-8zM1927 588h8v4h-8zM1927 592h4v4h-4zM1923 596h4v4h-4zM1919 600h8v4h-8zM1915 604h8v4h-8zM1911 608h8v4h-8zM1907 612h8v4h-8zM1903 616h8v4h-8zM1899 620h8v4h-8zM1895 624h8v4h-8zM1891 628h8v4h-8zM1887 632h8v4h-8zM1883 636h8v4h-8zM1879 640h8v4h-8zM2031 640h4v4h-4zM1875 644h12v4h-12zM2027 644h4v4h-4zM1871 648h12v4h-12zM2023 648h8v4h-8zM1867 652h12v4h-12zM2019 652h8v4h-8zM1867 656h8v4h-8zM2015 656h8v4h-8zM1863 660h8v4h-8zM2011 660h8v4h-8zM1859 664h8v4h-8zM2007 664h8v4h-8zM1855 668h8v4h-8zM2003 668h8v4h-8zM1851 672h8v4h-8zM1995 672h12v4h-12zM1847 676h12v4h-12zM1991 676h12v4h-12zM1839 680h16v4h-16zM1987 680h12v4h-12zM1831 684h20v4h-20zM1987 684h8v4h-8zM1823 688h24v4h-24zM1983 688h12v4h-12zM1823 692h20v4h-20zM1979 692h12v4h-12zM1819 696h20v4h-20zM1979 696h12v4h-12zM1819 700h16v4h-16zM1979 700h16v4h-16zM1819 704h12v4h-12zM1975 704h20v4h-20zM1815 708h12v4h-12zM1975 708h20v4h-20zM1815 712h8v4h-8zM1975 712h20v4h-20zM1811 716h12v4h-12zM1975 716h20v4h-20zM1807 720h12v4h-12zM1975 720h20v4h-20zM1803 724h12v4h-12zM1975 724h20v4h-20zM1799 728h12v4h-12zM1975 728h20v4h-20zM1795 732h12v4h-12zM1971 732h24v4h-24zM1795 736h8v4h-8zM1971 736h24v4h-24zM1791 740h8v4h-8zM1971 740h24v4h-24zM1787 744h8v4h-8zM1967 744h24v4h-24zM1783 748h8v4h-8zM1963 748h28v4h-28zM1779 752h8v4h-8zM1959 752h28v4h-28zM1775 756h12v4h-12zM1959 756h28v4h-28zM1771 760h12v4h-12zM1955 760h28v4h-28zM1767 764h12v4h-12zM1951 764h28v4h-28zM1763 768h12v4h-12zM1947 768h32v4h-32zM1763 772h8v4h-8zM1943 772h32v4h-32zM1755 776h12v4h-12zM1935 776h36v4h-36zM1751 780h12v4h-12zM1931 780h36v4h-36zM1747 784h12v4h-12zM1923 784h40v4h-40zM1743 788h12v4h-12zM1911 788h44v4h-44zM1739 792h8v4h-8zM1891 792h60v4h-60zM1735 796h8v4h-8zM1883 796h60v4h-60zM1735 800h4v4h-4zM1875 800h60v4h-60zM1735 804h4v4h-4zM1867 804h56v4h-56zM1859 808h28v4h-28zM1855 812h16v4h-16zM1847 816h16v4h-16zM1843 820h12v4h-12zM1839 824h12v4h-12zM1831 828h12v4h-12zM1827 832h12v4h-12zM1819 836h12v4h-12zM1815 840h12v4h-12zM1807 844h12v4h-12zM1803 848h12v4h-12zM1795 852h12v4h-12z"/><path fill="#e8f1fa" d="M1959 564h8v4h-8zM1955 568h4v4h-4zM1951 572h4v4h-4zM1947 576h4v4h-4zM1943 580h4v4h-4zM1939 584h4v4h-4zM1935 588h4v4h-4zM1931 592h8v4h-8zM1927 596h8v4h-8zM1927 600h4v4h-4zM1923 604h4v4h-4zM1919 608h8v4h-8zM1915 612h8v4h-8zM1911 616h8v4h-8zM1907 620h8v4h-8zM1903 624h8v4h-8zM1899 628h8v4h-8zM1895 632h8v4h-8zM2031 632h4v4h-4zM1891 636h8v4h-8zM2027 636h8v4h-8zM1887 640h8v4h-8zM2027 640h4v4h-4zM1887 644h8v4h-8zM2023 644h4v4h-4zM1883 648h8v4h-8zM2019 648h4v4h-4zM1879 652h8v4h-8zM2015 652h4v4h-4zM1875 656h8v4h-8zM2011 656h4v4h-4zM1871 660h8v4h-8zM2003 660h8v4h-8zM1867 664h8v4h-8zM1999 664h8v4h-8zM1863 668h8v4h-8zM1995 668h8v4h-8zM1859 672h12v4h-12zM1991 672h4v4h-4zM1859 676h8v4h-8zM1983 676h8v4h-8zM1855 680h8v4h-8zM1979 680h8v4h-8zM1851 684h8v4h-8zM1979 684h8v4h-8zM1847 688h8v4h-8zM1975 688h8v4h-8zM1843 692h8v4h-8zM1971 692h8v4h-8zM1839 696h8v4h-8zM1967 696h12v4h-12zM1835 700h8v4h-8zM1967 700h12v4h-12zM1831 704h12v4h-12zM1963 704h12v4h-12zM1827 708h12v4h-12zM1959 708h16v4h-16zM1823 712h12v4h-12zM1955 712h20v4h-20zM1823 716h8v4h-8zM1955 716h20v4h-20zM1819 720h8v4h-8zM1951 720h24v4h-24zM1815 724h8v4h-8zM1947 724h28v4h-28zM1811 728h8v4h-8zM1943 728h32v4h-32zM1807 732h8v4h-8zM1939 732h32v4h-32zM1803 736h8v4h-8zM1935 736h36v4h-36zM1799 740h12v4h-12zM1931 740h40v4h-40zM1795 744h12v4h-12zM1927 744h40v4h-40zM1791 748h12v4h-12zM1927 748h36v4h-36zM1787 752h12v4h-12zM1923 752h36v4h-36zM1787 756h8v4h-8zM1919 756h40v4h-40zM1783 760h8v4h-8zM1915 760h40v4h-40zM1779 764h8v4h-8zM1911 764h40v4h-40zM1775 768h8v4h-8zM1907 768h40v4h-40zM1771 772h8v4h-8zM1899 772h44v4h-44zM1767 776h8v4h-8zM1895 776h40v4h-40zM1763 780h8v4h-8zM1887 780h44v4h-44zM1759 784h8v4h-8zM1883 784h40v4h-40zM1755 788h8v4h-8zM1875 788h36v4h-36zM1747 792h12v4h-12zM1871 792h20v4h-20zM1743 796h12v4h-12zM1863 796h20v4h-20zM1739 800h12v4h-12zM1859 800h16v4h-16zM1739 804h8v4h-8zM1851 804h16v4h-16zM1735 808h8v4h-8zM1847 808h12v4h-12zM1735 812h4v4h-4zM1843 812h12v4h-12zM1835 816h12v4h-12zM1831 820h12v4h-12zM1827 824h12v4h-12zM1819 828h12v4h-12zM1815 832h12v4h-12zM1807 836h12v4h-12zM1803 840h12v4h-12zM1795 844h12v4h-12zM1791 848h12v4h-12zM1735 852h4v4h-4zM1783 852h12v4h-12z"/><path fill="#e0ecf8" d="M1967 564h4v4h-4zM2031 564h4v4h-4zM1959 568h4v4h-4zM1955 572h4v4h-4zM1951 576h4v4h-4zM1947 580h4v4h-4zM1943 584h8v4h-8zM1939 588h8v4h-8zM1939 592h4v4h-4zM1935 596h4v4h-4zM1931 600h4v4h-4zM1927 604h8v4h-8zM1927 608h4v4h-4zM1923 612h4v4h-4zM1919 616h4v4h-4zM1915 620h8v4h-8zM1911 624h8v4h-8zM1907 628h8v4h-8zM2031 628h4v4h-4zM1903 632h8v4h-8zM2027 632h4v4h-4zM1899 636h8v4h-8zM2023 636h4v4h-4zM1895 640h8v4h-8zM2019 640h8v4h-8zM1895 644h4v4h-4zM2015 644h8v4h-8zM1891 648h8v4h-8zM2011 648h8v4h-8zM1887 652h8v4h-8zM2007 652h8v4h-8zM1883 656h8v4h-8zM2003 656h8v4h-8zM1879 660h8v4h-8zM1999 660h4v4h-4zM1875 664h8v4h-8zM1991 664h8v4h-8zM1871 668h8v4h-8zM1987 668h8v4h-8zM1871 672h8v4h-8zM1983 672h8v4h-8zM1867 676h8v4h-8zM1979 676h4v4h-4zM1863 680h8v4h-8zM1975 680h4v4h-4zM1859 684h8v4h-8zM1971 684h8v4h-8zM1855 688h8v4h-8zM1967 688h8v4h-8zM1851 692h8v4h-8zM1963 692h8v4h-8zM1847 696h12v4h-12zM1959 696h8v4h-8zM1843 700h12v4h-12zM1955 700h12v4h-12zM1843 704h8v4h-8zM1951 704h12v4h-12zM1839 708h8v4h-8zM1947 708h12v4h-12zM1835 712h8v4h-8zM1943 712h12v4h-12zM1831 716h8v4h-8zM1939 716h16v4h-16zM1827 720h8v4h-8zM1935 720h16v4h-16zM1823 724h12v4h-12zM1931 724h16v4h-16zM1819 728h12v4h-12zM1927 728h16v4h-16zM1815 732h12v4h-12zM1923 732h16v4h-16zM1811 736h12v4h-12zM1919 736h16v4h-16zM1811 740h8v4h-8zM1915 740h16v4h-16zM1807 744h8v4h-8zM1911 744h16v4h-16zM1803 748h8v4h-8zM1907 748h20v4h-20zM1799 752h8v4h-8zM1903 752h20v4h-20zM1795 756h8v4h-8zM1899 756h20v4h-20zM1791 760h8v4h-8zM1895 760h20v4h-20zM1787 764h8v4h-8zM1891 764h20v4h-20zM1783 768h8v4h-8zM1887 768h20v4h-20zM1779 772h12v4h-12zM1883 772h16v4h-16zM1775 776h12v4h-12zM1879 776h16v4h-16zM1771 780h12v4h-12zM1871 780h16v4h-16zM1767 784h12v4h-12zM1867 784h16v4h-16zM1763 788h8v4h-8zM1863 788h12v4h-12zM1759 792h8v4h-8zM1855 792h16v4h-16zM1755 796h8v4h-8zM1851 796h12v4h-12zM1751 800h8v4h-8zM1847 800h12v4h-12zM1747 804h8v4h-8zM1843 804h8v4h-8zM1743 808h8v4h-8zM1835 808h12v4h-12zM1739 812h8v4h-8zM1831 812h12v4h-12zM1735 816h8v4h-8zM1823 816h12v4h-12zM1735 820h8v4h-8zM1819 820h12v4h-12zM1735 824h4v4h-4zM1815 824h12v4h-12zM1735 828h4v4h-4zM1807 828h12v4h-12zM1735 832h4v4h-4zM1803 832h12v4h-12zM1735 836h4v4h-4zM1799 836h8v4h-8zM1735 840h4v4h-4zM1791 840h12v4h-12zM1735 844h8v4h-8zM1783 844h12v4h-12zM1735 848h12v4h-12zM1779 848h12v4h-12zM1739 852h20v4h-20zM1763 852h20v4h-20z"/><path fill="#d8e7f5" d="M1971 564h4v4h-4zM1963 568h4v4h-4zM1959 572h4v4h-4zM1955 576h4v4h-4zM1951 580h4v4h-4zM1951 584h4v4h-4zM1947 588h4v4h-4zM1943 592h4v4h-4zM1939 596h4v4h-4zM1935 600h4v4h-4zM1935 604h4v4h-4zM1931 608h4v4h-4zM1927 612h4v4h-4zM1923 616h8v4h-8zM1923 620h4v4h-4zM1919 624h4v4h-4zM2031 624h4v4h-4zM1915 628h4v4h-4zM2027 628h4v4h-4zM1911 632h8v4h-8zM2023 632h4v4h-4zM1907 636h8v4h-8zM2019 636h4v4h-4zM1903 640h8v4h-8zM2015 640h4v4h-4zM1899 644h8v4h-8zM2011 644h4v4h-4zM1899 648h4v4h-4zM2007 648h4v4h-4zM1895 652h4v4h-4zM2003 652h4v4h-4zM1891 656h8v4h-8zM1999 656h4v4h-4zM1887 660h8v4h-8zM1991 660h8v4h-8zM1883 664h8v4h-8zM1987 664h4v4h-4zM1879 668h8v4h-8zM1979 668h8v4h-8zM1879 672h8v4h-8zM1975 672h8v4h-8zM1875 676h8v4h-8zM1971 676h8v4h-8zM1871 680h8v4h-8zM1967 680h8v4h-8zM1867 684h8v4h-8zM1963 684h8v4h-8zM1863 688h8v4h-8zM1959 688h8v4h-8zM1859 692h12v4h-12zM1955 692h8v4h-8zM1859 696h8v4h-8zM1951 696h8v4h-8zM1855 700h8v4h-8zM1947 700h8v4h-8zM1851 704h8v4h-8zM1943 704h8v4h-8zM1847 708h8v4h-8zM1939 708h8v4h-8zM1843 712h8v4h-8zM1935 712h8v4h-8zM1839 716h12v4h-12zM1927 716h12v4h-12zM1835 720h12v4h-12zM1923 720h12v4h-12zM1835 724h8v4h-8zM1919 724h12v4h-12zM1831 728h8v4h-8zM1915 728h12v4h-12zM1827 732h8v4h-8zM1911 732h12v4h-12zM1823 736h8v4h-8zM1907 736h12v4h-12zM1819 740h8v4h-8zM1903 740h12v4h-12zM1815 744h8v4h-8zM1899 744h12v4h-12zM1811 748h12v4h-12zM1895 748h12v4h-12zM1807 752h12v4h-12zM1891 752h12v4h-12zM1803 756h12v4h-12zM1887 756h12v4h-12zM1799 760h12v4h-12zM1883 760h12v4h-12zM1795 764h12v4h-12zM1879 764h12v4h-12zM1791 768h12v4h-12zM1875 768h12v4h-12zM1791 772h8v4h-8zM1871 772h12v4h-12zM1787 776h8v4h-8zM1863 776h16v4h-16zM1783 780h8v4h-8zM1859 780h12v4h-12zM1779 784h8v4h-8zM1855 784h12v4h-12zM1771 788h12v4h-12zM1851 788h12v4h-12zM1767 792h12v4h-12zM1843 792h12v4h-12zM1763 796h12v4h-12zM1839 796h12v4h-12zM1759 800h12v4h-12zM1835 800h12v4h-12zM1755 804h8v4h-8zM1827 804h16v4h-16zM1751 808h8v4h-8zM1823 808h12v4h-12zM1747 812h8v4h-8zM1819 812h12v4h-12zM1743 816h12v4h-12zM1811 816h12v4h-12zM1743 820h8v4h-8zM1807 820h12v4h-12zM1739 824h12v4h-12zM1803 824h12v4h-12zM1739 828h12v4h-12zM1795 828h12v4h-12zM1739 832h12v4h-12zM1791 832h12v4h-12zM1739 836h12v4h-12zM1783 836h16v4h-16zM1739 840h16v4h-16zM1775 840h16v4h-16zM1743 844h40v4h-40zM1747 848h32v4h-32zM1759 852h4v4h-4z"/><path fill="#d0e2f2" d="M1975 564h4v4h-4zM2027 564h4v4h-4zM1967 568h4v4h-4zM2031 568h4v4h-4zM1963 572h4v4h-4zM1959 576h4v4h-4zM1955 580h4v4h-4zM1951 588h4v4h-4zM1947 592h4v4h-4zM1943 596h4v4h-4zM1939 600h4v4h-4zM1939 604h4v4h-4zM1935 608h4v4h-4zM1931 612h4v4h-4zM1931 616h4v4h-4zM1927 620h4v4h-4zM1923 624h4v4h-4zM1919 628h8v4h-8zM1919 632h4v4h-4zM2019 632h4v4h-4zM1915 636h4v4h-4zM2015 636h4v4h-4zM1911 640h8v4h-8zM2011 640h4v4h-4zM1907 644h8v4h-8zM2007 644h4v4h-4zM1903 648h8v4h-8zM2003 648h4v4h-4zM1899 652h8v4h-8zM1999 652h4v4h-4zM1899 656h8v4h-8zM1991 656h8v4h-8zM1895 660h8v4h-8zM1983 660h8v4h-8zM1891 664h8v4h-8zM1979 664h8v4h-8zM1887 668h8v4h-8zM1975 668h4v4h-4zM1887 672h8v4h-8zM1967 672h8v4h-8zM1883 676h8v4h-8zM1963 676h8v4h-8zM1879 680h8v4h-8zM1959 680h8v4h-8zM1875 684h8v4h-8zM1955 684h8v4h-8zM1871 688h12v4h-12zM1951 688h8v4h-8zM1871 692h8v4h-8zM1943 692h12v4h-12zM1867 696h8v4h-8zM1939 696h12v4h-12zM1863 700h8v4h-8zM1935 700h12v4h-12zM1859 704h12v4h-12zM1931 704h12v4h-12zM1855 708h12v4h-12zM1927 708h12v4h-12zM1851 712h12v4h-12zM1923 712h12v4h-12zM1851 716h8v4h-8zM1919 716h8v4h-8zM1847 720h8v4h-8zM1911 720h12v4h-12zM1843 724h12v4h-12zM1907 724h12v4h-12zM1839 728h12v4h-12zM1903 728h12v4h-12zM1835 732h12v4h-12zM1899 732h12v4h-12zM1831 736h12v4h-12zM1895 736h12v4h-12zM1827 740h12v4h-12zM1891 740h12v4h-12zM1823 744h12v4h-12zM1887 744h12v4h-12zM1823 748h12v4h-12zM1883 748h12v4h-12zM1819 752h12v4h-12zM1879 752h12v4h-12zM1815 756h12v4h-12zM1875 756h12v4h-12zM1811 760h12v4h-12zM1867 760h16v4h-16zM1807 764h12v4h-12zM1863 764h16v4h-16zM1803 768h12v4h-12zM1859 768h16v4h-16zM1799 772h12v4h-12zM1855 772h16v4h-16zM1795 776h12v4h-12zM1851 776h12v4h-12zM1791 780h12v4h-12zM1843 780h16v4h-16zM1787 784h12v4h-12zM1839 784h16v4h-16zM1783 788h16v4h-16zM1835 788h16v4h-16zM1779 792h16v4h-16zM1827 792h16v4h-16zM1775 796h16v4h-16zM1823 796h16v4h-16zM1771 800h12v4h-12zM1819 800h16v4h-16zM1763 804h16v4h-16zM1811 804h16v4h-16zM1759 808h16v4h-16zM1807 808h16v4h-16zM1755 812h16v4h-16zM1803 812h16v4h-16zM1755 816h12v4h-12zM1795 816h16v4h-16zM1751 820h12v4h-12zM1791 820h16v4h-16zM1751 824h12v4h-12zM1787 824h16v4h-16zM1751 828h12v4h-12zM1779 828h16v4h-16zM1751 832h40v4h-40zM1751 836h32v4h-32zM1755 840h20v4h-20z"/><path fill="#c9ddf0" d="M1979 564h4v4h-4zM2023 564h4v4h-4zM1971 568h4v4h-4zM2027 568h4v4h-4zM1967 572h4v4h-4zM2031 572h4v4h-4zM1963 576h4v4h-4zM1959 580h4v4h-4zM1955 584h4v4h-4zM1955 588h4v4h-4zM1951 592h4v4h-4zM1947 596h4v4h-4zM1943 600h4v4h-4zM1943 604h4v4h-4zM1939 608h4v4h-4zM1935 612h8v4h-8zM1935 616h4v4h-4zM1931 620h4v4h-4zM2031 620h4v4h-4zM1927 624h8v4h-8zM2027 624h4v4h-4zM1927 628h4v4h-4zM2023 628h4v4h-4zM1923 632h4v4h-4zM2015 632h4v4h-4zM1919 636h8v4h-8zM2011 636h4v4h-4zM1919 640h4v4h-4zM2007 640h4v4h-4zM1915 644h4v4h-4zM2003 644h4v4h-4zM1911 648h8v4h-8zM1999 648h4v4h-4zM1907 652h8v4h-8zM1991 652h8v4h-8zM1907 656h4v4h-4zM1983 656h8v4h-8zM1903 660h8v4h-8zM1979 660h4v4h-4zM1899 664h8v4h-8zM1971 664h8v4h-8zM1895 668h8v4h-8zM1967 668h8v4h-8zM1895 672h8v4h-8zM1959 672h8v4h-8zM1891 676h8v4h-8zM1955 676h8v4h-8zM1887 680h12v4h-12zM1951 680h8v4h-8zM1883 684h12v4h-12zM1943 684h12v4h-12zM1883 688h8v4h-8zM1939 688h12v4h-12zM1879 692h12v4h-12zM1935 692h8v4h-8zM1875 696h12v4h-12zM1927 696h12v4h-12zM1871 700h12v4h-12zM1923 700h12v4h-12zM1871 704h12v4h-12zM1919 704h12v4h-12zM1867 708h12v4h-12zM1911 708h16v4h-16zM1863 712h16v4h-16zM1907 712h16v4h-16zM1859 716h16v4h-16zM1903 716h16v4h-16zM1855 720h16v4h-16zM1895 720h16v4h-16zM1855 724h16v4h-16zM1891 724h16v4h-16zM1851 728h16v4h-16zM1887 728h16v4h-16zM1847 732h20v4h-20zM1879 732h20v4h-20zM1843 736h20v4h-20zM1875 736h20v4h-20zM1839 740h52v4h-52zM1835 744h52v4h-52zM1835 748h48v4h-48zM1831 752h48v4h-48zM1827 756h48v4h-48zM1823 760h44v4h-44zM1819 764h44v4h-44zM1815 768h44v4h-44zM1811 772h44v4h-44zM1807 776h44v4h-44zM1803 780h40v4h-40zM1799 784h40v4h-40zM1799 788h36v4h-36zM1795 792h32v4h-32zM1791 796h32v4h-32zM1783 800h36v4h-36zM1779 804h32v4h-32zM1775 808h32v4h-32zM1771 812h32v4h-32zM1767 816h28v4h-28zM1763 820h28v4h-28zM1763 824h24v4h-24zM1763 828h16v4h-16z"/><path fill="#bdd7ec" d="M1983 564h4v4h-4zM2019 564h4v4h-4zM1975 568h4v4h-4zM1963 580h4v4h-4zM1959 584h4v4h-4zM1955 592h4v4h-4zM1951 596h4v4h-4zM1947 600h4v4h-4zM1947 604h4v4h-4zM1943 608h4v4h-4zM1939 616h4v4h-4zM2031 616h4v4h-4zM1935 620h4v4h-4zM2027 620h4v4h-4zM1935 624h4v4h-4zM2023 624h4v4h-4zM1931 628h4v4h-4zM2019 628h4v4h-4zM1927 632h8v4h-8zM2011 632h4v4h-4zM1927 636h4v4h-4zM2007 636h4v4h-4zM1923 640h8v4h-8zM2003 640h4v4h-4zM1919 644h8v4h-8zM1999 644h4v4h-4zM1919 648h4v4h-4zM1991 648h8v4h-8zM1915 652h8v4h-8zM1983 652h8v4h-8zM1911 656h8v4h-8zM1979 656h4v4h-4zM1911 660h8v4h-8zM1971 660h8v4h-8zM1907 664h8v4h-8zM1963 664h8v4h-8zM1903 668h12v4h-12zM1955 668h12v4h-12zM1903 672h12v4h-12zM1951 672h8v4h-8zM1899 676h12v4h-12zM1943 676h12v4h-12zM1899 680h12v4h-12zM1935 680h16v4h-16zM1895 684h16v4h-16zM1927 684h16v4h-16zM1891 688h24v4h-24zM1919 688h20v4h-20zM1891 692h44v4h-44zM1887 696h40v4h-40zM1883 700h40v4h-40zM1883 704h36v4h-36zM1879 708h32v4h-32zM1879 712h28v4h-28zM1875 716h28v4h-28zM1871 720h24v4h-24zM1871 724h20v4h-20zM1867 728h20v4h-20zM1867 732h12v4h-12zM1863 736h12v4h-12z"/><path fill="#b1d2e8" d="M1987 564h4v4h-4zM2011 564h8v4h-8zM1979 568h4v4h-4zM2023 568h4v4h-4zM1971 572h4v4h-4zM2027 572h4v4h-4zM1967 576h4v4h-4zM2031 576h4v4h-4zM1963 584h4v4h-4zM1959 588h4v4h-4zM1955 596h4v4h-4zM1951 600h4v4h-4zM1951 604h4v4h-4zM1947 608h4v4h-4zM1943 612h4v4h-4zM1943 616h4v4h-4zM1939 620h4v4h-4zM1939 624h4v4h-4zM2019 624h4v4h-4zM1935 628h8v4h-8zM2015 628h4v4h-4zM1935 632h4v4h-4zM2007 632h4v4h-4zM1931 636h8v4h-8zM2003 636h4v4h-4zM1931 640h4v4h-4zM1999 640h4v4h-4zM1927 644h8v4h-8zM1991 644h8v4h-8zM1923 648h8v4h-8zM1983 648h8v4h-8zM1923 652h8v4h-8zM1975 652h8v4h-8zM1919 656h12v4h-12zM1967 656h12v4h-12zM1919 660h12v4h-12zM1959 660h12v4h-12zM1915 664h16v4h-16zM1951 664h12v4h-12zM1915 668h40v4h-40zM1915 672h36v4h-36zM1911 676h32v4h-32zM1911 680h24v4h-24zM1911 684h16v4h-16zM1915 688h4v4h-4z"/><path fill="#a4cce3" d="M1991 564h20v4h-20zM1983 568h4v4h-4zM2019 568h4v4h-4zM1975 572h4v4h-4zM2023 572h4v4h-4zM1971 576h4v4h-4zM1967 580h4v4h-4zM2031 580h4v4h-4zM1963 588h4v4h-4zM1959 592h4v4h-4zM1959 596h4v4h-4zM1955 600h4v4h-4zM1955 604h4v4h-4zM1951 608h4v4h-4zM1947 612h4v4h-4zM2031 612h4v4h-4zM1947 616h4v4h-4zM2027 616h4v4h-4zM1943 620h8v4h-8zM2023 620h4v4h-4zM1943 624h4v4h-4zM2015 624h4v4h-4zM1943 628h4v4h-4zM2011 628h4v4h-4zM1939 632h8v4h-8zM2003 632h4v4h-4zM1939 636h4v4h-4zM1999 636h4v4h-4zM1935 640h8v4h-8zM1991 640h8v4h-8zM1935 644h8v4h-8zM1987 644h4v4h-4zM1931 648h12v4h-12zM1975 648h8v4h-8zM1931 652h12v4h-12zM1963 652h12v4h-12zM1931 656h36v4h-36zM1931 660h28v4h-28zM1931 664h20v4h-20z"/><path fill="#95c5df" d="M1987 568h4v4h-4zM2015 568h4v4h-4zM1979 572h4v4h-4zM2027 576h4v4h-4zM1967 584h4v4h-4zM2031 584h4v4h-4zM1963 592h4v4h-4zM1959 600h4v4h-4zM1955 608h4v4h-4zM2031 608h4v4h-4zM1951 612h4v4h-4zM2027 612h4v4h-4zM1951 616h4v4h-4zM1951 620h4v4h-4zM2019 620h4v4h-4zM1947 624h4v4h-4zM1947 628h4v4h-4zM2007 628h4v4h-4zM1947 632h4v4h-4zM1999 632h4v4h-4zM1943 636h8v4h-8zM1991 636h8v4h-8zM1943 640h8v4h-8zM1983 640h8v4h-8zM1943 644h12v4h-12zM1975 644h12v4h-12zM1943 648h32v4h-32zM1943 652h20v4h-20z"/><path fill="#84bcdc" d="M1991 568h4v4h-4zM2007 568h8v4h-8zM2019 572h4v4h-4zM1975 576h4v4h-4zM2023 576h4v4h-4zM1971 580h4v4h-4zM2027 580h4v4h-4zM1967 588h4v4h-4zM2031 588h4v4h-4zM1963 596h4v4h-4zM1963 600h4v4h-4zM2031 600h4v4h-4zM1959 604h4v4h-4zM2031 604h4v4h-4zM1959 608h4v4h-4zM1955 612h4v4h-4zM1955 616h4v4h-4zM2023 616h4v4h-4zM1955 620h4v4h-4zM1951 624h8v4h-8zM2011 624h4v4h-4zM1951 628h8v4h-8zM1999 628h8v4h-8zM1951 632h8v4h-8zM1991 632h8v4h-8zM1951 636h8v4h-8zM1983 636h8v4h-8zM1951 640h32v4h-32zM1955 644h20v4h-20z"/><path fill="#74b3d8" d="M1995 568h12v4h-12zM1983 572h4v4h-4zM2015 572h4v4h-4zM1971 584h4v4h-4zM1967 592h4v4h-4zM2031 592h4v4h-4zM2031 596h4v4h-4zM1963 604h4v4h-4zM1963 608h4v4h-4zM2027 608h4v4h-4zM1959 612h8v4h-8zM2023 612h4v4h-4zM1959 616h4v4h-4zM2019 616h4v4h-4zM1959 620h4v4h-4zM2015 620h4v4h-4zM1959 624h4v4h-4zM2003 624h8v4h-8zM1959 628h4v4h-4zM1991 628h8v4h-8zM1959 632h8v4h-8zM1983 632h8v4h-8zM1959 636h24v4h-24z"/><path fill="#65aad4" d="M1987 572h4v4h-4zM2011 572h4v4h-4zM1979 576h4v4h-4zM2019 576h4v4h-4zM1975 580h4v4h-4zM2023 580h4v4h-4zM2027 584h4v4h-4zM1971 588h4v4h-4zM1967 596h4v4h-4zM1967 600h4v4h-4zM1967 604h4v4h-4zM2027 604h4v4h-4zM1967 608h4v4h-4zM1967 612h4v4h-4zM1963 616h8v4h-8zM1963 620h8v4h-8zM2011 620h4v4h-4zM1963 624h8v4h-8zM1995 624h8v4h-8zM1963 628h28v4h-28zM1967 632h16v4h-16z"/><path fill="#58a1cf" d="M1991 572h8v4h-8zM2007 572h4v4h-4zM1983 576h4v4h-4zM1975 584h4v4h-4zM2027 588h4v4h-4zM1971 592h4v4h-4zM2027 592h4v4h-4zM2027 596h4v4h-4zM2027 600h4v4h-4zM2023 608h4v4h-4zM1971 612h4v4h-4zM2019 612h4v4h-4zM1971 616h4v4h-4zM2015 616h4v4h-4zM1971 620h8v4h-8zM2003 620h8v4h-8zM1971 624h24v4h-24z"/><path fill="#4b98c9" d="M1999 572h8v4h-8zM1987 576h4v4h-4zM2015 576h4v4h-4zM1979 580h4v4h-4zM2019 580h4v4h-4zM2023 584h4v4h-4zM1975 588h4v4h-4zM1971 596h4v4h-4zM1971 600h4v4h-4zM1971 604h4v4h-4zM2023 604h4v4h-4zM1971 608h4v4h-4zM1975 612h4v4h-4zM1975 616h4v4h-4zM2011 616h4v4h-4zM1979 620h24v4h-24z"/><path fill="#3e8ec4" d="M2011 576h4v4h-4zM1983 580h4v4h-4zM1979 584h4v4h-4zM2023 588h4v4h-4zM1975 592h4v4h-4zM2023 600h4v4h-4zM1975 604h4v4h-4zM1975 608h4v4h-4zM2019 608h4v4h-4zM1979 612h4v4h-4zM2015 612h4v4h-4zM1979 616h8v4h-8zM2007 616h4v4h-4z"/><path fill="#3484bf" d="M1991 576h8v4h-8zM2003 576h8v4h-8zM2015 580h4v4h-4zM2019 584h4v4h-4zM1979 588h4v4h-4zM2023 592h4v4h-4zM1975 596h4v4h-4zM2023 596h4v4h-4zM1975 600h4v4h-4zM2019 604h4v4h-4zM1979 608h4v4h-4zM1983 612h4v4h-4zM2011 612h4v4h-4zM1987 616h20v4h-20z"/><path fill="#2979b9" d="M1999 576h4v4h-4zM1987 580h4v4h-4zM2011 580h4v4h-4zM1983 584h4v4h-4zM2019 588h4v4h-4zM1979 592h4v4h-4zM2019 600h4v4h-4zM1979 604h4v4h-4zM2015 608h4v4h-4zM1987 612h4v4h-4zM2007 612h4v4h-4z"/><path fill="#226fb4" d="M1991 580h4v4h-4zM2007 580h4v4h-4zM2015 584h4v4h-4zM1983 588h4v4h-4zM2019 592h4v4h-4zM1979 596h4v4h-4zM2019 596h4v4h-4zM1979 600h4v4h-4zM2015 604h4v4h-4zM1983 608h4v4h-4zM2011 608h4v4h-4zM1991 612h16v4h-16z"/><path fill="#2568af" d="M1995 580h12v4h-12zM1987 584h4v4h-4zM2011 584h4v4h-4zM2015 588h4v4h-4zM1983 592h4v4h-4zM1983 600h4v4h-4zM1983 604h4v4h-4zM1987 608h4v4h-4z"/><path fill="#2761aa" d="M1991 584h4v4h-4zM2007 584h4v4h-4zM1987 588h4v4h-4zM2015 592h4v4h-4zM1983 596h4v4h-4zM2015 596h4v4h-4zM2015 600h4v4h-4zM1987 604h4v4h-4zM2011 604h4v4h-4zM1991 608h8v4h-8zM2003 608h8v4h-8z"/><path fill="#2b59a5" d="M1995 584h12v4h-12zM2011 588h4v4h-4zM1987 592h4v4h-4zM1987 596h4v4h-4zM1987 600h4v4h-4zM2011 600h4v4h-4zM1991 604h4v4h-4zM2007 604h4v4h-4zM1999 608h4v4h-4z"/><path fill="#2f4f98" d="M1991 588h8v4h-8zM2007 588h4v4h-4zM1991 592h4v4h-4zM2011 592h4v4h-4zM2011 596h4v4h-4zM1991 600h4v4h-4zM2007 600h4v4h-4zM1995 604h12v4h-12z"/><path fill="#34458b" d="M1999 588h8v4h-8zM1995 592h4v4h-4zM2007 592h4v4h-4zM1991 596h4v4h-4zM2007 596h4v4h-4zM1995 600h12v4h-12z"/><path fill="#383b7e" d="M1999 592h8v4h-8zM1995 596h12v4h-12z"/></g></g>
<rect x="1737.5" y="566.3" width="294.1" height="285.7" fill="none" stroke="#333" stroke-width="1.8"/>
<line x1="1748.2" y1="841.5" x2="2022.6" y2="575.5" stroke="#111" stroke-width="1.6"/>
<line x1="1748.2" y1="852" x2="1748.2" y2="862" stroke="#333" stroke-width="1.8"/>
<line x1="1727.5" y1="841.5" x2="1737.5" y2="841.5" stroke="#333" stroke-width="1.8"/>
<text x="1748.2" y="896" font-size="24.8" text-anchor="middle">0</text>
<text x="1714" y="850.3" font-size="24.8" text-anchor="end">0</text>
<line x1="1803.1" y1="852" x2="1803.1" y2="862" stroke="#333" stroke-width="1.8"/>
<line x1="1727.5" y1="788.3" x2="1737.5" y2="788.3" stroke="#333" stroke-width="1.8"/>
<text x="1803.1" y="896" font-size="24.8" text-anchor="middle">20</text>
<text x="1714" y="797.1" font-size="24.8" text-anchor="end">20</text>
<line x1="1858" y1="852" x2="1858" y2="862" stroke="#333" stroke-width="1.8"/>
<line x1="1727.5" y1="735.1" x2="1737.5" y2="735.1" stroke="#333" stroke-width="1.8"/>
<text x="1858" y="896" font-size="24.8" text-anchor="middle">40</text>
<text x="1714" y="743.9" font-size="24.8" text-anchor="end">40</text>
<line x1="1912.8" y1="852" x2="1912.8" y2="862" stroke="#333" stroke-width="1.8"/>
<line x1="1727.5" y1="681.9" x2="1737.5" y2="681.9" stroke="#333" stroke-width="1.8"/>
<text x="1912.8" y="896" font-size="24.8" text-anchor="middle">60</text>
<text x="1714" y="690.7" font-size="24.8" text-anchor="end">60</text>
<line x1="1967.7" y1="852" x2="1967.7" y2="862" stroke="#333" stroke-width="1.8"/>
<line x1="1727.5" y1="628.7" x2="1737.5" y2="628.7" stroke="#333" stroke-width="1.8"/>
<text x="1967.7" y="896" font-size="24.8" text-anchor="middle">80</text>
<text x="1714" y="637.5" font-size="24.8" text-anchor="end">80</text>
<line x1="2022.6" y1="852" x2="2022.6" y2="862" stroke="#333" stroke-width="1.8"/>
<line x1="1727.5" y1="575.5" x2="1737.5" y2="575.5" stroke="#333" stroke-width="1.8"/>
<text x="2022.6" y="896" font-size="24.8" text-anchor="middle">100</text>
<text x="1714" y="584.3" font-size="24.8" text-anchor="end">100</text>
<text x="1658.5" y="702" font-size="25.3" text-anchor="middle" transform="rotate(-90 1658.5 702)">Parental clone B8</text>
<text x="1883.5" y="929.5" font-size="25.3" text-anchor="middle">J1 subclone</text>
<text x="-1.5" y="1070.5" font-size="42" font-weight="bold">c</text>
<text x="326" y="1083.5" font-size="29.7" text-anchor="middle">MShef4 standard</text>
<text x="696.5" y="1083.5" font-size="29.9">MShef11 standard</text>
<g stroke="#2b2b2b" stroke-width="1.1">
<rect x="120.3" y="1098.3" width="27.4" height="21" fill="#556a93"/>
<rect x="147.7" y="1098.3" width="27.4" height="21" fill="#556a93"/>
<rect x="175.1" y="1098.3" width="27.4" height="21" fill="#556a93"/>
<rect x="202.5" y="1098.3" width="27.4" height="21" fill="#556a93"/>
<rect x="229.9" y="1098.3" width="27.4" height="21" fill="#556a93"/>
<rect x="257.3" y="1098.3" width="27.4" height="21" fill="#556a93"/>
<rect x="284.7" y="1098.3" width="27.4" height="21" fill="#556a93"/>
<rect x="312.1" y="1098.3" width="27.4" height="21" fill="#556a93"/>
<rect x="339.5" y="1098.3" width="27.4" height="21" fill="#556a93"/>
<rect x="366.9" y="1098.3" width="27.4" height="21" fill="#556a93"/>
<rect x="394.3" y="1098.3" width="27.4" height="21" fill="#556a93"/>
<rect x="421.7" y="1098.3" width="27.4" height="21" fill="#556a93"/>
<rect x="449.1" y="1098.3" width="27.4" height="21" fill="#556a93"/>
<rect x="476.5" y="1098.3" width="27.4" height="21" fill="#556a93"/>
<rect x="503.9" y="1098.3" width="27.4" height="21" fill="#556a93"/>
<rect x="120.3" y="1125.6" width="27.4" height="27.7" fill="#005028"/>
<rect x="147.7" y="1125.6" width="27.4" height="27.7" fill="#005830"/>
<rect x="175.1" y="1125.6" width="27.4" height="27.7" fill="#003719"/>
<rect x="202.5" y="1125.6" width="27.4" height="27.7" fill="#004e28"/>
<rect x="229.9" y="1125.6" width="27.4" height="27.7" fill="#004e28"/>
<rect x="257.3" y="1125.6" width="27.4" height="27.7" fill="#004623"/>
<rect x="284.7" y="1125.6" width="27.4" height="27.7" fill="#004c27"/>
<rect x="312.1" y="1125.6" width="27.4" height="27.7" fill="#004422"/>
<rect x="339.5" y="1125.6" width="27.4" height="27.7" fill="#003219"/>
<rect x="366.9" y="1125.6" width="27.4" height="27.7" fill="#005830"/>
<rect x="394.3" y="1125.6" width="27.4" height="27.7" fill="#003a1c"/>
<rect x="421.7" y="1125.6" width="27.4" height="27.7" fill="#00552d"/>
<rect x="449.1" y="1125.6" width="27.4" height="27.7" fill="#003c1e"/>
<rect x="476.5" y="1125.6" width="27.4" height="27.7" fill="#004626"/>
<rect x="503.9" y="1125.6" width="27.4" height="27.7" fill="#2d000a"/>
<rect x="120.3" y="1153.3" width="27.4" height="27.6" fill="#006e3e"/>
<rect x="147.7" y="1153.3" width="27.4" height="27.6" fill="#005830"/>
<rect x="175.1" y="1153.3" width="27.4" height="27.6" fill="#004824"/>
<rect x="202.5" y="1153.3" width="27.4" height="27.6" fill="#007341"/>
<rect x="229.9" y="1153.3" width="27.4" height="27.6" fill="#004623"/>
<rect x="257.3" y="1153.3" width="27.4" height="27.6" fill="#00703e"/>
<rect x="284.7" y="1153.3" width="27.4" height="27.6" fill="#00693a"/>
<rect x="312.1" y="1153.3" width="27.4" height="27.6" fill="#006e3e"/>
<rect x="339.5" y="1153.3" width="27.4" height="27.6" fill="#00371c"/>
<rect x="366.9" y="1153.3" width="27.4" height="27.6" fill="#002612"/>
<rect x="394.3" y="1153.3" width="27.4" height="27.6" fill="#001c0a"/>
<rect x="421.7" y="1153.3" width="27.4" height="27.6" fill="#004b28"/>
<rect x="449.1" y="1153.3" width="27.4" height="27.6" fill="#00552d"/>
<rect x="476.5" y="1153.3" width="27.4" height="27.6" fill="#003c1e"/>
<rect x="503.9" y="1153.3" width="27.4" height="27.6" fill="#230008"/>
<rect x="120.3" y="1180.9" width="27.4" height="27.5" fill="#260008"/>
<rect x="147.7" y="1180.9" width="27.4" height="27.5" fill="#00502a"/>
<rect x="175.1" y="1180.9" width="27.4" height="27.5" fill="#55000f"/>
<rect x="202.5" y="1180.9" width="27.4" height="27.5" fill="#4b0014"/>
<rect x="229.9" y="1180.9" width="27.4" height="27.5" fill="#70160c"/>
<rect x="257.3" y="1180.9" width="27.4" height="27.5" fill="#70160c"/>
<rect x="284.7" y="1180.9" width="27.4" height="27.5" fill="#001c0c"/>
<rect x="312.1" y="1180.9" width="27.4" height="27.5" fill="#4b0014"/>
<rect x="339.5" y="1180.9" width="27.4" height="27.5" fill="#000500"/>
<rect x="366.9" y="1180.9" width="27.4" height="27.5" fill="#004624"/>
<rect x="394.3" y="1180.9" width="27.4" height="27.5" fill="#002814"/>
<rect x="421.7" y="1180.9" width="27.4" height="27.5" fill="#004b28"/>
<rect x="449.1" y="1180.9" width="27.4" height="27.5" fill="#41000f"/>
<rect x="476.5" y="1180.9" width="27.4" height="27.5" fill="#4b0012"/>
<rect x="503.9" y="1180.9" width="27.4" height="27.5" fill="#87190f"/>
<rect x="120.3" y="1208.4" width="27.4" height="28.1" fill="#55000f"/>
<rect x="147.7" y="1208.4" width="27.4" height="28.1" fill="#002814"/>
<rect x="175.1" y="1208.4" width="27.4" height="28.1" fill="#a51e19"/>
<rect x="202.5" y="1208.4" width="27.4" height="28.1" fill="#00341a"/>
<rect x="229.9" y="1208.4" width="27.4" height="28.1" fill="#004b28"/>
<rect x="257.3" y="1208.4" width="27.4" height="28.1" fill="#002d16"/>
<rect x="284.7" y="1208.4" width="27.4" height="28.1" fill="#640f0f"/>
<rect x="312.1" y="1208.4" width="27.4" height="28.1" fill="#4b0014"/>
<rect x="339.5" y="1208.4" width="27.4" height="28.1" fill="#2d000a"/>
<rect x="366.9" y="1208.4" width="27.4" height="28.1" fill="#008046"/>
<rect x="394.3" y="1208.4" width="27.4" height="28.1" fill="#230005"/>
<rect x="421.7" y="1208.4" width="27.4" height="28.1" fill="#006437"/>
<rect x="449.1" y="1208.4" width="27.4" height="28.1" fill="#460012"/>
<rect x="476.5" y="1208.4" width="27.4" height="28.1" fill="#6e140c"/>
<rect x="503.9" y="1208.4" width="27.4" height="28.1" fill="#55050f"/>
</g>
<rect x="120.3" y="1098.3" width="411" height="21" fill="none" stroke="#2b2b2b" stroke-width="1.6"/>
<rect x="120.3" y="1125.6" width="411" height="110.9" fill="none" stroke="#2b2b2b" stroke-width="1.6"/>
<text x="127.7" y="1247.8" font-size="22.5" transform="rotate(90 127.7 1247.8)">J4</text>
<text x="155.1" y="1247.8" font-size="22.5" transform="rotate(90 155.1 1247.8)">J3</text>
<text x="182.5" y="1247.8" font-size="22.5" transform="rotate(90 182.5 1247.8)">J5</text>
<text x="209.9" y="1247.8" font-size="22.5" transform="rotate(90 209.9 1247.8)">J6</text>
<text x="237.3" y="1247.8" font-size="22.5" transform="rotate(90 237.3 1247.8)">J7</text>
<text x="264.7" y="1247.8" font-size="22.5" transform="rotate(90 264.7 1247.8)">J8</text>
<text x="292.1" y="1247.8" font-size="22.5" transform="rotate(90 292.1 1247.8)">J9</text>
<text x="319.5" y="1247.8" font-size="22.5" transform="rotate(90 319.5 1247.8)">J10</text>
<text x="346.9" y="1247.8" font-size="22.5" transform="rotate(90 346.9 1247.8)">J12</text>
<text x="374.3" y="1247.8" font-size="22.5" transform="rotate(90 374.3 1247.8)">J13</text>
<text x="401.7" y="1247.8" font-size="22.5" transform="rotate(90 401.7 1247.8)">J15</text>
<text x="429.1" y="1247.8" font-size="22.5" transform="rotate(90 429.1 1247.8)">J17</text>
<text x="456.5" y="1247.8" font-size="22.5" transform="rotate(90 456.5 1247.8)">J18</text>
<text x="483.9" y="1247.8" font-size="22.5" transform="rotate(90 483.9 1247.8)">J19</text>
<text x="511.3" y="1247.8" font-size="22.5" transform="rotate(90 511.3 1247.8)">J20</text>
<g stroke="#2b2b2b" stroke-width="1.1">
<rect x="539.7" y="1098.3" width="27.4" height="21" fill="#d62739"/>
<rect x="567.1" y="1098.3" width="27.4" height="21" fill="#d62739"/>
<rect x="594.5" y="1098.3" width="27.4" height="21" fill="#d62739"/>
<rect x="621.9" y="1098.3" width="27.4" height="21" fill="#d62739"/>
<rect x="649.3" y="1098.3" width="27.4" height="21" fill="#d62739"/>
<rect x="676.8" y="1098.3" width="27.4" height="21" fill="#d62739"/>
<rect x="704.2" y="1098.3" width="27.4" height="21" fill="#d62739"/>
<rect x="731.6" y="1098.3" width="27.4" height="21" fill="#d62739"/>
<rect x="759" y="1098.3" width="27.4" height="21" fill="#d62739"/>
<rect x="786.4" y="1098.3" width="27.4" height="21" fill="#d62739"/>
<rect x="539.7" y="1125.6" width="27.4" height="27.7" fill="#00190a"/>
<rect x="567.1" y="1125.6" width="27.4" height="27.7" fill="#00190a"/>
<rect x="594.5" y="1125.6" width="27.4" height="27.7" fill="#69120f"/>
<rect x="621.9" y="1125.6" width="27.4" height="27.7" fill="#4b0008"/>
<rect x="649.3" y="1125.6" width="27.4" height="27.7" fill="#002814"/>
<rect x="676.8" y="1125.6" width="27.4" height="27.7" fill="#000300"/>
<rect x="704.2" y="1125.6" width="27.4" height="27.7" fill="#d72323"/>
<rect x="731.6" y="1125.6" width="27.4" height="27.7" fill="#41000f"/>
<rect x="759" y="1125.6" width="27.4" height="27.7" fill="#00230f"/>
<rect x="786.4" y="1125.6" width="27.4" height="27.7" fill="#050a05"/>
<rect x="539.7" y="1153.3" width="27.4" height="27.6" fill="#69120f"/>
<rect x="567.1" y="1153.3" width="27.4" height="27.6" fill="#32000a"/>
<rect x="594.5" y="1153.3" width="27.4" height="27.6" fill="#8c1912"/>
<rect x="621.9" y="1153.3" width="27.4" height="27.6" fill="#4b000c"/>
<rect x="649.3" y="1153.3" width="27.4" height="27.6" fill="#37000c"/>
<rect x="676.8" y="1153.3" width="27.4" height="27.6" fill="#5f0f0f"/>
<rect x="704.2" y="1153.3" width="27.4" height="27.6" fill="#5a0a0f"/>
<rect x="731.6" y="1153.3" width="27.4" height="27.6" fill="#640f0f"/>
<rect x="759" y="1153.3" width="27.4" height="27.6" fill="#37000f"/>
<rect x="786.4" y="1153.3" width="27.4" height="27.6" fill="#003219"/>
<rect x="539.7" y="1180.9" width="27.4" height="27.5" fill="#006e3c"/>
<rect x="567.1" y="1180.9" width="27.4" height="27.5" fill="#640f0f"/>
<rect x="594.5" y="1180.9" width="27.4" height="27.5" fill="#004b28"/>
<rect x="621.9" y="1180.9" width="27.4" height="27.5" fill="#00230f"/>
<rect x="649.3" y="1180.9" width="27.4" height="27.5" fill="#003219"/>
<rect x="676.8" y="1180.9" width="27.4" height="27.5" fill="#4b0012"/>
<rect x="704.2" y="1180.9" width="27.4" height="27.5" fill="#32000c"/>
<rect x="731.6" y="1180.9" width="27.4" height="27.5" fill="#821912"/>
<rect x="759" y="1180.9" width="27.4" height="27.5" fill="#3c0012"/>
<rect x="786.4" y="1180.9" width="27.4" height="27.5" fill="#7d1912"/>
<rect x="539.7" y="1208.4" width="27.4" height="28.1" fill="#00a05f"/>
<rect x="567.1" y="1208.4" width="27.4" height="28.1" fill="#37000f"/>
<rect x="594.5" y="1208.4" width="27.4" height="28.1" fill="#00502d"/>
<rect x="621.9" y="1208.4" width="27.4" height="28.1" fill="#37000f"/>
<rect x="649.3" y="1208.4" width="27.4" height="28.1" fill="#002d16"/>
<rect x="676.8" y="1208.4" width="27.4" height="28.1" fill="#002612"/>
<rect x="704.2" y="1208.4" width="27.4" height="28.1" fill="#46000f"/>
<rect x="731.6" y="1208.4" width="27.4" height="28.1" fill="#003c1e"/>
<rect x="759" y="1208.4" width="27.4" height="28.1" fill="#05190a"/>
<rect x="786.4" y="1208.4" width="27.4" height="28.1" fill="#002d16"/>
</g>
<rect x="539.7" y="1098.3" width="274.1" height="21" fill="none" stroke="#2b2b2b" stroke-width="1.6"/>
<rect x="539.7" y="1125.6" width="274.1" height="110.9" fill="none" stroke="#2b2b2b" stroke-width="1.6"/>
<text x="547.1" y="1247.8" font-size="22.5" transform="rotate(90 547.1 1247.8)">O1</text>
<text x="574.5" y="1247.8" font-size="22.5" transform="rotate(90 574.5 1247.8)">O2</text>
<text x="601.9" y="1247.8" font-size="22.5" transform="rotate(90 601.9 1247.8)">O3</text>
<text x="629.3" y="1247.8" font-size="22.5" transform="rotate(90 629.3 1247.8)">O4</text>
<text x="656.7" y="1247.8" font-size="22.5" transform="rotate(90 656.7 1247.8)">O5</text>
<text x="684.2" y="1247.8" font-size="22.5" transform="rotate(90 684.2 1247.8)">O6</text>
<text x="711.6" y="1247.8" font-size="22.5" transform="rotate(90 711.6 1247.8)">O7</text>
<text x="739" y="1247.8" font-size="22.5" transform="rotate(90 739 1247.8)">O8</text>
<text x="766.4" y="1247.8" font-size="22.5" transform="rotate(90 766.4 1247.8)">O9</text>
<text x="793.8" y="1247.8" font-size="22.5" transform="rotate(90 793.8 1247.8)">O10</text>
<g stroke="#2b2b2b" stroke-width="1.1">
<rect x="821.9" y="1098.3" width="27.5" height="21" fill="#d62739"/>
<rect x="849.4" y="1098.3" width="27.5" height="21" fill="#d62739"/>
<rect x="876.9" y="1098.3" width="27.5" height="21" fill="#d62739"/>
<rect x="904.4" y="1098.3" width="27.5" height="21" fill="#d62739"/>
<rect x="931.9" y="1098.3" width="27.5" height="21" fill="#d62739"/>
<rect x="959.3" y="1098.3" width="27.5" height="21" fill="#d62739"/>
<rect x="986.8" y="1098.3" width="27.5" height="21" fill="#d62739"/>
<rect x="1014.3" y="1098.3" width="27.5" height="21" fill="#d62739"/>
<rect x="1041.8" y="1098.3" width="27.5" height="21" fill="#d62739"/>
<rect x="821.9" y="1125.6" width="27.5" height="27.7" fill="#cd2823"/>
<rect x="849.4" y="1125.6" width="27.5" height="27.7" fill="#37000a"/>
<rect x="876.9" y="1125.6" width="27.5" height="27.7" fill="#001e0c"/>
<rect x="904.4" y="1125.6" width="27.5" height="27.7" fill="#280008"/>
<rect x="931.9" y="1125.6" width="27.5" height="27.7" fill="#87190f"/>
<rect x="959.3" y="1125.6" width="27.5" height="27.7" fill="#5f0a0f"/>
<rect x="986.8" y="1125.6" width="27.5" height="27.7" fill="#46000f"/>
<rect x="1014.3" y="1125.6" width="27.5" height="27.7" fill="#73160f"/>
<rect x="1041.8" y="1125.6" width="27.5" height="27.7" fill="#46000f"/>
<rect x="821.9" y="1153.3" width="27.5" height="27.6" fill="#640f0f"/>
<rect x="849.4" y="1153.3" width="27.5" height="27.6" fill="#50000f"/>
<rect x="876.9" y="1153.3" width="27.5" height="27.6" fill="#46000f"/>
<rect x="904.4" y="1153.3" width="27.5" height="27.6" fill="#4b000f"/>
<rect x="931.9" y="1153.3" width="27.5" height="27.6" fill="#6e140f"/>
<rect x="959.3" y="1153.3" width="27.5" height="27.6" fill="#8c1912"/>
<rect x="986.8" y="1153.3" width="27.5" height="27.6" fill="#00160a"/>
<rect x="1014.3" y="1153.3" width="27.5" height="27.6" fill="#911c14"/>
<rect x="1041.8" y="1153.3" width="27.5" height="27.6" fill="#640f0f"/>
<rect x="821.9" y="1180.9" width="27.5" height="27.5" fill="#78160f"/>
<rect x="849.4" y="1180.9" width="27.5" height="27.5" fill="#003c1e"/>
<rect x="876.9" y="1180.9" width="27.5" height="27.5" fill="#002812"/>
<rect x="904.4" y="1180.9" width="27.5" height="27.5" fill="#00a564"/>
<rect x="931.9" y="1180.9" width="27.5" height="27.5" fill="#280008"/>
<rect x="959.3" y="1180.9" width="27.5" height="27.5" fill="#003a1c"/>
<rect x="986.8" y="1180.9" width="27.5" height="27.5" fill="#230008"/>
<rect x="1014.3" y="1180.9" width="27.5" height="27.5" fill="#00552d"/>
<rect x="1041.8" y="1180.9" width="27.5" height="27.5" fill="#1e0005"/>
<rect x="821.9" y="1208.4" width="27.5" height="28.1" fill="#87190f"/>
<rect x="849.4" y="1208.4" width="27.5" height="28.1" fill="#73140f"/>
<rect x="876.9" y="1208.4" width="27.5" height="28.1" fill="#41000f"/>
<rect x="904.4" y="1208.4" width="27.5" height="28.1" fill="#005a32"/>
<rect x="931.9" y="1208.4" width="27.5" height="28.1" fill="#37000c"/>
<rect x="959.3" y="1208.4" width="27.5" height="28.1" fill="#32000c"/>
<rect x="986.8" y="1208.4" width="27.5" height="28.1" fill="#230008"/>
<rect x="1014.3" y="1208.4" width="27.5" height="28.1" fill="#050c05"/>
<rect x="1041.8" y="1208.4" width="27.5" height="28.1" fill="#73140f"/>
</g>
<rect x="821.9" y="1098.3" width="247.4" height="21" fill="none" stroke="#2b2b2b" stroke-width="1.6"/>
<rect x="821.9" y="1125.6" width="247.4" height="110.9" fill="none" stroke="#2b2b2b" stroke-width="1.6"/>
<text x="829.3" y="1247.8" font-size="22.5" transform="rotate(90 829.3 1247.8)">P1</text>
<text x="856.8" y="1247.8" font-size="22.5" transform="rotate(90 856.8 1247.8)">P2</text>
<text x="884.3" y="1247.8" font-size="22.5" transform="rotate(90 884.3 1247.8)">P3</text>
<text x="911.8" y="1247.8" font-size="22.5" transform="rotate(90 911.8 1247.8)">P4</text>
<text x="939.3" y="1247.8" font-size="22.5" transform="rotate(90 939.3 1247.8)">P5</text>
<text x="966.8" y="1247.8" font-size="22.5" transform="rotate(90 966.8 1247.8)">P6</text>
<text x="994.3" y="1247.8" font-size="22.5" transform="rotate(90 994.3 1247.8)">P8</text>
<text x="1021.8" y="1247.8" font-size="22.5" transform="rotate(90 1021.8 1247.8)">P9</text>
<text x="1049.3" y="1247.8" font-size="22.5" transform="rotate(90 1049.3 1247.8)">P10</text>
<text x="1082.5" y="1117.6" font-size="22.5">Cohort</text>
<text x="1082.5" y="1147.4" font-size="22.5">DNMT3B</text>
<text x="1082.5" y="1175.3" font-size="22.5">DNMT3L</text>
<text x="1082.5" y="1203.1" font-size="22.5">DNMT1</text>
<text x="1082.5" y="1231.4" font-size="22.5">DNMT3A</text>
<path d="M120.3 1139.4 H93.3 V1167.1 H120.3 M120.3 1194.7 H71 V1222.5 H120.3 M93.3 1153.3 H2.5 V1208.6 H71" fill="none" stroke="#333" stroke-width="1.6"/>
<defs><linearGradient id="zg" x1="0" x2="1" y1="0" y2="0"><stop offset="0" stop-color="#ee5a4f"/><stop offset="0.2" stop-color="#c24c3d"/><stop offset="0.36" stop-color="#8f3c2e"/><stop offset="0.45" stop-color="#5e2530"/><stop offset="0.495" stop-color="#2a1624"/><stop offset="0.505" stop-color="#0b2c1a"/><stop offset="0.6" stop-color="#0c4a2c"/><stop offset="0.8" stop-color="#16824f"/><stop offset="1" stop-color="#24b777"/></linearGradient></defs>
<rect x="871.5" y="1303.2" width="202.5" height="23.2" fill="url(#zg)"/>
<text x="1081" y="1323.8" font-size="22.5"><tspan font-style="italic">Z</tspan> score</text>
<text x="871.2" y="1337.4" font-size="22.5" transform="rotate(90 871.2 1337.4)">−3</text>
<text x="902.2" y="1337.4" font-size="22.5" transform="rotate(90 902.2 1337.4)">−2</text>
<text x="933.2" y="1337.4" font-size="22.5" transform="rotate(90 933.2 1337.4)">−1</text>
<text x="964.2" y="1337.4" font-size="22.5" transform="rotate(90 964.2 1337.4)">0</text>
<text x="995.2" y="1337.4" font-size="22.5" transform="rotate(90 995.2 1337.4)">1</text>
<text x="1026.2" y="1337.4" font-size="22.5" transform="rotate(90 1026.2 1337.4)">2</text>
<text x="1057.2" y="1337.4" font-size="22.5" transform="rotate(90 1057.2 1337.4)">3</text>
<line x1="152.9" y1="1451.4" x2="152.9" y2="1877" stroke="#111" stroke-width="2.2"/>
<line x1="145.4" y1="1469.9" x2="152.9" y2="1469.9" stroke="#111" stroke-width="2"/>
<text x="131" y="1480.2" font-size="29" text-anchor="end">700</text>
<line x1="145.4" y1="1567.1" x2="152.9" y2="1567.1" stroke="#111" stroke-width="2"/>
<text x="131" y="1577.4" font-size="29" text-anchor="end">600</text>
<line x1="145.4" y1="1663.3" x2="152.9" y2="1663.3" stroke="#111" stroke-width="2"/>
<text x="131" y="1673.6" font-size="29" text-anchor="end">500</text>
<line x1="145.4" y1="1760.3" x2="152.9" y2="1760.3" stroke="#111" stroke-width="2"/>
<text x="131" y="1770.6" font-size="29" text-anchor="end">400</text>
<line x1="145.4" y1="1856.5" x2="152.9" y2="1856.5" stroke="#111" stroke-width="2"/>
<text x="131" y="1866.8" font-size="29" text-anchor="end">300</text>
<text x="150.8" y="1433.5" font-size="29.5">DNMT1</text>
<line x1="201.6" y1="1666.7" x2="201.6" y2="1698.4" stroke="#555" stroke-width="1.5"/>
<line x1="201.6" y1="1725.3" x2="201.6" y2="1753.7" stroke="#555" stroke-width="1.5"/>
<rect x="170.8" y="1698.4" width="61.7" height="26.9" fill="none" stroke="#555" stroke-width="1.6"/>
<line x1="170.8" y1="1717.6" x2="232.5" y2="1717.6" stroke="#333" stroke-width="2.4"/>
<g fill="#4d66a6" fill-opacity="0.78">
<circle cx="203" cy="1666.8" r="3.8"/>
<circle cx="204.3" cy="1673.3" r="3.8"/>
<circle cx="203" cy="1677.3" r="3.8"/>
<circle cx="201.6" cy="1697.1" r="3.8"/>
<circle cx="204.3" cy="1701" r="3.8"/>
<circle cx="205.1" cy="1705" r="3.8"/>
<circle cx="197.7" cy="1707.6" r="3.8"/>
<circle cx="200.3" cy="1718.1" r="3.8"/>
<circle cx="203" cy="1722.1" r="3.8"/>
<circle cx="199" cy="1723.4" r="3.8"/>
<circle cx="197.7" cy="1727.4" r="3.8"/>
<circle cx="199" cy="1741.9" r="3.8"/>
<circle cx="203" cy="1741.9" r="3.8"/>
<circle cx="197.7" cy="1753.7" r="3.8"/>
</g>
<line x1="283.3" y1="1633.8" x2="283.3" y2="1683.4" stroke="#555" stroke-width="1.5"/>
<line x1="283.3" y1="1719.5" x2="283.3" y2="1751" stroke="#555" stroke-width="1.5"/>
<rect x="252.5" y="1683.4" width="61.7" height="36.1" fill="none" stroke="#555" stroke-width="1.6"/>
<line x1="252.5" y1="1705" x2="314.2" y2="1705" stroke="#333" stroke-width="2.4"/>
<g fill="#e3402c" fill-opacity="0.78">
<circle cx="285.2" cy="1577.1" r="3.8"/>
<circle cx="284.1" cy="1632" r="3.8"/>
<circle cx="281.5" cy="1664.1" r="3.8"/>
<circle cx="284.7" cy="1670.7" r="3.8"/>
<circle cx="284.7" cy="1682.6" r="3.8"/>
<circle cx="287.3" cy="1685.7" r="3.8"/>
<circle cx="283.3" cy="1686.5" r="3.8"/>
<circle cx="280.7" cy="1697.1" r="3.8"/>
<circle cx="284.1" cy="1697.1" r="3.8"/>
<circle cx="286" cy="1705" r="3.8"/>
<circle cx="284.7" cy="1708.9" r="3.8"/>
<circle cx="287.3" cy="1708.9" r="3.8"/>
<circle cx="283.3" cy="1712.9" r="3.8"/>
<circle cx="279.4" cy="1715.5" r="3.8"/>
<circle cx="283.3" cy="1723.4" r="3.8"/>
<circle cx="284.7" cy="1737.4" r="3.8"/>
<circle cx="279.4" cy="1747.9" r="3.8"/>
<circle cx="284.7" cy="1750.6" r="3.8"/>
<circle cx="280.7" cy="1753.7" r="3.8"/>
</g>
<line x1="423.6" y1="1451.4" x2="423.6" y2="1877" stroke="#111" stroke-width="2.2"/>
<line x1="416.1" y1="1469.9" x2="423.6" y2="1469.9" stroke="#111" stroke-width="2"/>
<text x="402.5" y="1480.2" font-size="29" text-anchor="end">350</text>
<line x1="416.1" y1="1599" x2="423.6" y2="1599" stroke="#111" stroke-width="2"/>
<text x="402.5" y="1609.3" font-size="29" text-anchor="end">300</text>
<line x1="416.1" y1="1728.2" x2="423.6" y2="1728.2" stroke="#111" stroke-width="2"/>
<text x="402.5" y="1738.5" font-size="29" text-anchor="end">250</text>
<line x1="416.1" y1="1856.5" x2="423.6" y2="1856.5" stroke="#111" stroke-width="2"/>
<text x="402.5" y="1866.8" font-size="29" text-anchor="end">200</text>
<text x="421.2" y="1433.5" font-size="29.5">DNMT3A</text>
<line x1="471.8" y1="1635" x2="471.8" y2="1678.6" stroke="#555" stroke-width="1.5"/>
<line x1="471.8" y1="1721.3" x2="471.8" y2="1769.5" stroke="#555" stroke-width="1.5"/>
<rect x="441" y="1678.6" width="61.6" height="42.7" fill="none" stroke="#555" stroke-width="1.6"/>
<line x1="441" y1="1701.8" x2="502.6" y2="1701.8" stroke="#333" stroke-width="2.4"/>
<g fill="#4d66a6" fill-opacity="0.78">
<circle cx="475.7" cy="1610.1" r="3.8"/>
<circle cx="472.6" cy="1635.1" r="3.8"/>
<circle cx="474.4" cy="1665.4" r="3.8"/>
<circle cx="468.6" cy="1675.5" r="3.8"/>
<circle cx="474.9" cy="1681.2" r="3.8"/>
<circle cx="470.5" cy="1683.4" r="3.8"/>
<circle cx="473.1" cy="1697.1" r="3.8"/>
<circle cx="469.7" cy="1702.3" r="3.8"/>
<circle cx="469.2" cy="1716.3" r="3.8"/>
<circle cx="472.6" cy="1715" r="3.8"/>
<circle cx="474.4" cy="1720.8" r="3.8"/>
<circle cx="471.8" cy="1727.4" r="3.8"/>
<circle cx="473.9" cy="1735.3" r="3.8"/>
<circle cx="470.5" cy="1769.5" r="3.8"/>
</g>
<line x1="554" y1="1653.6" x2="554" y2="1680" stroke="#555" stroke-width="1.5"/>
<line x1="554" y1="1710.2" x2="554" y2="1751.1" stroke="#555" stroke-width="1.5"/>
<rect x="523.2" y="1680" width="61.4" height="30.2" fill="none" stroke="#555" stroke-width="1.6"/>
<line x1="523.2" y1="1698.4" x2="584.6" y2="1698.4" stroke="#333" stroke-width="2.4"/>
<g fill="#e3402c" fill-opacity="0.78">
<circle cx="551.6" cy="1568.4" r="3.8"/>
<circle cx="550.1" cy="1651.7" r="3.8"/>
<circle cx="556.1" cy="1653.6" r="3.8"/>
<circle cx="557.4" cy="1669.9" r="3.8"/>
<circle cx="553" cy="1677.3" r="3.8"/>
<circle cx="552.2" cy="1683.9" r="3.8"/>
<circle cx="554" cy="1682.6" r="3.8"/>
<circle cx="554" cy="1690.5" r="3.8"/>
<circle cx="556.1" cy="1694.4" r="3.8"/>
<circle cx="554" cy="1699.7" r="3.8"/>
<circle cx="553.5" cy="1705" r="3.8"/>
<circle cx="557.4" cy="1706.3" r="3.8"/>
<circle cx="555.6" cy="1707.6" r="3.8"/>
<circle cx="550.1" cy="1714.2" r="3.8"/>
<circle cx="555.6" cy="1712.9" r="3.8"/>
<circle cx="557.4" cy="1734" r="3.8"/>
<circle cx="550.1" cy="1737.4" r="3.8"/>
<circle cx="557.4" cy="1752.4" r="3.8"/>
</g>
<line x1="711.4" y1="1451.4" x2="711.4" y2="1877" stroke="#111" stroke-width="2.2"/>
<line x1="703.9" y1="1469.8" x2="711.4" y2="1469.8" stroke="#111" stroke-width="2"/>
<text x="690.3" y="1480.1" font-size="29" text-anchor="end">5000</text>
<line x1="703.9" y1="1547.1" x2="711.4" y2="1547.1" stroke="#111" stroke-width="2"/>
<text x="690.3" y="1557.4" font-size="29" text-anchor="end">4000</text>
<line x1="703.9" y1="1624.5" x2="711.4" y2="1624.5" stroke="#111" stroke-width="2"/>
<text x="690.3" y="1634.8" font-size="29" text-anchor="end">3000</text>
<line x1="703.9" y1="1701.8" x2="711.4" y2="1701.8" stroke="#111" stroke-width="2"/>
<text x="690.3" y="1712.1" font-size="29" text-anchor="end">2000</text>
<line x1="703.9" y1="1779.1" x2="711.4" y2="1779.1" stroke="#111" stroke-width="2"/>
<text x="690.3" y="1789.4" font-size="29" text-anchor="end">1000</text>
<line x1="703.9" y1="1856.3" x2="711.4" y2="1856.3" stroke="#111" stroke-width="2"/>
<text x="690.3" y="1866.6" font-size="29" text-anchor="end">0</text>
<text x="710.9" y="1433.5" font-size="29.5">DNMT3B</text>
<line x1="755.1" y1="1528.3" x2="755.1" y2="1567.8" stroke="#555" stroke-width="1.5"/>
<line x1="755.1" y1="1616" x2="755.1" y2="1683.2" stroke="#555" stroke-width="1.5"/>
<rect x="728" y="1567.8" width="55.3" height="48.2" fill="none" stroke="#555" stroke-width="1.6"/>
<line x1="728" y1="1596.3" x2="783.3" y2="1596.3" stroke="#333" stroke-width="2.4"/>
<g fill="#4d66a6" fill-opacity="0.78">
<circle cx="754.4" cy="1528.3" r="3.8"/>
<circle cx="753" cy="1542.3" r="3.8"/>
<circle cx="754.9" cy="1540.7" r="3.8"/>
<circle cx="753.8" cy="1566" r="3.8"/>
<circle cx="759.1" cy="1574.4" r="3.8"/>
<circle cx="754.4" cy="1580.2" r="3.8"/>
<circle cx="751.7" cy="1596.3" r="3.8"/>
<circle cx="757" cy="1603.4" r="3.8"/>
<circle cx="754.4" cy="1610.8" r="3.8"/>
<circle cx="755.7" cy="1608.7" r="3.8"/>
<circle cx="757" cy="1619.7" r="3.8"/>
<circle cx="751.7" cy="1623.7" r="3.8"/>
<circle cx="753.8" cy="1628.4" r="3.8"/>
<circle cx="755.7" cy="1683.2" r="3.8"/>
</g>
<line x1="829.4" y1="1635" x2="829.4" y2="1664" stroke="#555" stroke-width="1.5"/>
<line x1="829.4" y1="1728.5" x2="829.4" y2="1806.8" stroke="#555" stroke-width="1.5"/>
<rect x="801.8" y="1664" width="54.8" height="64.5" fill="none" stroke="#555" stroke-width="1.6"/>
<line x1="801.8" y1="1702.2" x2="856.6" y2="1702.2" stroke="#333" stroke-width="2.4"/>
<g fill="#e3402c" fill-opacity="0.78">
<circle cx="832.1" cy="1635" r="3.8"/>
<circle cx="828.1" cy="1652.1" r="3.8"/>
<circle cx="832.9" cy="1650.8" r="3.8"/>
<circle cx="830.2" cy="1658.7" r="3.8"/>
<circle cx="832.1" cy="1660" r="3.8"/>
<circle cx="829.4" cy="1668.7" r="3.8"/>
<circle cx="833.4" cy="1668.5" r="3.8"/>
<circle cx="832.1" cy="1678.5" r="3.8"/>
<circle cx="830.7" cy="1699.5" r="3.8"/>
<circle cx="828.1" cy="1704.8" r="3.8"/>
<circle cx="831.3" cy="1702.2" r="3.8"/>
<circle cx="830.2" cy="1707.4" r="3.8"/>
<circle cx="832.1" cy="1718.8" r="3.8"/>
<circle cx="830.7" cy="1718" r="3.8"/>
<circle cx="832.1" cy="1737.7" r="3.8"/>
<circle cx="827.3" cy="1742.5" r="3.8"/>
<circle cx="830.7" cy="1762.8" r="3.8"/>
<circle cx="827.6" cy="1801.5" r="3.8"/>
<circle cx="826.8" cy="1806.8" r="3.8"/>
</g>
<path d="M754.9 1509.9 V1501.4 H829.4 V1509.9" fill="none" stroke="#111" stroke-width="2"/>
<text x="792.5" y="1495" font-size="24" text-anchor="middle" font-weight="bold">***</text>
<line x1="928" y1="1451.4" x2="928" y2="1877" stroke="#111" stroke-width="2.2"/>
<line x1="920.5" y1="1469.8" x2="928" y2="1469.8" stroke="#111" stroke-width="2"/>
<text x="907.9" y="1480.1" font-size="29" text-anchor="end">3</text>
<line x1="920.5" y1="1598.9" x2="928" y2="1598.9" stroke="#111" stroke-width="2"/>
<text x="907.9" y="1609.2" font-size="29" text-anchor="end">2</text>
<line x1="920.5" y1="1727.7" x2="928" y2="1727.7" stroke="#111" stroke-width="2"/>
<text x="907.9" y="1738" font-size="29" text-anchor="end">1</text>
<line x1="920.5" y1="1856.3" x2="928" y2="1856.3" stroke="#111" stroke-width="2"/>
<text x="907.9" y="1866.6" font-size="29" text-anchor="end">0</text>
<text x="928" y="1433.5" font-size="29.5">DNMT3L</text>
<line x1="985.9" y1="1549.4" x2="985.9" y2="1596.8" stroke="#555" stroke-width="1.5"/>
<line x1="985.9" y1="1712.2" x2="985.9" y2="1756.2" stroke="#555" stroke-width="1.5"/>
<rect x="949.6" y="1596.8" width="73.7" height="115.4" fill="none" stroke="#555" stroke-width="1.6"/>
<line x1="949.6" y1="1669.2" x2="1023.3" y2="1669.2" stroke="#333" stroke-width="2.4"/>
<g fill="#4d66a6" fill-opacity="0.78">
<circle cx="984.6" cy="1548.9" r="3.8"/>
<circle cx="983.3" cy="1567.3" r="3.8"/>
<circle cx="988.3" cy="1586.8" r="3.8"/>
<circle cx="984.6" cy="1590.2" r="3.8"/>
<circle cx="987" cy="1604.2" r="3.8"/>
<circle cx="988.6" cy="1652.4" r="3.8"/>
<circle cx="989.1" cy="1658.2" r="3.8"/>
<circle cx="984.6" cy="1669.8" r="3.8"/>
<circle cx="982.5" cy="1679.8" r="3.8"/>
<circle cx="983.3" cy="1693" r="3.8"/>
<circle cx="988.3" cy="1709.3" r="3.8"/>
<circle cx="986.4" cy="1716.7" r="3.8"/>
<circle cx="989.1" cy="1728.8" r="3.8"/>
<circle cx="987.5" cy="1739.8" r="3.8"/>
<circle cx="983" cy="1756.2" r="3.8"/>
</g>
<line x1="1084.7" y1="1741.7" x2="1084.7" y2="1776.5" stroke="#555" stroke-width="1.5"/>
<line x1="1084.7" y1="1811" x2="1084.7" y2="1847.6" stroke="#555" stroke-width="1.5"/>
<rect x="1047.8" y="1776.5" width="73.8" height="34.5" fill="none" stroke="#555" stroke-width="1.6"/>
<line x1="1047.8" y1="1800.4" x2="1121.6" y2="1800.4" stroke="#333" stroke-width="2.4"/>
<g fill="#e3402c" fill-opacity="0.78">
<circle cx="1080.8" cy="1710.9" r="3.8"/>
<circle cx="1082.6" cy="1741.2" r="3.8"/>
<circle cx="1083.9" cy="1764.6" r="3.8"/>
<circle cx="1088.4" cy="1769.3" r="3.8"/>
<circle cx="1087.9" cy="1767.2" r="3.8"/>
<circle cx="1080" cy="1783.8" r="3.8"/>
<circle cx="1086.6" cy="1785.7" r="3.8"/>
<circle cx="1083.9" cy="1790.4" r="3.8"/>
<circle cx="1080.8" cy="1786.5" r="3.8"/>
<circle cx="1086.6" cy="1800.4" r="3.8"/>
<circle cx="1082.1" cy="1804.9" r="3.8"/>
<circle cx="1089.2" cy="1806.8" r="3.8"/>
<circle cx="1085.2" cy="1804.9" r="3.8"/>
<circle cx="1081.3" cy="1815.4" r="3.8"/>
<circle cx="1085.2" cy="1816" r="3.8"/>
<circle cx="1082.6" cy="1847.6" r="3.8"/>
<circle cx="1088.7" cy="1846.3" r="3.8"/>
<circle cx="1087.1" cy="1847.1" r="3.8"/>
</g>
<path d="M985.9 1531 V1521.2 H1085.2 V1531" fill="none" stroke="#111" stroke-width="2"/>
<text x="1035.2" y="1515" font-size="24" text-anchor="middle" font-weight="bold">***</text>
<text x="21.4" y="1662.8" font-size="28.8" text-anchor="middle" transform="rotate(-90 21.4 1662.8)">DNMT gene expression</text>
<text x="56.3" y="1665.2" font-size="28.8" text-anchor="middle" transform="rotate(-90 56.3 1665.2)">(normalised counts)</text></svg></body></html>
